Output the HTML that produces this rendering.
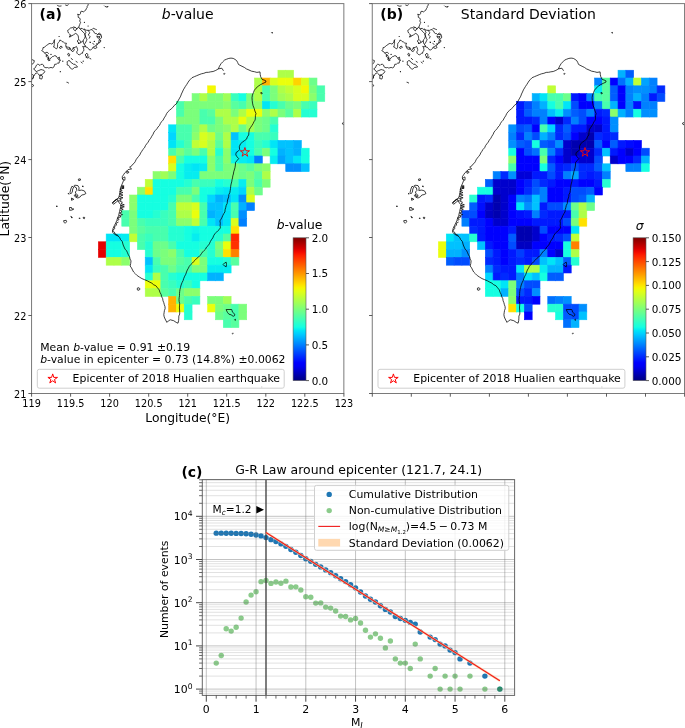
<!DOCTYPE html>
<html><head><meta charset="utf-8"><title>b-value map</title>
<style>html,body{margin:0;padding:0;background:#fff}svg{display:block}text{font-family:"DejaVu Sans","Liberation Sans",sans-serif}</style>
</head><body>
<svg width="685" height="728" viewBox="0 0 685 728" font-family="DejaVu Sans, Liberation Sans, sans-serif" fill="#000">
<rect width="685" height="728" fill="#fff"/>
<g transform="translate(0,0)">
<clipPath id="clipa"><rect x="31.56" y="3.6" width="312.29" height="389.9"/></clipPath>
<g clip-path="url(#clipa)">
<rect x="277.94" y="70.23" width="7.81" height="7.80" fill="#aeff48" stroke="#aeff48" stroke-width="0.6"/>
<rect x="285.75" y="70.23" width="7.81" height="7.80" fill="#aeff48" stroke="#aeff48" stroke-width="0.6"/>
<rect x="254.52" y="78.03" width="7.81" height="7.80" fill="#aeff48" stroke="#aeff48" stroke-width="0.6"/>
<rect x="262.32" y="78.03" width="7.81" height="7.80" fill="#ffb300" stroke="#ffb300" stroke-width="0.6"/>
<rect x="270.13" y="78.03" width="7.81" height="7.80" fill="#d8ff1e" stroke="#d8ff1e" stroke-width="0.6"/>
<rect x="277.94" y="78.03" width="7.81" height="7.80" fill="#eaff0c" stroke="#eaff0c" stroke-width="0.6"/>
<rect x="285.75" y="78.03" width="7.81" height="7.80" fill="#eaff0c" stroke="#eaff0c" stroke-width="0.6"/>
<rect x="293.55" y="78.03" width="7.81" height="7.80" fill="#ffd300" stroke="#ffd300" stroke-width="0.6"/>
<rect x="301.36" y="78.03" width="7.81" height="7.80" fill="#d8ff1e" stroke="#d8ff1e" stroke-width="0.6"/>
<rect x="309.17" y="78.03" width="7.81" height="7.80" fill="#6cff8b" stroke="#6cff8b" stroke-width="0.6"/>
<rect x="207.67" y="85.83" width="7.81" height="7.80" fill="#f4f903" stroke="#f4f903" stroke-width="0.6"/>
<rect x="254.52" y="85.83" width="7.81" height="7.80" fill="#aeff48" stroke="#aeff48" stroke-width="0.6"/>
<rect x="262.32" y="85.83" width="7.81" height="7.80" fill="#48ffae" stroke="#48ffae" stroke-width="0.6"/>
<rect x="270.13" y="85.83" width="7.81" height="7.80" fill="#7bff7b" stroke="#7bff7b" stroke-width="0.6"/>
<rect x="277.94" y="85.83" width="7.81" height="7.80" fill="#aeff48" stroke="#aeff48" stroke-width="0.6"/>
<rect x="285.75" y="85.83" width="7.81" height="7.80" fill="#c0ff36" stroke="#c0ff36" stroke-width="0.6"/>
<rect x="293.55" y="85.83" width="7.81" height="7.80" fill="#d8ff1e" stroke="#d8ff1e" stroke-width="0.6"/>
<rect x="301.36" y="85.83" width="7.81" height="7.80" fill="#f4f903" stroke="#f4f903" stroke-width="0.6"/>
<rect x="309.17" y="85.83" width="7.81" height="7.80" fill="#7bff7b" stroke="#7bff7b" stroke-width="0.6"/>
<rect x="316.97" y="85.83" width="7.81" height="7.80" fill="#48ffae" stroke="#48ffae" stroke-width="0.6"/>
<rect x="192.06" y="93.63" width="7.81" height="7.80" fill="#7bff7b" stroke="#7bff7b" stroke-width="0.6"/>
<rect x="199.87" y="93.63" width="7.81" height="7.80" fill="#aeff48" stroke="#aeff48" stroke-width="0.6"/>
<rect x="207.67" y="93.63" width="7.81" height="7.80" fill="#7bff7b" stroke="#7bff7b" stroke-width="0.6"/>
<rect x="215.48" y="93.63" width="7.81" height="7.80" fill="#7bff7b" stroke="#7bff7b" stroke-width="0.6"/>
<rect x="223.29" y="93.63" width="7.81" height="7.80" fill="#9fff58" stroke="#9fff58" stroke-width="0.6"/>
<rect x="231.09" y="93.63" width="7.81" height="7.80" fill="#39ffbe" stroke="#39ffbe" stroke-width="0.6"/>
<rect x="238.90" y="93.63" width="7.81" height="7.80" fill="#15ffe1" stroke="#15ffe1" stroke-width="0.6"/>
<rect x="246.71" y="93.63" width="7.81" height="7.80" fill="#7bff7b" stroke="#7bff7b" stroke-width="0.6"/>
<rect x="254.52" y="93.63" width="7.81" height="7.80" fill="#aeff48" stroke="#aeff48" stroke-width="0.6"/>
<rect x="262.32" y="93.63" width="7.81" height="7.80" fill="#48ffae" stroke="#48ffae" stroke-width="0.6"/>
<rect x="270.13" y="93.63" width="7.81" height="7.80" fill="#7bff7b" stroke="#7bff7b" stroke-width="0.6"/>
<rect x="277.94" y="93.63" width="7.81" height="7.80" fill="#9fff58" stroke="#9fff58" stroke-width="0.6"/>
<rect x="285.75" y="93.63" width="7.81" height="7.80" fill="#aeff48" stroke="#aeff48" stroke-width="0.6"/>
<rect x="293.55" y="93.63" width="7.81" height="7.80" fill="#d8ff1e" stroke="#d8ff1e" stroke-width="0.6"/>
<rect x="301.36" y="93.63" width="7.81" height="7.80" fill="#d8ff1e" stroke="#d8ff1e" stroke-width="0.6"/>
<rect x="309.17" y="93.63" width="7.81" height="7.80" fill="#8bff6c" stroke="#8bff6c" stroke-width="0.6"/>
<rect x="316.97" y="93.63" width="7.81" height="7.80" fill="#48ffae" stroke="#48ffae" stroke-width="0.6"/>
<rect x="176.44" y="101.42" width="7.81" height="7.80" fill="#48ffae" stroke="#48ffae" stroke-width="0.6"/>
<rect x="184.25" y="101.42" width="7.81" height="7.80" fill="#7bff7b" stroke="#7bff7b" stroke-width="0.6"/>
<rect x="192.06" y="101.42" width="7.81" height="7.80" fill="#7bff7b" stroke="#7bff7b" stroke-width="0.6"/>
<rect x="199.87" y="101.42" width="7.81" height="7.80" fill="#7bff7b" stroke="#7bff7b" stroke-width="0.6"/>
<rect x="207.67" y="101.42" width="7.81" height="7.80" fill="#7bff7b" stroke="#7bff7b" stroke-width="0.6"/>
<rect x="215.48" y="101.42" width="7.81" height="7.80" fill="#7bff7b" stroke="#7bff7b" stroke-width="0.6"/>
<rect x="223.29" y="101.42" width="7.81" height="7.80" fill="#8bff6c" stroke="#8bff6c" stroke-width="0.6"/>
<rect x="231.09" y="101.42" width="7.81" height="7.80" fill="#58ff9f" stroke="#58ff9f" stroke-width="0.6"/>
<rect x="238.90" y="101.42" width="7.81" height="7.80" fill="#48ffae" stroke="#48ffae" stroke-width="0.6"/>
<rect x="246.71" y="101.42" width="7.81" height="7.80" fill="#7bff7b" stroke="#7bff7b" stroke-width="0.6"/>
<rect x="254.52" y="101.42" width="7.81" height="7.80" fill="#8bff6c" stroke="#8bff6c" stroke-width="0.6"/>
<rect x="262.32" y="101.42" width="7.81" height="7.80" fill="#00e5f7" stroke="#00e5f7" stroke-width="0.6"/>
<rect x="270.13" y="101.42" width="7.81" height="7.80" fill="#25ffd2" stroke="#25ffd2" stroke-width="0.6"/>
<rect x="277.94" y="101.42" width="7.81" height="7.80" fill="#48ffae" stroke="#48ffae" stroke-width="0.6"/>
<rect x="285.75" y="101.42" width="7.81" height="7.80" fill="#6cff8b" stroke="#6cff8b" stroke-width="0.6"/>
<rect x="293.55" y="101.42" width="7.81" height="7.80" fill="#7bff7b" stroke="#7bff7b" stroke-width="0.6"/>
<rect x="301.36" y="101.42" width="7.81" height="7.80" fill="#48ffae" stroke="#48ffae" stroke-width="0.6"/>
<rect x="309.17" y="101.42" width="7.81" height="7.80" fill="#39ffbe" stroke="#39ffbe" stroke-width="0.6"/>
<rect x="176.44" y="109.22" width="7.81" height="7.80" fill="#48ffae" stroke="#48ffae" stroke-width="0.6"/>
<rect x="184.25" y="109.22" width="7.81" height="7.80" fill="#7bff7b" stroke="#7bff7b" stroke-width="0.6"/>
<rect x="192.06" y="109.22" width="7.81" height="7.80" fill="#7bff7b" stroke="#7bff7b" stroke-width="0.6"/>
<rect x="199.87" y="109.22" width="7.81" height="7.80" fill="#48ffae" stroke="#48ffae" stroke-width="0.6"/>
<rect x="207.67" y="109.22" width="7.81" height="7.80" fill="#58ff9f" stroke="#58ff9f" stroke-width="0.6"/>
<rect x="215.48" y="109.22" width="7.81" height="7.80" fill="#aeff48" stroke="#aeff48" stroke-width="0.6"/>
<rect x="223.29" y="109.22" width="7.81" height="7.80" fill="#aeff48" stroke="#aeff48" stroke-width="0.6"/>
<rect x="231.09" y="109.22" width="7.81" height="7.80" fill="#7bff7b" stroke="#7bff7b" stroke-width="0.6"/>
<rect x="238.90" y="109.22" width="7.81" height="7.80" fill="#aeff48" stroke="#aeff48" stroke-width="0.6"/>
<rect x="246.71" y="109.22" width="7.81" height="7.80" fill="#eaff0c" stroke="#eaff0c" stroke-width="0.6"/>
<rect x="254.52" y="109.22" width="7.81" height="7.80" fill="#eaff0c" stroke="#eaff0c" stroke-width="0.6"/>
<rect x="262.32" y="109.22" width="7.81" height="7.80" fill="#8bff6c" stroke="#8bff6c" stroke-width="0.6"/>
<rect x="270.13" y="109.22" width="7.81" height="7.80" fill="#aeff48" stroke="#aeff48" stroke-width="0.6"/>
<rect x="277.94" y="109.22" width="7.81" height="7.80" fill="#7bff7b" stroke="#7bff7b" stroke-width="0.6"/>
<rect x="285.75" y="109.22" width="7.81" height="7.80" fill="#58ff9f" stroke="#58ff9f" stroke-width="0.6"/>
<rect x="293.55" y="109.22" width="7.81" height="7.80" fill="#aeff48" stroke="#aeff48" stroke-width="0.6"/>
<rect x="301.36" y="109.22" width="7.81" height="7.80" fill="#25ffd2" stroke="#25ffd2" stroke-width="0.6"/>
<rect x="309.17" y="109.22" width="7.81" height="7.80" fill="#25ffd2" stroke="#25ffd2" stroke-width="0.6"/>
<rect x="176.44" y="117.02" width="7.81" height="7.80" fill="#7bff7b" stroke="#7bff7b" stroke-width="0.6"/>
<rect x="184.25" y="117.02" width="7.81" height="7.80" fill="#7bff7b" stroke="#7bff7b" stroke-width="0.6"/>
<rect x="192.06" y="117.02" width="7.81" height="7.80" fill="#7bff7b" stroke="#7bff7b" stroke-width="0.6"/>
<rect x="199.87" y="117.02" width="7.81" height="7.80" fill="#48ffae" stroke="#48ffae" stroke-width="0.6"/>
<rect x="207.67" y="117.02" width="7.81" height="7.80" fill="#48ffae" stroke="#48ffae" stroke-width="0.6"/>
<rect x="215.48" y="117.02" width="7.81" height="7.80" fill="#7bff7b" stroke="#7bff7b" stroke-width="0.6"/>
<rect x="223.29" y="117.02" width="7.81" height="7.80" fill="#aeff48" stroke="#aeff48" stroke-width="0.6"/>
<rect x="231.09" y="117.02" width="7.81" height="7.80" fill="#aeff48" stroke="#aeff48" stroke-width="0.6"/>
<rect x="238.90" y="117.02" width="7.81" height="7.80" fill="#eaff0c" stroke="#eaff0c" stroke-width="0.6"/>
<rect x="246.71" y="117.02" width="7.81" height="7.80" fill="#aeff48" stroke="#aeff48" stroke-width="0.6"/>
<rect x="254.52" y="117.02" width="7.81" height="7.80" fill="#7bff7b" stroke="#7bff7b" stroke-width="0.6"/>
<rect x="262.32" y="117.02" width="7.81" height="7.80" fill="#6cff8b" stroke="#6cff8b" stroke-width="0.6"/>
<rect x="270.13" y="117.02" width="7.81" height="7.80" fill="#48ffae" stroke="#48ffae" stroke-width="0.6"/>
<rect x="168.64" y="124.82" width="7.81" height="7.80" fill="#00e5f7" stroke="#00e5f7" stroke-width="0.6"/>
<rect x="176.44" y="124.82" width="7.81" height="7.80" fill="#48ffae" stroke="#48ffae" stroke-width="0.6"/>
<rect x="184.25" y="124.82" width="7.81" height="7.80" fill="#48ffae" stroke="#48ffae" stroke-width="0.6"/>
<rect x="192.06" y="124.82" width="7.81" height="7.80" fill="#7bff7b" stroke="#7bff7b" stroke-width="0.6"/>
<rect x="199.87" y="124.82" width="7.81" height="7.80" fill="#aeff48" stroke="#aeff48" stroke-width="0.6"/>
<rect x="207.67" y="124.82" width="7.81" height="7.80" fill="#6cff8b" stroke="#6cff8b" stroke-width="0.6"/>
<rect x="215.48" y="124.82" width="7.81" height="7.80" fill="#7bff7b" stroke="#7bff7b" stroke-width="0.6"/>
<rect x="223.29" y="124.82" width="7.81" height="7.80" fill="#8bff6c" stroke="#8bff6c" stroke-width="0.6"/>
<rect x="231.09" y="124.82" width="7.81" height="7.80" fill="#aeff48" stroke="#aeff48" stroke-width="0.6"/>
<rect x="238.90" y="124.82" width="7.81" height="7.80" fill="#6cff8b" stroke="#6cff8b" stroke-width="0.6"/>
<rect x="246.71" y="124.82" width="7.81" height="7.80" fill="#9fff58" stroke="#9fff58" stroke-width="0.6"/>
<rect x="254.52" y="124.82" width="7.81" height="7.80" fill="#7bff7b" stroke="#7bff7b" stroke-width="0.6"/>
<rect x="262.32" y="124.82" width="7.81" height="7.80" fill="#6cff8b" stroke="#6cff8b" stroke-width="0.6"/>
<rect x="270.13" y="124.82" width="7.81" height="7.80" fill="#25ffd2" stroke="#25ffd2" stroke-width="0.6"/>
<rect x="168.64" y="132.62" width="7.81" height="7.80" fill="#00d6ff" stroke="#00d6ff" stroke-width="0.6"/>
<rect x="176.44" y="132.62" width="7.81" height="7.80" fill="#48ffae" stroke="#48ffae" stroke-width="0.6"/>
<rect x="184.25" y="132.62" width="7.81" height="7.80" fill="#48ffae" stroke="#48ffae" stroke-width="0.6"/>
<rect x="192.06" y="132.62" width="7.81" height="7.80" fill="#8bff6c" stroke="#8bff6c" stroke-width="0.6"/>
<rect x="199.87" y="132.62" width="7.81" height="7.80" fill="#d8ff1e" stroke="#d8ff1e" stroke-width="0.6"/>
<rect x="207.67" y="132.62" width="7.81" height="7.80" fill="#c0ff36" stroke="#c0ff36" stroke-width="0.6"/>
<rect x="215.48" y="132.62" width="7.81" height="7.80" fill="#6cff8b" stroke="#6cff8b" stroke-width="0.6"/>
<rect x="223.29" y="132.62" width="7.81" height="7.80" fill="#aeff48" stroke="#aeff48" stroke-width="0.6"/>
<rect x="231.09" y="132.62" width="7.81" height="7.80" fill="#00c2ff" stroke="#00c2ff" stroke-width="0.6"/>
<rect x="238.90" y="132.62" width="7.81" height="7.80" fill="#15ffe1" stroke="#15ffe1" stroke-width="0.6"/>
<rect x="246.71" y="132.62" width="7.81" height="7.80" fill="#15ffe1" stroke="#15ffe1" stroke-width="0.6"/>
<rect x="254.52" y="132.62" width="7.81" height="7.80" fill="#48ffae" stroke="#48ffae" stroke-width="0.6"/>
<rect x="262.32" y="132.62" width="7.81" height="7.80" fill="#48ffae" stroke="#48ffae" stroke-width="0.6"/>
<rect x="270.13" y="132.62" width="7.81" height="7.80" fill="#39ffbe" stroke="#39ffbe" stroke-width="0.6"/>
<rect x="168.64" y="140.41" width="7.81" height="7.80" fill="#00e5f7" stroke="#00e5f7" stroke-width="0.6"/>
<rect x="176.44" y="140.41" width="7.81" height="7.80" fill="#25ffd2" stroke="#25ffd2" stroke-width="0.6"/>
<rect x="184.25" y="140.41" width="7.81" height="7.80" fill="#48ffae" stroke="#48ffae" stroke-width="0.6"/>
<rect x="192.06" y="140.41" width="7.81" height="7.80" fill="#c0ff36" stroke="#c0ff36" stroke-width="0.6"/>
<rect x="199.87" y="140.41" width="7.81" height="7.80" fill="#d8ff1e" stroke="#d8ff1e" stroke-width="0.6"/>
<rect x="207.67" y="140.41" width="7.81" height="7.80" fill="#aeff48" stroke="#aeff48" stroke-width="0.6"/>
<rect x="215.48" y="140.41" width="7.81" height="7.80" fill="#58ff9f" stroke="#58ff9f" stroke-width="0.6"/>
<rect x="223.29" y="140.41" width="7.81" height="7.80" fill="#aeff48" stroke="#aeff48" stroke-width="0.6"/>
<rect x="231.09" y="140.41" width="7.81" height="7.80" fill="#00e5f7" stroke="#00e5f7" stroke-width="0.6"/>
<rect x="238.90" y="140.41" width="7.81" height="7.80" fill="#06edf0" stroke="#06edf0" stroke-width="0.6"/>
<rect x="246.71" y="140.41" width="7.81" height="7.80" fill="#15ffe1" stroke="#15ffe1" stroke-width="0.6"/>
<rect x="254.52" y="140.41" width="7.81" height="7.80" fill="#39ffbe" stroke="#39ffbe" stroke-width="0.6"/>
<rect x="262.32" y="140.41" width="7.81" height="7.80" fill="#25ffd2" stroke="#25ffd2" stroke-width="0.6"/>
<rect x="270.13" y="140.41" width="7.81" height="7.80" fill="#00e5f7" stroke="#00e5f7" stroke-width="0.6"/>
<rect x="277.94" y="140.41" width="7.81" height="7.80" fill="#00c2ff" stroke="#00c2ff" stroke-width="0.6"/>
<rect x="285.75" y="140.41" width="7.81" height="7.80" fill="#00c2ff" stroke="#00c2ff" stroke-width="0.6"/>
<rect x="293.55" y="140.41" width="7.81" height="7.80" fill="#00b2ff" stroke="#00b2ff" stroke-width="0.6"/>
<rect x="168.64" y="148.21" width="7.81" height="7.80" fill="#48ffae" stroke="#48ffae" stroke-width="0.6"/>
<rect x="176.44" y="148.21" width="7.81" height="7.80" fill="#7bff7b" stroke="#7bff7b" stroke-width="0.6"/>
<rect x="184.25" y="148.21" width="7.81" height="7.80" fill="#58ff9f" stroke="#58ff9f" stroke-width="0.6"/>
<rect x="192.06" y="148.21" width="7.81" height="7.80" fill="#7bff7b" stroke="#7bff7b" stroke-width="0.6"/>
<rect x="199.87" y="148.21" width="7.81" height="7.80" fill="#48ffae" stroke="#48ffae" stroke-width="0.6"/>
<rect x="207.67" y="148.21" width="7.81" height="7.80" fill="#aeff48" stroke="#aeff48" stroke-width="0.6"/>
<rect x="215.48" y="148.21" width="7.81" height="7.80" fill="#25ffd2" stroke="#25ffd2" stroke-width="0.6"/>
<rect x="223.29" y="148.21" width="7.81" height="7.80" fill="#8bff6c" stroke="#8bff6c" stroke-width="0.6"/>
<rect x="231.09" y="148.21" width="7.81" height="7.80" fill="#00e5f7" stroke="#00e5f7" stroke-width="0.6"/>
<rect x="238.90" y="148.21" width="7.81" height="7.80" fill="#06edf0" stroke="#06edf0" stroke-width="0.6"/>
<rect x="246.71" y="148.21" width="7.81" height="7.80" fill="#15ffe1" stroke="#15ffe1" stroke-width="0.6"/>
<rect x="254.52" y="148.21" width="7.81" height="7.80" fill="#48ffae" stroke="#48ffae" stroke-width="0.6"/>
<rect x="262.32" y="148.21" width="7.81" height="7.80" fill="#7bff7b" stroke="#7bff7b" stroke-width="0.6"/>
<rect x="270.13" y="148.21" width="7.81" height="7.80" fill="#15ffe1" stroke="#15ffe1" stroke-width="0.6"/>
<rect x="277.94" y="148.21" width="7.81" height="7.80" fill="#00b2ff" stroke="#00b2ff" stroke-width="0.6"/>
<rect x="285.75" y="148.21" width="7.81" height="7.80" fill="#00c2ff" stroke="#00c2ff" stroke-width="0.6"/>
<rect x="293.55" y="148.21" width="7.81" height="7.80" fill="#00b2ff" stroke="#00b2ff" stroke-width="0.6"/>
<rect x="301.36" y="148.21" width="7.81" height="7.80" fill="#15ffe1" stroke="#15ffe1" stroke-width="0.6"/>
<rect x="168.64" y="156.01" width="7.81" height="7.80" fill="#ffe100" stroke="#ffe100" stroke-width="0.6"/>
<rect x="176.44" y="156.01" width="7.81" height="7.80" fill="#48ffae" stroke="#48ffae" stroke-width="0.6"/>
<rect x="184.25" y="156.01" width="7.81" height="7.80" fill="#15ffe1" stroke="#15ffe1" stroke-width="0.6"/>
<rect x="192.06" y="156.01" width="7.81" height="7.80" fill="#15ffe1" stroke="#15ffe1" stroke-width="0.6"/>
<rect x="199.87" y="156.01" width="7.81" height="7.80" fill="#15ffe1" stroke="#15ffe1" stroke-width="0.6"/>
<rect x="207.67" y="156.01" width="7.81" height="7.80" fill="#8bff6c" stroke="#8bff6c" stroke-width="0.6"/>
<rect x="215.48" y="156.01" width="7.81" height="7.80" fill="#48ffae" stroke="#48ffae" stroke-width="0.6"/>
<rect x="223.29" y="156.01" width="7.81" height="7.80" fill="#8bff6c" stroke="#8bff6c" stroke-width="0.6"/>
<rect x="231.09" y="156.01" width="7.81" height="7.80" fill="#0ff8e8" stroke="#0ff8e8" stroke-width="0.6"/>
<rect x="238.90" y="156.01" width="7.81" height="7.80" fill="#06edf0" stroke="#06edf0" stroke-width="0.6"/>
<rect x="246.71" y="156.01" width="7.81" height="7.80" fill="#00e5f7" stroke="#00e5f7" stroke-width="0.6"/>
<rect x="254.52" y="156.01" width="7.81" height="7.80" fill="#0080ff" stroke="#0080ff" stroke-width="0.6"/>
<rect x="270.13" y="156.01" width="7.81" height="7.80" fill="#06edf0" stroke="#06edf0" stroke-width="0.6"/>
<rect x="277.94" y="156.01" width="7.81" height="7.80" fill="#00a3ff" stroke="#00a3ff" stroke-width="0.6"/>
<rect x="285.75" y="156.01" width="7.81" height="7.80" fill="#00c2ff" stroke="#00c2ff" stroke-width="0.6"/>
<rect x="293.55" y="156.01" width="7.81" height="7.80" fill="#00e5f7" stroke="#00e5f7" stroke-width="0.6"/>
<rect x="301.36" y="156.01" width="7.81" height="7.80" fill="#15ffe1" stroke="#15ffe1" stroke-width="0.6"/>
<rect x="168.64" y="163.81" width="7.81" height="7.80" fill="#d8ff1e" stroke="#d8ff1e" stroke-width="0.6"/>
<rect x="176.44" y="163.81" width="7.81" height="7.80" fill="#15ffe1" stroke="#15ffe1" stroke-width="0.6"/>
<rect x="184.25" y="163.81" width="7.81" height="7.80" fill="#06edf0" stroke="#06edf0" stroke-width="0.6"/>
<rect x="192.06" y="163.81" width="7.81" height="7.80" fill="#00e5f7" stroke="#00e5f7" stroke-width="0.6"/>
<rect x="199.87" y="163.81" width="7.81" height="7.80" fill="#06edf0" stroke="#06edf0" stroke-width="0.6"/>
<rect x="207.67" y="163.81" width="7.81" height="7.80" fill="#8bff6c" stroke="#8bff6c" stroke-width="0.6"/>
<rect x="215.48" y="163.81" width="7.81" height="7.80" fill="#48ffae" stroke="#48ffae" stroke-width="0.6"/>
<rect x="223.29" y="163.81" width="7.81" height="7.80" fill="#7bff7b" stroke="#7bff7b" stroke-width="0.6"/>
<rect x="231.09" y="163.81" width="7.81" height="7.80" fill="#7bff7b" stroke="#7bff7b" stroke-width="0.6"/>
<rect x="238.90" y="163.81" width="7.81" height="7.80" fill="#6cff8b" stroke="#6cff8b" stroke-width="0.6"/>
<rect x="246.71" y="163.81" width="7.81" height="7.80" fill="#58ff9f" stroke="#58ff9f" stroke-width="0.6"/>
<rect x="254.52" y="163.81" width="7.81" height="7.80" fill="#7bff7b" stroke="#7bff7b" stroke-width="0.6"/>
<rect x="262.32" y="163.81" width="7.81" height="7.80" fill="#8bff6c" stroke="#8bff6c" stroke-width="0.6"/>
<rect x="285.75" y="163.81" width="7.81" height="7.80" fill="#008fff" stroke="#008fff" stroke-width="0.6"/>
<rect x="293.55" y="163.81" width="7.81" height="7.80" fill="#008fff" stroke="#008fff" stroke-width="0.6"/>
<rect x="301.36" y="163.81" width="7.81" height="7.80" fill="#00c2ff" stroke="#00c2ff" stroke-width="0.6"/>
<rect x="153.02" y="171.61" width="7.81" height="7.80" fill="#8bff6c" stroke="#8bff6c" stroke-width="0.6"/>
<rect x="160.83" y="171.61" width="7.81" height="7.80" fill="#9fff58" stroke="#9fff58" stroke-width="0.6"/>
<rect x="168.64" y="171.61" width="7.81" height="7.80" fill="#7bff7b" stroke="#7bff7b" stroke-width="0.6"/>
<rect x="176.44" y="171.61" width="7.81" height="7.80" fill="#15ffe1" stroke="#15ffe1" stroke-width="0.6"/>
<rect x="184.25" y="171.61" width="7.81" height="7.80" fill="#06edf0" stroke="#06edf0" stroke-width="0.6"/>
<rect x="192.06" y="171.61" width="7.81" height="7.80" fill="#06edf0" stroke="#06edf0" stroke-width="0.6"/>
<rect x="199.87" y="171.61" width="7.81" height="7.80" fill="#7bff7b" stroke="#7bff7b" stroke-width="0.6"/>
<rect x="207.67" y="171.61" width="7.81" height="7.80" fill="#7bff7b" stroke="#7bff7b" stroke-width="0.6"/>
<rect x="215.48" y="171.61" width="7.81" height="7.80" fill="#7bff7b" stroke="#7bff7b" stroke-width="0.6"/>
<rect x="223.29" y="171.61" width="7.81" height="7.80" fill="#7bff7b" stroke="#7bff7b" stroke-width="0.6"/>
<rect x="231.09" y="171.61" width="7.81" height="7.80" fill="#7bff7b" stroke="#7bff7b" stroke-width="0.6"/>
<rect x="238.90" y="171.61" width="7.81" height="7.80" fill="#6cff8b" stroke="#6cff8b" stroke-width="0.6"/>
<rect x="246.71" y="171.61" width="7.81" height="7.80" fill="#7bff7b" stroke="#7bff7b" stroke-width="0.6"/>
<rect x="254.52" y="171.61" width="7.81" height="7.80" fill="#58ff9f" stroke="#58ff9f" stroke-width="0.6"/>
<rect x="262.32" y="171.61" width="7.81" height="7.80" fill="#aeff48" stroke="#aeff48" stroke-width="0.6"/>
<rect x="145.22" y="179.40" width="7.81" height="7.80" fill="#c0ff36" stroke="#c0ff36" stroke-width="0.6"/>
<rect x="153.02" y="179.40" width="7.81" height="7.80" fill="#15ffe1" stroke="#15ffe1" stroke-width="0.6"/>
<rect x="160.83" y="179.40" width="7.81" height="7.80" fill="#15ffe1" stroke="#15ffe1" stroke-width="0.6"/>
<rect x="168.64" y="179.40" width="7.81" height="7.80" fill="#15ffe1" stroke="#15ffe1" stroke-width="0.6"/>
<rect x="176.44" y="179.40" width="7.81" height="7.80" fill="#15ffe1" stroke="#15ffe1" stroke-width="0.6"/>
<rect x="184.25" y="179.40" width="7.81" height="7.80" fill="#25ffd2" stroke="#25ffd2" stroke-width="0.6"/>
<rect x="192.06" y="179.40" width="7.81" height="7.80" fill="#48ffae" stroke="#48ffae" stroke-width="0.6"/>
<rect x="199.87" y="179.40" width="7.81" height="7.80" fill="#39ffbe" stroke="#39ffbe" stroke-width="0.6"/>
<rect x="207.67" y="179.40" width="7.81" height="7.80" fill="#39ffbe" stroke="#39ffbe" stroke-width="0.6"/>
<rect x="215.48" y="179.40" width="7.81" height="7.80" fill="#15ffe1" stroke="#15ffe1" stroke-width="0.6"/>
<rect x="223.29" y="179.40" width="7.81" height="7.80" fill="#25ffd2" stroke="#25ffd2" stroke-width="0.6"/>
<rect x="231.09" y="179.40" width="7.81" height="7.80" fill="#48ffae" stroke="#48ffae" stroke-width="0.6"/>
<rect x="238.90" y="179.40" width="7.81" height="7.80" fill="#06edf0" stroke="#06edf0" stroke-width="0.6"/>
<rect x="246.71" y="179.40" width="7.81" height="7.80" fill="#7bff7b" stroke="#7bff7b" stroke-width="0.6"/>
<rect x="254.52" y="179.40" width="7.81" height="7.80" fill="#48ffae" stroke="#48ffae" stroke-width="0.6"/>
<rect x="262.32" y="179.40" width="7.81" height="7.80" fill="#7bff7b" stroke="#7bff7b" stroke-width="0.6"/>
<rect x="137.41" y="187.20" width="7.81" height="7.80" fill="#8bff6c" stroke="#8bff6c" stroke-width="0.6"/>
<rect x="145.22" y="187.20" width="7.81" height="7.80" fill="#ffe100" stroke="#ffe100" stroke-width="0.6"/>
<rect x="153.02" y="187.20" width="7.81" height="7.80" fill="#15ffe1" stroke="#15ffe1" stroke-width="0.6"/>
<rect x="160.83" y="187.20" width="7.81" height="7.80" fill="#15ffe1" stroke="#15ffe1" stroke-width="0.6"/>
<rect x="168.64" y="187.20" width="7.81" height="7.80" fill="#15ffe1" stroke="#15ffe1" stroke-width="0.6"/>
<rect x="176.44" y="187.20" width="7.81" height="7.80" fill="#48ffae" stroke="#48ffae" stroke-width="0.6"/>
<rect x="184.25" y="187.20" width="7.81" height="7.80" fill="#48ffae" stroke="#48ffae" stroke-width="0.6"/>
<rect x="192.06" y="187.20" width="7.81" height="7.80" fill="#7bff7b" stroke="#7bff7b" stroke-width="0.6"/>
<rect x="199.87" y="187.20" width="7.81" height="7.80" fill="#15ffe1" stroke="#15ffe1" stroke-width="0.6"/>
<rect x="207.67" y="187.20" width="7.81" height="7.80" fill="#15ffe1" stroke="#15ffe1" stroke-width="0.6"/>
<rect x="215.48" y="187.20" width="7.81" height="7.80" fill="#06edf0" stroke="#06edf0" stroke-width="0.6"/>
<rect x="223.29" y="187.20" width="7.81" height="7.80" fill="#00e5f7" stroke="#00e5f7" stroke-width="0.6"/>
<rect x="231.09" y="187.20" width="7.81" height="7.80" fill="#06edf0" stroke="#06edf0" stroke-width="0.6"/>
<rect x="238.90" y="187.20" width="7.81" height="7.80" fill="#00d6ff" stroke="#00d6ff" stroke-width="0.6"/>
<rect x="246.71" y="187.20" width="7.81" height="7.80" fill="#aeff48" stroke="#aeff48" stroke-width="0.6"/>
<rect x="254.52" y="187.20" width="7.81" height="7.80" fill="#6cff8b" stroke="#6cff8b" stroke-width="0.6"/>
<rect x="129.60" y="195.00" width="7.81" height="7.80" fill="#8bff6c" stroke="#8bff6c" stroke-width="0.6"/>
<rect x="137.41" y="195.00" width="7.81" height="7.80" fill="#15ffe1" stroke="#15ffe1" stroke-width="0.6"/>
<rect x="145.22" y="195.00" width="7.81" height="7.80" fill="#15ffe1" stroke="#15ffe1" stroke-width="0.6"/>
<rect x="153.02" y="195.00" width="7.81" height="7.80" fill="#15ffe1" stroke="#15ffe1" stroke-width="0.6"/>
<rect x="160.83" y="195.00" width="7.81" height="7.80" fill="#15ffe1" stroke="#15ffe1" stroke-width="0.6"/>
<rect x="168.64" y="195.00" width="7.81" height="7.80" fill="#25ffd2" stroke="#25ffd2" stroke-width="0.6"/>
<rect x="176.44" y="195.00" width="7.81" height="7.80" fill="#7bff7b" stroke="#7bff7b" stroke-width="0.6"/>
<rect x="184.25" y="195.00" width="7.81" height="7.80" fill="#7bff7b" stroke="#7bff7b" stroke-width="0.6"/>
<rect x="192.06" y="195.00" width="7.81" height="7.80" fill="#48ffae" stroke="#48ffae" stroke-width="0.6"/>
<rect x="199.87" y="195.00" width="7.81" height="7.80" fill="#15ffe1" stroke="#15ffe1" stroke-width="0.6"/>
<rect x="207.67" y="195.00" width="7.81" height="7.80" fill="#00d6ff" stroke="#00d6ff" stroke-width="0.6"/>
<rect x="215.48" y="195.00" width="7.81" height="7.80" fill="#00b2ff" stroke="#00b2ff" stroke-width="0.6"/>
<rect x="223.29" y="195.00" width="7.81" height="7.80" fill="#00c2ff" stroke="#00c2ff" stroke-width="0.6"/>
<rect x="231.09" y="195.00" width="7.81" height="7.80" fill="#00e5f7" stroke="#00e5f7" stroke-width="0.6"/>
<rect x="238.90" y="195.00" width="7.81" height="7.80" fill="#008fff" stroke="#008fff" stroke-width="0.6"/>
<rect x="246.71" y="195.00" width="7.81" height="7.80" fill="#d8ff1e" stroke="#d8ff1e" stroke-width="0.6"/>
<rect x="129.60" y="202.80" width="7.81" height="7.80" fill="#8bff6c" stroke="#8bff6c" stroke-width="0.6"/>
<rect x="137.41" y="202.80" width="7.81" height="7.80" fill="#15ffe1" stroke="#15ffe1" stroke-width="0.6"/>
<rect x="145.22" y="202.80" width="7.81" height="7.80" fill="#15ffe1" stroke="#15ffe1" stroke-width="0.6"/>
<rect x="153.02" y="202.80" width="7.81" height="7.80" fill="#15ffe1" stroke="#15ffe1" stroke-width="0.6"/>
<rect x="160.83" y="202.80" width="7.81" height="7.80" fill="#15ffe1" stroke="#15ffe1" stroke-width="0.6"/>
<rect x="168.64" y="202.80" width="7.81" height="7.80" fill="#48ffae" stroke="#48ffae" stroke-width="0.6"/>
<rect x="176.44" y="202.80" width="7.81" height="7.80" fill="#c0ff36" stroke="#c0ff36" stroke-width="0.6"/>
<rect x="184.25" y="202.80" width="7.81" height="7.80" fill="#c0ff36" stroke="#c0ff36" stroke-width="0.6"/>
<rect x="192.06" y="202.80" width="7.81" height="7.80" fill="#d8ff1e" stroke="#d8ff1e" stroke-width="0.6"/>
<rect x="199.87" y="202.80" width="7.81" height="7.80" fill="#48ffae" stroke="#48ffae" stroke-width="0.6"/>
<rect x="207.67" y="202.80" width="7.81" height="7.80" fill="#00c2ff" stroke="#00c2ff" stroke-width="0.6"/>
<rect x="215.48" y="202.80" width="7.81" height="7.80" fill="#00c2ff" stroke="#00c2ff" stroke-width="0.6"/>
<rect x="223.29" y="202.80" width="7.81" height="7.80" fill="#00e5f7" stroke="#00e5f7" stroke-width="0.6"/>
<rect x="231.09" y="202.80" width="7.81" height="7.80" fill="#48ffae" stroke="#48ffae" stroke-width="0.6"/>
<rect x="238.90" y="202.80" width="7.81" height="7.80" fill="#00b2ff" stroke="#00b2ff" stroke-width="0.6"/>
<rect x="246.71" y="202.80" width="7.81" height="7.80" fill="#0080ff" stroke="#0080ff" stroke-width="0.6"/>
<rect x="121.79" y="210.60" width="7.81" height="7.80" fill="#48ffae" stroke="#48ffae" stroke-width="0.6"/>
<rect x="129.60" y="210.60" width="7.81" height="7.80" fill="#7bff7b" stroke="#7bff7b" stroke-width="0.6"/>
<rect x="137.41" y="210.60" width="7.81" height="7.80" fill="#15ffe1" stroke="#15ffe1" stroke-width="0.6"/>
<rect x="145.22" y="210.60" width="7.81" height="7.80" fill="#15ffe1" stroke="#15ffe1" stroke-width="0.6"/>
<rect x="153.02" y="210.60" width="7.81" height="7.80" fill="#25ffd2" stroke="#25ffd2" stroke-width="0.6"/>
<rect x="160.83" y="210.60" width="7.81" height="7.80" fill="#39ffbe" stroke="#39ffbe" stroke-width="0.6"/>
<rect x="168.64" y="210.60" width="7.81" height="7.80" fill="#48ffae" stroke="#48ffae" stroke-width="0.6"/>
<rect x="176.44" y="210.60" width="7.81" height="7.80" fill="#aeff48" stroke="#aeff48" stroke-width="0.6"/>
<rect x="184.25" y="210.60" width="7.81" height="7.80" fill="#aeff48" stroke="#aeff48" stroke-width="0.6"/>
<rect x="192.06" y="210.60" width="7.81" height="7.80" fill="#eaff0c" stroke="#eaff0c" stroke-width="0.6"/>
<rect x="199.87" y="210.60" width="7.81" height="7.80" fill="#48ffae" stroke="#48ffae" stroke-width="0.6"/>
<rect x="207.67" y="210.60" width="7.81" height="7.80" fill="#00b2ff" stroke="#00b2ff" stroke-width="0.6"/>
<rect x="215.48" y="210.60" width="7.81" height="7.80" fill="#00c2ff" stroke="#00c2ff" stroke-width="0.6"/>
<rect x="223.29" y="210.60" width="7.81" height="7.80" fill="#00e5f7" stroke="#00e5f7" stroke-width="0.6"/>
<rect x="231.09" y="210.60" width="7.81" height="7.80" fill="#48ffae" stroke="#48ffae" stroke-width="0.6"/>
<rect x="238.90" y="210.60" width="7.81" height="7.80" fill="#008fff" stroke="#008fff" stroke-width="0.6"/>
<rect x="121.79" y="218.39" width="7.81" height="7.80" fill="#48ffae" stroke="#48ffae" stroke-width="0.6"/>
<rect x="129.60" y="218.39" width="7.81" height="7.80" fill="#7bff7b" stroke="#7bff7b" stroke-width="0.6"/>
<rect x="137.41" y="218.39" width="7.81" height="7.80" fill="#48ffae" stroke="#48ffae" stroke-width="0.6"/>
<rect x="145.22" y="218.39" width="7.81" height="7.80" fill="#39ffbe" stroke="#39ffbe" stroke-width="0.6"/>
<rect x="153.02" y="218.39" width="7.81" height="7.80" fill="#39ffbe" stroke="#39ffbe" stroke-width="0.6"/>
<rect x="160.83" y="218.39" width="7.81" height="7.80" fill="#39ffbe" stroke="#39ffbe" stroke-width="0.6"/>
<rect x="168.64" y="218.39" width="7.81" height="7.80" fill="#48ffae" stroke="#48ffae" stroke-width="0.6"/>
<rect x="176.44" y="218.39" width="7.81" height="7.80" fill="#8bff6c" stroke="#8bff6c" stroke-width="0.6"/>
<rect x="184.25" y="218.39" width="7.81" height="7.80" fill="#8bff6c" stroke="#8bff6c" stroke-width="0.6"/>
<rect x="192.06" y="218.39" width="7.81" height="7.80" fill="#c0ff36" stroke="#c0ff36" stroke-width="0.6"/>
<rect x="199.87" y="218.39" width="7.81" height="7.80" fill="#48ffae" stroke="#48ffae" stroke-width="0.6"/>
<rect x="207.67" y="218.39" width="7.81" height="7.80" fill="#00e5f7" stroke="#00e5f7" stroke-width="0.6"/>
<rect x="215.48" y="218.39" width="7.81" height="7.80" fill="#00c2ff" stroke="#00c2ff" stroke-width="0.6"/>
<rect x="223.29" y="218.39" width="7.81" height="7.80" fill="#00e5f7" stroke="#00e5f7" stroke-width="0.6"/>
<rect x="231.09" y="218.39" width="7.81" height="7.80" fill="#d8ff1e" stroke="#d8ff1e" stroke-width="0.6"/>
<rect x="238.90" y="218.39" width="7.81" height="7.80" fill="#0080ff" stroke="#0080ff" stroke-width="0.6"/>
<rect x="129.60" y="226.19" width="7.81" height="7.80" fill="#7bff7b" stroke="#7bff7b" stroke-width="0.6"/>
<rect x="137.41" y="226.19" width="7.81" height="7.80" fill="#58ff9f" stroke="#58ff9f" stroke-width="0.6"/>
<rect x="145.22" y="226.19" width="7.81" height="7.80" fill="#48ffae" stroke="#48ffae" stroke-width="0.6"/>
<rect x="153.02" y="226.19" width="7.81" height="7.80" fill="#48ffae" stroke="#48ffae" stroke-width="0.6"/>
<rect x="160.83" y="226.19" width="7.81" height="7.80" fill="#48ffae" stroke="#48ffae" stroke-width="0.6"/>
<rect x="168.64" y="226.19" width="7.81" height="7.80" fill="#25ffd2" stroke="#25ffd2" stroke-width="0.6"/>
<rect x="176.44" y="226.19" width="7.81" height="7.80" fill="#25ffd2" stroke="#25ffd2" stroke-width="0.6"/>
<rect x="184.25" y="226.19" width="7.81" height="7.80" fill="#15ffe1" stroke="#15ffe1" stroke-width="0.6"/>
<rect x="192.06" y="226.19" width="7.81" height="7.80" fill="#0ff8e8" stroke="#0ff8e8" stroke-width="0.6"/>
<rect x="199.87" y="226.19" width="7.81" height="7.80" fill="#15ffe1" stroke="#15ffe1" stroke-width="0.6"/>
<rect x="207.67" y="226.19" width="7.81" height="7.80" fill="#15ffe1" stroke="#15ffe1" stroke-width="0.6"/>
<rect x="215.48" y="226.19" width="7.81" height="7.80" fill="#15ffe1" stroke="#15ffe1" stroke-width="0.6"/>
<rect x="223.29" y="226.19" width="7.81" height="7.80" fill="#15ffe1" stroke="#15ffe1" stroke-width="0.6"/>
<rect x="231.09" y="226.19" width="7.81" height="7.80" fill="#ffe100" stroke="#ffe100" stroke-width="0.6"/>
<rect x="106.18" y="233.99" width="7.81" height="7.80" fill="#00e5f7" stroke="#00e5f7" stroke-width="0.6"/>
<rect x="113.99" y="233.99" width="7.81" height="7.80" fill="#00e5f7" stroke="#00e5f7" stroke-width="0.6"/>
<rect x="121.79" y="233.99" width="7.81" height="7.80" fill="#06edf0" stroke="#06edf0" stroke-width="0.6"/>
<rect x="129.60" y="233.99" width="7.81" height="7.80" fill="#c0ff36" stroke="#c0ff36" stroke-width="0.6"/>
<rect x="137.41" y="233.99" width="7.81" height="7.80" fill="#48ffae" stroke="#48ffae" stroke-width="0.6"/>
<rect x="145.22" y="233.99" width="7.81" height="7.80" fill="#39ffbe" stroke="#39ffbe" stroke-width="0.6"/>
<rect x="153.02" y="233.99" width="7.81" height="7.80" fill="#48ffae" stroke="#48ffae" stroke-width="0.6"/>
<rect x="160.83" y="233.99" width="7.81" height="7.80" fill="#48ffae" stroke="#48ffae" stroke-width="0.6"/>
<rect x="168.64" y="233.99" width="7.81" height="7.80" fill="#25ffd2" stroke="#25ffd2" stroke-width="0.6"/>
<rect x="176.44" y="233.99" width="7.81" height="7.80" fill="#25ffd2" stroke="#25ffd2" stroke-width="0.6"/>
<rect x="184.25" y="233.99" width="7.81" height="7.80" fill="#15ffe1" stroke="#15ffe1" stroke-width="0.6"/>
<rect x="192.06" y="233.99" width="7.81" height="7.80" fill="#06edf0" stroke="#06edf0" stroke-width="0.6"/>
<rect x="199.87" y="233.99" width="7.81" height="7.80" fill="#15ffe1" stroke="#15ffe1" stroke-width="0.6"/>
<rect x="207.67" y="233.99" width="7.81" height="7.80" fill="#15ffe1" stroke="#15ffe1" stroke-width="0.6"/>
<rect x="215.48" y="233.99" width="7.81" height="7.80" fill="#25ffd2" stroke="#25ffd2" stroke-width="0.6"/>
<rect x="223.29" y="233.99" width="7.81" height="7.80" fill="#58ff9f" stroke="#58ff9f" stroke-width="0.6"/>
<rect x="231.09" y="233.99" width="7.81" height="7.80" fill="#ff2600" stroke="#ff2600" stroke-width="0.6"/>
<rect x="98.37" y="241.79" width="7.81" height="7.80" fill="#e50000" stroke="#e50000" stroke-width="0.6"/>
<rect x="106.18" y="241.79" width="7.81" height="7.80" fill="#15ffe1" stroke="#15ffe1" stroke-width="0.6"/>
<rect x="113.99" y="241.79" width="7.81" height="7.80" fill="#15ffe1" stroke="#15ffe1" stroke-width="0.6"/>
<rect x="121.79" y="241.79" width="7.81" height="7.80" fill="#25ffd2" stroke="#25ffd2" stroke-width="0.6"/>
<rect x="137.41" y="241.79" width="7.81" height="7.80" fill="#48ffae" stroke="#48ffae" stroke-width="0.6"/>
<rect x="145.22" y="241.79" width="7.81" height="7.80" fill="#25ffd2" stroke="#25ffd2" stroke-width="0.6"/>
<rect x="153.02" y="241.79" width="7.81" height="7.80" fill="#6cff8b" stroke="#6cff8b" stroke-width="0.6"/>
<rect x="160.83" y="241.79" width="7.81" height="7.80" fill="#6cff8b" stroke="#6cff8b" stroke-width="0.6"/>
<rect x="168.64" y="241.79" width="7.81" height="7.80" fill="#48ffae" stroke="#48ffae" stroke-width="0.6"/>
<rect x="176.44" y="241.79" width="7.81" height="7.80" fill="#15ffe1" stroke="#15ffe1" stroke-width="0.6"/>
<rect x="184.25" y="241.79" width="7.81" height="7.80" fill="#15ffe1" stroke="#15ffe1" stroke-width="0.6"/>
<rect x="192.06" y="241.79" width="7.81" height="7.80" fill="#15ffe1" stroke="#15ffe1" stroke-width="0.6"/>
<rect x="199.87" y="241.79" width="7.81" height="7.80" fill="#25ffd2" stroke="#25ffd2" stroke-width="0.6"/>
<rect x="207.67" y="241.79" width="7.81" height="7.80" fill="#25ffd2" stroke="#25ffd2" stroke-width="0.6"/>
<rect x="215.48" y="241.79" width="7.81" height="7.80" fill="#7bff7b" stroke="#7bff7b" stroke-width="0.6"/>
<rect x="223.29" y="241.79" width="7.81" height="7.80" fill="#eaff0c" stroke="#eaff0c" stroke-width="0.6"/>
<rect x="231.09" y="241.79" width="7.81" height="7.80" fill="#ff3100" stroke="#ff3100" stroke-width="0.6"/>
<rect x="98.37" y="249.59" width="7.81" height="7.80" fill="#e50000" stroke="#e50000" stroke-width="0.6"/>
<rect x="106.18" y="249.59" width="7.81" height="7.80" fill="#15ffe1" stroke="#15ffe1" stroke-width="0.6"/>
<rect x="113.99" y="249.59" width="7.81" height="7.80" fill="#15ffe1" stroke="#15ffe1" stroke-width="0.6"/>
<rect x="121.79" y="249.59" width="7.81" height="7.80" fill="#25ffd2" stroke="#25ffd2" stroke-width="0.6"/>
<rect x="145.22" y="249.59" width="7.81" height="7.80" fill="#25ffd2" stroke="#25ffd2" stroke-width="0.6"/>
<rect x="153.02" y="249.59" width="7.81" height="7.80" fill="#6cff8b" stroke="#6cff8b" stroke-width="0.6"/>
<rect x="160.83" y="249.59" width="7.81" height="7.80" fill="#7bff7b" stroke="#7bff7b" stroke-width="0.6"/>
<rect x="168.64" y="249.59" width="7.81" height="7.80" fill="#8bff6c" stroke="#8bff6c" stroke-width="0.6"/>
<rect x="176.44" y="249.59" width="7.81" height="7.80" fill="#48ffae" stroke="#48ffae" stroke-width="0.6"/>
<rect x="184.25" y="249.59" width="7.81" height="7.80" fill="#15ffe1" stroke="#15ffe1" stroke-width="0.6"/>
<rect x="192.06" y="249.59" width="7.81" height="7.80" fill="#15ffe1" stroke="#15ffe1" stroke-width="0.6"/>
<rect x="199.87" y="249.59" width="7.81" height="7.80" fill="#48ffae" stroke="#48ffae" stroke-width="0.6"/>
<rect x="207.67" y="249.59" width="7.81" height="7.80" fill="#25ffd2" stroke="#25ffd2" stroke-width="0.6"/>
<rect x="215.48" y="249.59" width="7.81" height="7.80" fill="#6cff8b" stroke="#6cff8b" stroke-width="0.6"/>
<rect x="223.29" y="249.59" width="7.81" height="7.80" fill="#ffe100" stroke="#ffe100" stroke-width="0.6"/>
<rect x="231.09" y="249.59" width="7.81" height="7.80" fill="#ff8000" stroke="#ff8000" stroke-width="0.6"/>
<rect x="106.18" y="257.38" width="7.81" height="7.80" fill="#aeff48" stroke="#aeff48" stroke-width="0.6"/>
<rect x="113.99" y="257.38" width="7.81" height="7.80" fill="#aeff48" stroke="#aeff48" stroke-width="0.6"/>
<rect x="121.79" y="257.38" width="7.81" height="7.80" fill="#8bff6c" stroke="#8bff6c" stroke-width="0.6"/>
<rect x="145.22" y="257.38" width="7.81" height="7.80" fill="#00c2ff" stroke="#00c2ff" stroke-width="0.6"/>
<rect x="153.02" y="257.38" width="7.81" height="7.80" fill="#48ffae" stroke="#48ffae" stroke-width="0.6"/>
<rect x="160.83" y="257.38" width="7.81" height="7.80" fill="#7bff7b" stroke="#7bff7b" stroke-width="0.6"/>
<rect x="168.64" y="257.38" width="7.81" height="7.80" fill="#7bff7b" stroke="#7bff7b" stroke-width="0.6"/>
<rect x="176.44" y="257.38" width="7.81" height="7.80" fill="#58ff9f" stroke="#58ff9f" stroke-width="0.6"/>
<rect x="184.25" y="257.38" width="7.81" height="7.80" fill="#48ffae" stroke="#48ffae" stroke-width="0.6"/>
<rect x="192.06" y="257.38" width="7.81" height="7.80" fill="#d8ff1e" stroke="#d8ff1e" stroke-width="0.6"/>
<rect x="199.87" y="257.38" width="7.81" height="7.80" fill="#7bff7b" stroke="#7bff7b" stroke-width="0.6"/>
<rect x="207.67" y="257.38" width="7.81" height="7.80" fill="#15ffe1" stroke="#15ffe1" stroke-width="0.6"/>
<rect x="215.48" y="257.38" width="7.81" height="7.80" fill="#15ffe1" stroke="#15ffe1" stroke-width="0.6"/>
<rect x="223.29" y="257.38" width="7.81" height="7.80" fill="#25ffd2" stroke="#25ffd2" stroke-width="0.6"/>
<rect x="231.09" y="257.38" width="7.81" height="7.80" fill="#58ff9f" stroke="#58ff9f" stroke-width="0.6"/>
<rect x="145.22" y="265.18" width="7.81" height="7.80" fill="#00e5f7" stroke="#00e5f7" stroke-width="0.6"/>
<rect x="153.02" y="265.18" width="7.81" height="7.80" fill="#39ffbe" stroke="#39ffbe" stroke-width="0.6"/>
<rect x="160.83" y="265.18" width="7.81" height="7.80" fill="#48ffae" stroke="#48ffae" stroke-width="0.6"/>
<rect x="168.64" y="265.18" width="7.81" height="7.80" fill="#6cff8b" stroke="#6cff8b" stroke-width="0.6"/>
<rect x="176.44" y="265.18" width="7.81" height="7.80" fill="#48ffae" stroke="#48ffae" stroke-width="0.6"/>
<rect x="184.25" y="265.18" width="7.81" height="7.80" fill="#48ffae" stroke="#48ffae" stroke-width="0.6"/>
<rect x="192.06" y="265.18" width="7.81" height="7.80" fill="#7bff7b" stroke="#7bff7b" stroke-width="0.6"/>
<rect x="199.87" y="265.18" width="7.81" height="7.80" fill="#7bff7b" stroke="#7bff7b" stroke-width="0.6"/>
<rect x="207.67" y="265.18" width="7.81" height="7.80" fill="#06edf0" stroke="#06edf0" stroke-width="0.6"/>
<rect x="215.48" y="265.18" width="7.81" height="7.80" fill="#06edf0" stroke="#06edf0" stroke-width="0.6"/>
<rect x="223.29" y="265.18" width="7.81" height="7.80" fill="#06edf0" stroke="#06edf0" stroke-width="0.6"/>
<rect x="145.22" y="272.98" width="7.81" height="7.80" fill="#25ffd2" stroke="#25ffd2" stroke-width="0.6"/>
<rect x="153.02" y="272.98" width="7.81" height="7.80" fill="#aeff48" stroke="#aeff48" stroke-width="0.6"/>
<rect x="160.83" y="272.98" width="7.81" height="7.80" fill="#48ffae" stroke="#48ffae" stroke-width="0.6"/>
<rect x="168.64" y="272.98" width="7.81" height="7.80" fill="#25ffd2" stroke="#25ffd2" stroke-width="0.6"/>
<rect x="176.44" y="272.98" width="7.81" height="7.80" fill="#15ffe1" stroke="#15ffe1" stroke-width="0.6"/>
<rect x="184.25" y="272.98" width="7.81" height="7.80" fill="#15ffe1" stroke="#15ffe1" stroke-width="0.6"/>
<rect x="192.06" y="272.98" width="7.81" height="7.80" fill="#15ffe1" stroke="#15ffe1" stroke-width="0.6"/>
<rect x="199.87" y="272.98" width="7.81" height="7.80" fill="#15ffe1" stroke="#15ffe1" stroke-width="0.6"/>
<rect x="207.67" y="272.98" width="7.81" height="7.80" fill="#00b2ff" stroke="#00b2ff" stroke-width="0.6"/>
<rect x="215.48" y="272.98" width="7.81" height="7.80" fill="#00b2ff" stroke="#00b2ff" stroke-width="0.6"/>
<rect x="145.22" y="280.78" width="7.81" height="7.80" fill="#eaff0c" stroke="#eaff0c" stroke-width="0.6"/>
<rect x="153.02" y="280.78" width="7.81" height="7.80" fill="#eaff0c" stroke="#eaff0c" stroke-width="0.6"/>
<rect x="160.83" y="280.78" width="7.81" height="7.80" fill="#48ffae" stroke="#48ffae" stroke-width="0.6"/>
<rect x="168.64" y="280.78" width="7.81" height="7.80" fill="#39ffbe" stroke="#39ffbe" stroke-width="0.6"/>
<rect x="176.44" y="280.78" width="7.81" height="7.80" fill="#25ffd2" stroke="#25ffd2" stroke-width="0.6"/>
<rect x="184.25" y="280.78" width="7.81" height="7.80" fill="#39ffbe" stroke="#39ffbe" stroke-width="0.6"/>
<rect x="192.06" y="280.78" width="7.81" height="7.80" fill="#15ffe1" stroke="#15ffe1" stroke-width="0.6"/>
<rect x="145.22" y="288.58" width="7.81" height="7.80" fill="#aeff48" stroke="#aeff48" stroke-width="0.6"/>
<rect x="153.02" y="288.58" width="7.81" height="7.80" fill="#aeff48" stroke="#aeff48" stroke-width="0.6"/>
<rect x="160.83" y="288.58" width="7.81" height="7.80" fill="#58ff9f" stroke="#58ff9f" stroke-width="0.6"/>
<rect x="168.64" y="288.58" width="7.81" height="7.80" fill="#48ffae" stroke="#48ffae" stroke-width="0.6"/>
<rect x="176.44" y="288.58" width="7.81" height="7.80" fill="#6cff8b" stroke="#6cff8b" stroke-width="0.6"/>
<rect x="184.25" y="288.58" width="7.81" height="7.80" fill="#8bff6c" stroke="#8bff6c" stroke-width="0.6"/>
<rect x="192.06" y="288.58" width="7.81" height="7.80" fill="#8bff6c" stroke="#8bff6c" stroke-width="0.6"/>
<rect x="168.64" y="296.38" width="7.81" height="7.80" fill="#ffb300" stroke="#ffb300" stroke-width="0.6"/>
<rect x="176.44" y="296.38" width="7.81" height="7.80" fill="#6cff8b" stroke="#6cff8b" stroke-width="0.6"/>
<rect x="184.25" y="296.38" width="7.81" height="7.80" fill="#48ffae" stroke="#48ffae" stroke-width="0.6"/>
<rect x="192.06" y="296.38" width="7.81" height="7.80" fill="#39ffbe" stroke="#39ffbe" stroke-width="0.6"/>
<rect x="207.67" y="296.38" width="7.81" height="7.80" fill="#7bff7b" stroke="#7bff7b" stroke-width="0.6"/>
<rect x="215.48" y="296.38" width="7.81" height="7.80" fill="#7bff7b" stroke="#7bff7b" stroke-width="0.6"/>
<rect x="223.29" y="296.38" width="7.81" height="7.80" fill="#9fff58" stroke="#9fff58" stroke-width="0.6"/>
<rect x="168.64" y="304.17" width="7.81" height="7.80" fill="#ffb300" stroke="#ffb300" stroke-width="0.6"/>
<rect x="176.44" y="304.17" width="7.81" height="7.80" fill="#eaff0c" stroke="#eaff0c" stroke-width="0.6"/>
<rect x="184.25" y="304.17" width="7.81" height="7.80" fill="#25ffd2" stroke="#25ffd2" stroke-width="0.6"/>
<rect x="207.67" y="304.17" width="7.81" height="7.80" fill="#eaff0c" stroke="#eaff0c" stroke-width="0.6"/>
<rect x="215.48" y="304.17" width="7.81" height="7.80" fill="#7bff7b" stroke="#7bff7b" stroke-width="0.6"/>
<rect x="223.29" y="304.17" width="7.81" height="7.80" fill="#6cff8b" stroke="#6cff8b" stroke-width="0.6"/>
<rect x="231.09" y="304.17" width="7.81" height="7.80" fill="#48ffae" stroke="#48ffae" stroke-width="0.6"/>
<rect x="238.90" y="304.17" width="7.81" height="7.80" fill="#7bff7b" stroke="#7bff7b" stroke-width="0.6"/>
<rect x="184.25" y="311.97" width="7.81" height="7.80" fill="#25ffd2" stroke="#25ffd2" stroke-width="0.6"/>
<rect x="215.48" y="311.97" width="7.81" height="7.80" fill="#6cff8b" stroke="#6cff8b" stroke-width="0.6"/>
<rect x="223.29" y="311.97" width="7.81" height="7.80" fill="#58ff9f" stroke="#58ff9f" stroke-width="0.6"/>
<rect x="231.09" y="311.97" width="7.81" height="7.80" fill="#48ffae" stroke="#48ffae" stroke-width="0.6"/>
<rect x="238.90" y="311.97" width="7.81" height="7.80" fill="#7bff7b" stroke="#7bff7b" stroke-width="0.6"/>
<rect x="223.29" y="319.77" width="7.81" height="7.80" fill="#48ffae" stroke="#48ffae" stroke-width="0.6"/>
<rect x="231.09" y="319.77" width="7.81" height="7.80" fill="#58ff9f" stroke="#58ff9f" stroke-width="0.6"/>
<g transform="translate(0.0,0)">
<path d="M228.8 58.4 L226.6 59.2 L224.5 60.1 L222.7 61.9 L221.0 63.7 L219.5 66.2 L218.3 68.9 L215.8 70.4 L213.1 71.5 L210.8 71.8 L208.5 72.3 L206.1 72.4 L203.8 73.3 L201.4 73.8 L199.1 74.7 L196.7 75.7 L194.3 76.7 L192.0 77.7 L190.4 79.3 L188.9 81.0 L187.7 82.9 L186.6 84.7 L185.4 86.4 L184.4 88.1 L183.3 89.9 L182.4 92.0 L181.4 94.0 L180.7 96.1 L179.6 98.1 L178.5 100.0 L177.4 102.0 L176.3 103.9 L174.3 105.4 L172.8 107.4 L171.2 108.9 L169.5 110.3 L167.9 111.8 L166.6 113.6 L165.6 115.8 L164.2 117.9 L163.1 120.1 L161.6 121.6 L160.4 123.4 L159.5 125.4 L158.0 127.0 L156.9 128.8 L155.4 130.4 L154.0 132.0 L153.1 134.2 L151.8 136.2 L150.7 138.3 L149.2 140.1 L148.1 142.2 L146.7 143.9 L145.4 145.7 L144.5 147.8 L142.9 149.4 L141.8 151.3 L140.6 153.0 L139.8 154.9 L138.5 156.5 L137.2 158.1 L136.0 159.8 L135.2 161.7 L134.0 163.4 L132.4 164.6 L131.3 166.3 L129.6 167.2 L131.6 168.9 L128.1 169.6 L126.5 171.3 L124.8 172.8 L123.5 174.8 L122.2 176.8 L122.5 178.9 L123.5 180.7 L122.2 183.9 L121.0 186.5 L120.2 189.2 L120.1 191.8 L119.6 194.4 L119.0 196.4 L118.3 198.3 L116.3 199.8 L114.4 201.5 L112.4 202.9 L114.3 200.8 L116.5 199.0 L118.1 200.9 L119.3 203.0 L120.9 204.8 L120.8 207.1 L120.0 209.2 L119.6 211.4 L119.0 213.6 L118.6 215.8 L117.6 217.9 L116.8 220.5 L115.7 223.1 L114.3 225.7 L113.1 228.3 L112.4 232.2 L114.0 233.6 L115.7 234.9 L117.8 235.9 L119.6 237.5 L120.6 239.6 L122.2 241.4 L123.2 245.0 L124.1 247.1 L125.0 249.1 L126.6 250.8 L127.5 252.8 L128.4 254.9 L129.6 256.8 L130.0 259.0 L131.0 260.9 L130.7 263.5 L130.1 266.0 L131.5 267.9 L132.5 270.0 L133.6 272.0 L135.3 273.7 L137.2 275.6 L139.5 277.1 L141.9 278.6 L144.6 279.7 L147.3 280.8 L149.8 282.2 L151.9 283.2 L153.7 284.8 L155.8 285.7 L157.5 287.8 L159.2 289.9 L159.9 292.2 L161.1 294.4 L161.7 296.8 L162.7 298.7 L163.0 300.8 L163.8 302.7 L164.3 304.7 L165.0 306.6 L165.1 308.7 L164.4 310.6 L164.1 312.7 L163.8 314.7 L164.2 316.9 L165.1 319.0 L166.9 322.4 L168.4 320.9 L170.3 319.8 L173.7 320.7 L176.2 322.4 L178.0 323.2 L178.6 320.7 L178.8 318.1 L178.8 316.1 L179.7 314.1 L179.7 312.1 L179.6 310.0 L179.4 308.0 L179.5 305.9 L179.7 303.8 L179.2 301.7 L179.0 299.7 L179.2 297.6 L179.5 295.6 L179.5 293.5 L179.7 291.4 L180.0 289.4 L180.5 287.4 L181.1 285.0 L182.0 282.7 L183.1 280.5 L183.8 278.3 L184.7 276.2 L185.8 274.2 L186.5 272.0 L187.3 270.0 L188.4 268.2 L189.3 266.3 L190.7 264.6 L192.4 263.1 L193.8 261.4 L195.4 259.9 L196.9 258.2 L198.7 256.9 L200.2 255.4 L201.4 253.7 L202.6 252.0 L204.1 250.5 L205.6 249.1 L206.5 247.1 L208.1 245.7 L209.4 243.8 L210.3 241.7 L211.4 239.8 L212.8 237.9 L213.6 235.8 L214.8 233.9 L216.2 232.4 L217.7 230.9 L219.2 229.6 L220.4 227.8 L220.1 225.5 L220.3 223.2 L219.9 220.9 L221.0 219.2 L222.0 217.3 L222.8 215.5 L223.8 213.6 L224.9 211.9 L225.1 209.7 L225.7 207.6 L226.2 205.4 L227.2 203.4 L227.4 201.1 L227.9 199.0 L228.7 196.9 L228.8 194.7 L229.8 192.7 L230.2 190.5 L230.5 188.4 L230.7 186.2 L231.1 184.0 L231.7 181.9 L232.0 179.9 L232.5 177.9 L232.8 175.9 L233.4 174.0 L233.7 171.9 L234.3 170.0 L235.0 167.5 L235.4 165.0 L235.5 162.4 L237.1 160.5 L238.7 158.6 L237.1 156.9 L235.8 154.9 L236.1 152.5 L238.1 151.3 L239.6 149.6 L239.3 146.7 L240.5 143.8 L242.5 142.1 L244.5 140.6 L246.6 139.1 L247.3 136.9 L248.7 135.0 L248.9 132.2 L249.3 129.5 L250.5 127.6 L251.8 125.7 L253.0 123.8 L253.9 121.8 L255.1 120.1 L255.4 117.9 L255.4 115.7 L256.0 113.6 L254.9 111.0 L254.2 108.3 L253.1 105.8 L252.5 103.1 L252.2 100.5 L252.0 97.8 L252.4 95.1 L253.4 92.6 L254.4 90.2 L256.0 88.2 L258.1 86.3 L260.4 84.7 L263.0 83.4 L266.0 82.0 L265.6 80.6 L262.1 79.4 L260.7 76.8 L260.2 74.4 L260.0 71.9 L256.9 72.4 L254.3 71.7 L251.6 71.2 L249.0 70.0 L246.4 68.9 L244.3 67.4 L242.0 66.3 L238.5 64.5 L237.7 62.6 L236.7 60.7 L235.0 59.4 L233.2 58.4 L231.0 58.1Z M88.1 3.7 L88.2 5.1 L87.2 6.2 L87.1 7.6 L86.3 8.7 L85.7 10.2 L84.4 11.1 L83.3 11.9 L81.9 11.2 L80.7 11.7 L80.5 13.5 L79.5 14.8 L77.6 14.2 L78.2 15.7 L78.2 17.3 L80.1 18.5 L80.2 19.8 L79.6 21.0 L80.6 22.3 L80.1 23.5 L79.7 24.7 L79.2 25.9 L78.8 27.2 L77.6 27.8 L77.0 29.1 L76.0 27.8 L74.5 27.2 L73.2 27.0 L72.1 27.9 L70.8 27.8 L69.8 28.7 L68.8 29.6 L67.7 30.3 L67.9 31.7 L68.5 33.0 L69.6 34.0 L70.6 35.1 L70.8 36.5 L71.9 35.5 L73.3 35.2 L74.3 34.1 L75.7 33.4 L77.2 34.4 L78.2 35.9 L78.4 37.1 L78.5 38.3 L78.8 39.6 L79.7 40.5 L80.6 41.3 L80.7 42.7 L81.9 41.7 L83.2 40.8 L83.6 39.5 L84.5 38.4 L85.0 37.1 L85.4 35.8 L84.8 34.6 L84.4 33.4 L83.2 32.1 L81.9 30.9 L80.8 29.6 L79.5 28.4 L78.8 27.2 M79.5 28.4 L80.7 28.8 L82.0 28.2 L83.1 29.4 L84.4 29.1 L85.5 29.8 L86.7 30.3 L88.1 30.3 L89.4 30.4 L90.6 29.8 L91.8 29.7 L92.7 30.6 L93.8 31.4 L94.3 32.8 L95.2 33.5 L96.6 33.6 L97.4 34.6 L98.7 34.3 L99.9 34.7 L101.1 35.2 L101.7 37.1 L100.8 38.6 L99.2 39.6 L99.0 40.9 L98.9 42.2 L98.0 43.3 L97.2 44.9 L95.5 45.7 L94.5 46.7 L93.1 47.0 L92.6 48.3 L91.5 49.1 L90.6 50.1 L89.0 49.6 L88.1 48.2 L87.1 47.2 L85.6 47.0 L85.1 45.7 L84.4 44.5 L83.6 43.4 L83.3 42.1 L83.2 40.8 M54.7 39.6 L54.3 40.9 L53.6 42.1 L52.9 43.3 L51.7 44.0 L50.3 43.5 L49.0 43.6 L47.9 44.5 L46.7 45.3 L45.5 46.1 L44.5 47.3 L43.0 47.6 L42.8 49.3 L41.7 50.7 L42.9 51.4 L44.0 52.1 L44.8 53.2 L45.8 54.4 L47.3 55.0 L48.1 56.4 L48.7 57.8 L48.5 59.4 L49.9 59.2 L50.6 58.1 L51.6 57.5 L52.5 56.5 L53.7 56.3 L54.7 55.6 L56.1 56.0 L56.8 57.3 L57.8 58.1 L58.7 59.8 L60.3 60.6 L59.3 61.6 L59.1 63.1 L57.5 63.2 L56.3 64.2 L54.7 64.3 L54.3 65.9 L53.5 67.4 L52.3 67.9 L51.0 67.4 L49.8 67.8 L48.5 68.0 L47.4 67.5 L46.0 67.8 L44.8 67.4 L43.8 66.6 L43.5 65.1 L42.4 64.3 L40.9 64.4 L39.9 65.5 L38.8 64.5 L37.4 64.3 L36.5 65.1 L35.9 66.2 L35.6 67.4 L34.4 68.1 L33.7 69.2 L35.2 70.2 L36.2 71.7 L37.4 71.1 L38.7 70.5 L39.9 70.1 L41.0 69.5 L42.4 69.9 L43.9 70.3 L44.8 71.7 L43.8 73.1 L42.4 74.2 L40.9 75.1 L39.3 75.4 L38.5 74.0 L37.4 73.0 L35.9 73.1 L34.9 74.2 L34.4 75.5 L33.2 76.4 L33.1 77.9 L31.9 78.9 L31.7 80.4 M54.7 39.6 L54.0 40.7 L54.5 42.1 L54.4 43.3 L54.2 44.6 L54.1 45.8 L53.5 47.0 L54.7 47.3 L55.5 48.4 L56.6 48.8 L57.4 47.6 L57.6 46.1 L57.5 44.7 L57.8 43.3 L58.6 42.3 L59.4 41.4 L59.7 40.2 L61.1 40.4 L62.1 41.6 L63.4 42.0 L64.7 43.1 L66.5 43.3 L65.8 44.8 L65.9 46.4 L67.0 47.1 L68.3 47.2 L69.6 47.6 L70.5 48.4 L70.5 49.8 L71.4 50.7 L71.9 49.6 L73.0 48.8 L73.3 47.6 L75.0 47.5 L76.4 46.4 L77.1 47.9 L77.6 49.5 L77.5 50.7 L76.7 51.8 L77.0 53.2 L78.1 54.3 L79.5 55.0 L80.3 54.1 L81.3 53.4 L82.6 53.2 L82.6 51.8 L83.8 50.8 L83.8 49.5 L83.5 47.8 L82.6 46.4 M67.1 61.8 L68.1 60.8 L69.6 60.6 L70.5 62.1 L72.0 63.1 L73.4 64.2 L75.1 64.3 L76.2 65.7 L77.6 66.8 L76.1 67.3 L74.5 67.4 L73.5 68.3 L72.7 69.2 L71.4 68.8 L70.2 68.0 L69.6 66.8 L68.7 65.4 L67.1 64.9 L67.3 63.4 L67.1 61.8 M86.9 53.2 L88.1 55.0 L87.2 56.2 L86.3 57.5 L86.1 56.0 L85.0 55.0 L85.9 54.0 L86.9 53.2 M57.2 4.9 L58.2 6.0 L59.7 6.2 L61.5 5.9 M65.2 4.9 L67.1 5.6 L68.6 4.5 M104.2 5.6 L105.1 6.5 L106.4 6.8 L108.1 6.4 L106.9 7.7 M66.5 82.2 L67.9 82.5 L68.9 83.3 M40.5 74.8 L42.4 76.0 L42.3 77.6 L41.7 79.1 L39.6 78.5 L39.7 77.2 L39.9 76.0 L40.5 74.8 M31.7 59.4 L33.0 60.1 L34.3 60.6 L34.0 62.2 L33.1 63.7 L31.7 64.3 M31.7 74.2 L33.7 75.4 L33.4 76.7 L33.3 78.0 L32.5 79.1 M31.7 84.1 L33.7 85.3 L32.2 87.2 M96.8 35.9 L98.2 36.6 L99.9 36.5 L99.2 38.3 L97.4 37.7 L96.8 35.9 M92.4 43.3 L94.3 44.5 M89.4 58.1 L91.2 59.1 M70.8 58.1 L71.9 58.9 L72.7 60.0 M75.7 61.2 L77.6 62.4 M80.7 61.8 L82.6 63.3 M84.4 29.1 L84.9 30.1 L85.3 31.3 L85.9 32.4 L85.0 34.0 L85.1 35.9 L85.9 37.0 L86.0 38.4 L87.1 39.3 L86.5 40.7 L85.9 42.0 L85.1 43.3 L84.4 44.5 M88.1 30.3 L88.8 31.4 L89.6 32.4 L89.3 33.8 L88.1 34.6 L89.2 35.6 L90.1 36.6 L89.1 38.6 M91.8 29.7 L93.3 28.2 L95.3 29.2 L96.8 29.7 M97.4 34.6 L99.2 33.1 L100.5 33.9 L101.1 35.2 M99.2 39.6 L101.0 40.8 L100.0 42.5 L98.0 43.3 M95.5 45.7 L97.0 47.5 L95.3 48.5 L93.3 47.7 M78.8 39.6 L77.0 41.1 L78.2 42.0 L78.5 43.5 L80.7 42.7 M70.8 36.5 L69.3 37.1 L70.2 35.2 M74.5 27.2 L73.7 28.2 L73.5 29.4 L75.3 30.9 L75.8 29.7 L77.0 29.1 M47.3 55.0 L45.8 55.9 L47.3 57.5 L48.5 59.4 M44.8 53.2 L45.9 52.6 L47.1 52.2 L48.8 53.7 M57.8 58.1 L59.4 57.1 L59.6 58.9 L60.3 60.6 M65.9 46.4 L66.4 47.6 L67.1 48.8 L69.3 49.5 L69.6 47.6 M73.3 47.6 L74.3 49.7 L73.0 51.7 L71.4 50.7 M82.6 46.4 L84.4 47.0 L85.4 45.5 M86.3 57.5 L88.1 58.1 L88.9 56.3 M59.2 47.7 L60.9 48.5 L62.4 47.0 L60.9 46.0 L60.2 47.0 L59.2 47.7 M68.3 53.2 L69.8 54.4 L69.1 56.3 L67.7 55.0 L68.3 53.2 M47.3 59.4 L48.8 60.8 L50.4 60.1 M74.9 185.2 L77.9 185.6 L79.1 187.8 L78.7 190.5 L81.7 190.1 L84.4 190.9 L85.9 193.5 L84.0 194.6 L81.7 195.0 L80.2 196.9 L77.9 198.0 L75.7 197.3 L74.2 195.4 L76.1 193.9 L75.3 192.0 L76.8 190.5 L76.4 187.8 L74.9 187.1 L74.2 185.6Z M73.8 187.1 L71.9 186.3 L70.8 189.0 L70.0 192.4 L70.8 193.9 L72.3 192.0 L72.7 189.0 L73.8 187.1 M78.3 179.2 L80.2 178.8 L80.6 180.1 L78.7 180.7Z M82.1 186.2 L83.2 186.0 L83.1 186.9Z M68.1 193.5 L69.0 193.4 L68.9 194.3Z M71.5 198.0 L73.8 199.3 L71.5 200.3Z M75.3 195.2 L77.6 194.8 L77.9 196.3 L76.1 196.5Z M69.5 207.5 L71.5 207.5 L71.9 209.0 L73.8 209.0 L71.9 210.1 L69.6 210.3Z M56.2 206.0 L57.4 206.1 L56.8 206.9Z M70.8 216.4 L72.3 217.3 L71.9 218.1Z M78.9 218.1 L80.2 218.2 L79.6 218.8Z M83.2 217.3 L84.7 217.4 L84.4 218.7 L83.4 218.4Z M63.6 220.7 L66.2 220.3 L66.6 221.8 L65.1 223.3 L64.0 222.2Z M140.1 289.0 L139.2 290.1 L137.7 290.2 L137.1 289.0 L137.7 287.8 L139.2 287.9Z M226.5 264.5 L226.2 266.8 L224.5 266.0 L223.1 264.5 L224.5 263.0 L226.2 262.2Z M226.1 309.5 L231.7 309.5 L232.6 312.3 L234.8 314.2 L234.5 315.7 L233.2 316.3 L231.1 314.8 L228.9 314.2 L227.4 312.3Z M233.2 333.5 L232.7 333.9 L232.2 333.5 L232.7 332.9Z M262.4 387.0 L262.0 387.5 L261.4 387.0 L262.0 386.5Z M262.2 93.2 L261.8 94.0 L260.9 93.5 L260.7 92.7 L261.8 92.5Z M272.7 32.7 L272.0 33.3 L271.5 32.7 L272.0 32.1Z M235.9 319.7 L235.1 320.4 L234.5 319.7 L235.1 319.2Z M344.4 122.3 L342.3 123.2 L343.0 124.6 L344.4 124.6 M218.3 68.9 L221.8 68.2 L223.5 70.8 M225.0 73.8 L224.5 74.3 L223.6 73.8 L224.5 73.3Z M124.2 186.0 L121.6 187.0 L124.1 188.0 L120.0 189.1 L122.2 190.4 L119.7 191.6 L122.9 192.5 L119.5 194.0 L123.0 195.1 L119.3 196.6 L123.0 197.8 L119.3 198.7 L121.3 199.8 L119.4 200.8 L122.4 202.3 L121.0 203.6 L124.3 204.8 L120.5 205.7 L124.3 206.8 L120.4 208.0 L123.2 209.3 L120.5 210.4 L122.1 211.8 L119.5 213.1 L122.5 214.6 L119.3 215.7 L121.1 216.7 L117.4 218.1 L119.2 219.3 L117.3 220.7 M118.5 222.0 L115.9 223.5 L116.6 225.1 L114.4 226.7 L114.8 228.6 L112.6 230.4 L114.4 232.1 L115.2 234.1 L118.3 235.6 M129.1 172.2 L128.1 172.9 L126.9 173.3 L126.7 172.2 L126.9 171.1 L128.1 171.5Z M125.0 178.6 L124.8 180.3 L123.5 179.6 L122.4 178.6 L123.5 177.6 L124.8 176.9Z M123.7 187.0 L123.3 188.5 L122.3 188.3 L121.7 187.0 L122.3 185.7 L123.3 185.5Z M118.3 198.3 L115.0 200.5 L112.4 202.9 L113.5 204.3 L116.3 202.0 L118.7 200.2" fill="none" stroke="#000" stroke-width="0.75" stroke-linejoin="round"/>
<circle cx="60.3" cy="71.7" r="0.6" fill="#000"/><circle cx="104.2" cy="47.6" r="0.6" fill="#000"/><circle cx="90.0" cy="42.0" r="0.6" fill="#000"/><circle cx="90.3" cy="42.5" r="0.6" fill="#000"/><circle cx="84.4" cy="22.3" r="0.6" fill="#000"/><circle cx="78.8" cy="43.3" r="0.6" fill="#000"/><circle cx="48.5" cy="58.1" r="0.6" fill="#000"/><circle cx="51.0" cy="54.4" r="0.6" fill="#000"/><circle cx="94.3" cy="41.4" r="0.6" fill="#000"/><circle cx="88.1" cy="26.0" r="0.6" fill="#000"/><circle cx="59.1" cy="36.5" r="0.6" fill="#000"/><circle cx="62.8" cy="61.2" r="0.6" fill="#000"/><circle cx="83.2" cy="61.2" r="0.6" fill="#000"/><circle cx="96.8" cy="43.9" r="0.6" fill="#000"/>
</g></g>
<path d="M244.9 147.5 L246.0 150.8 L249.5 150.8 L246.6 152.9 L247.7 156.2 L244.9 154.1 L242.1 156.2 L243.2 152.9 L240.3 150.8 L243.8 150.8Z" fill="none" stroke="#f00808" stroke-width="0.95"/>
<rect x="31.56" y="3.6" width="312.29" height="389.9" fill="none" stroke="#7a7a7a" stroke-width="1"/>
<line x1="31.6" y1="393.5" x2="31.6" y2="396.7" stroke="#333" stroke-width="0.8"/>
<text x="31.6" y="407.4" font-size="9.7" text-anchor="middle" font-weight="normal" >119</text>
<line x1="70.6" y1="393.5" x2="70.6" y2="396.7" stroke="#333" stroke-width="0.8"/>
<text x="70.6" y="407.4" font-size="9.7" text-anchor="middle" font-weight="normal" >119.5</text>
<line x1="109.6" y1="393.5" x2="109.6" y2="396.7" stroke="#333" stroke-width="0.8"/>
<text x="109.6" y="407.4" font-size="9.7" text-anchor="middle" font-weight="normal" >120</text>
<line x1="148.7" y1="393.5" x2="148.7" y2="396.7" stroke="#333" stroke-width="0.8"/>
<text x="148.7" y="407.4" font-size="9.7" text-anchor="middle" font-weight="normal" >120.5</text>
<line x1="187.7" y1="393.5" x2="187.7" y2="396.7" stroke="#333" stroke-width="0.8"/>
<text x="187.7" y="407.4" font-size="9.7" text-anchor="middle" font-weight="normal" >121</text>
<line x1="226.7" y1="393.5" x2="226.7" y2="396.7" stroke="#333" stroke-width="0.8"/>
<text x="226.7" y="407.4" font-size="9.7" text-anchor="middle" font-weight="normal" >121.5</text>
<line x1="265.8" y1="393.5" x2="265.8" y2="396.7" stroke="#333" stroke-width="0.8"/>
<text x="265.8" y="407.4" font-size="9.7" text-anchor="middle" font-weight="normal" >122</text>
<line x1="304.8" y1="393.5" x2="304.8" y2="396.7" stroke="#333" stroke-width="0.8"/>
<text x="304.8" y="407.4" font-size="9.7" text-anchor="middle" font-weight="normal" >122.5</text>
<line x1="343.9" y1="393.5" x2="343.9" y2="396.7" stroke="#333" stroke-width="0.8"/>
<text x="343.9" y="407.4" font-size="9.7" text-anchor="middle" font-weight="normal" >123</text>
<line x1="28.36" y1="3.6" x2="31.56" y2="3.6" stroke="#333" stroke-width="0.8"/>
<text x="26.4" y="7.8" font-size="9.7" text-anchor="end" font-weight="normal" >26</text>
<line x1="28.36" y1="81.6" x2="31.56" y2="81.6" stroke="#333" stroke-width="0.8"/>
<text x="26.4" y="85.8" font-size="9.7" text-anchor="end" font-weight="normal" >25</text>
<line x1="28.36" y1="159.6" x2="31.56" y2="159.6" stroke="#333" stroke-width="0.8"/>
<text x="26.4" y="163.8" font-size="9.7" text-anchor="end" font-weight="normal" >24</text>
<line x1="28.36" y1="237.5" x2="31.56" y2="237.5" stroke="#333" stroke-width="0.8"/>
<text x="26.4" y="241.7" font-size="9.7" text-anchor="end" font-weight="normal" >23</text>
<line x1="28.36" y1="315.5" x2="31.56" y2="315.5" stroke="#333" stroke-width="0.8"/>
<text x="26.4" y="319.7" font-size="9.7" text-anchor="end" font-weight="normal" >22</text>
<line x1="28.36" y1="393.5" x2="31.56" y2="393.5" stroke="#333" stroke-width="0.8"/>
<text x="26.4" y="397.7" font-size="9.7" text-anchor="end" font-weight="normal" >21</text>
<text x="187.7" y="421.6" font-size="12.3" text-anchor="middle" font-weight="normal" >Longitude(°E)</text>
<text transform="translate(8.7,198.6) rotate(-90)" font-size="12.3" text-anchor="middle">Latitude(°N)</text>
<text x="39.6" y="18.7" font-size="14" text-anchor="start" font-weight="bold" >(a)</text>
<text x="187.7" y="18.5" font-size="14" text-anchor="middle" font-weight="normal" ><tspan font-style="italic">b</tspan>-value</text>
<linearGradient id="jeta" x1="0" y1="0" x2="0" y2="1"><stop offset="0.000" stop-color="#800000"/><stop offset="0.025" stop-color="#9c0000"/><stop offset="0.050" stop-color="#b90000"/><stop offset="0.075" stop-color="#d60000"/><stop offset="0.100" stop-color="#f30900"/><stop offset="0.125" stop-color="#ff2100"/><stop offset="0.150" stop-color="#ff3900"/><stop offset="0.175" stop-color="#ff5000"/><stop offset="0.200" stop-color="#ff6800"/><stop offset="0.225" stop-color="#ff8000"/><stop offset="0.250" stop-color="#ff9700"/><stop offset="0.275" stop-color="#ffaf00"/><stop offset="0.300" stop-color="#ffc600"/><stop offset="0.325" stop-color="#ffde00"/><stop offset="0.350" stop-color="#f7f600"/><stop offset="0.375" stop-color="#e2ff15"/><stop offset="0.400" stop-color="#ceff29"/><stop offset="0.425" stop-color="#b9ff3e"/><stop offset="0.450" stop-color="#a5ff52"/><stop offset="0.475" stop-color="#90ff67"/><stop offset="0.500" stop-color="#7bff7b"/><stop offset="0.525" stop-color="#67ff90"/><stop offset="0.550" stop-color="#52ffa5"/><stop offset="0.575" stop-color="#3effb9"/><stop offset="0.600" stop-color="#29ffce"/><stop offset="0.625" stop-color="#15ffe2"/><stop offset="0.650" stop-color="#00e5f7"/><stop offset="0.675" stop-color="#00ccff"/><stop offset="0.700" stop-color="#00b3ff"/><stop offset="0.725" stop-color="#0099ff"/><stop offset="0.750" stop-color="#0080ff"/><stop offset="0.775" stop-color="#0066ff"/><stop offset="0.800" stop-color="#004cff"/><stop offset="0.825" stop-color="#0033ff"/><stop offset="0.850" stop-color="#001aff"/><stop offset="0.875" stop-color="#0000ff"/><stop offset="0.900" stop-color="#0000f3"/><stop offset="0.925" stop-color="#0000d6"/><stop offset="0.950" stop-color="#0000b9"/><stop offset="0.975" stop-color="#00009c"/><stop offset="1.000" stop-color="#000080"/></linearGradient>
<rect x="293.1" y="237.8" width="12.899999999999977" height="142.8" fill="url(#jeta)" stroke="#555" stroke-width="0.6"/>
<line x1="306.0" y1="380.6" x2="309.0" y2="380.6" stroke="#333" stroke-width="0.8"/>
<text x="311.7" y="384.5" font-size="10.4" text-anchor="start" font-weight="normal" >0.0</text>
<line x1="306.0" y1="344.9" x2="309.0" y2="344.9" stroke="#333" stroke-width="0.8"/>
<text x="311.7" y="348.8" font-size="10.4" text-anchor="start" font-weight="normal" >0.5</text>
<line x1="306.0" y1="309.2" x2="309.0" y2="309.2" stroke="#333" stroke-width="0.8"/>
<text x="311.7" y="313.1" font-size="10.4" text-anchor="start" font-weight="normal" >1.0</text>
<line x1="306.0" y1="273.5" x2="309.0" y2="273.5" stroke="#333" stroke-width="0.8"/>
<text x="311.7" y="277.4" font-size="10.4" text-anchor="start" font-weight="normal" >1.5</text>
<line x1="306.0" y1="237.8" x2="309.0" y2="237.8" stroke="#333" stroke-width="0.8"/>
<text x="311.7" y="241.7" font-size="10.4" text-anchor="start" font-weight="normal" >2.0</text>
<text x="299.6" y="228.9" font-size="12.35" text-anchor="middle" font-weight="normal" ><tspan font-style="italic">b</tspan>-value</text>
<rect x="37.3" y="369.3" width="246.9" height="18.9" rx="2" ry="2" fill="#fff" fill-opacity="0.8" stroke="#cfcfcf" stroke-width="1"/>
<path d="M52.7 373.9 L53.8 377.4 L57.5 377.4 L54.5 379.5 L55.6 382.9 L52.7 380.8 L49.8 382.9 L50.9 379.5 L47.9 377.4 L51.6 377.4Z" fill="none" stroke="#ff0000" stroke-width="1.0"/>
<text x="72.6" y="382.3" font-size="10.9" text-anchor="start" font-weight="normal" >Epicenter of 2018 Hualien earthquake</text>
<text x="40.2" y="350.8" font-size="10.85" text-anchor="start" font-weight="normal" >Mean <tspan font-style="italic">b</tspan>-value = 0.91 ±0.19</text><text x="40.2" y="362.8" font-size="10.85" text-anchor="start" font-weight="normal" ><tspan font-style="italic">b</tspan>-value in epicenter = 0.73 (14.8%) ±0.0062</text>
</g>
<g transform="translate(340.7,0)">
<clipPath id="clipb"><rect x="31.56" y="3.6" width="312.29" height="389.9"/></clipPath>
<g clip-path="url(#clipb)">
<rect x="277.34" y="70.23" width="7.81" height="7.80" fill="#00b2ff" stroke="#00b2ff" stroke-width="0.6"/>
<rect x="285.15" y="70.23" width="7.81" height="7.80" fill="#005cff" stroke="#005cff" stroke-width="0.6"/>
<rect x="253.92" y="78.03" width="7.81" height="7.80" fill="#0080ff" stroke="#0080ff" stroke-width="0.6"/>
<rect x="261.72" y="78.03" width="7.81" height="7.80" fill="#58ff9f" stroke="#58ff9f" stroke-width="0.6"/>
<rect x="269.53" y="78.03" width="7.81" height="7.80" fill="#0000ff" stroke="#0000ff" stroke-width="0.6"/>
<rect x="277.34" y="78.03" width="7.81" height="7.80" fill="#0070ff" stroke="#0070ff" stroke-width="0.6"/>
<rect x="285.15" y="78.03" width="7.81" height="7.80" fill="#00b2ff" stroke="#00b2ff" stroke-width="0.6"/>
<rect x="292.95" y="78.03" width="7.81" height="7.80" fill="#c0ff36" stroke="#c0ff36" stroke-width="0.6"/>
<rect x="300.76" y="78.03" width="7.81" height="7.80" fill="#00a3ff" stroke="#00a3ff" stroke-width="0.6"/>
<rect x="308.57" y="78.03" width="7.81" height="7.80" fill="#0080ff" stroke="#0080ff" stroke-width="0.6"/>
<rect x="207.07" y="85.83" width="7.81" height="7.80" fill="#c0ff36" stroke="#c0ff36" stroke-width="0.6"/>
<rect x="253.92" y="85.83" width="7.81" height="7.80" fill="#06edf0" stroke="#06edf0" stroke-width="0.6"/>
<rect x="261.72" y="85.83" width="7.81" height="7.80" fill="#58ff9f" stroke="#58ff9f" stroke-width="0.6"/>
<rect x="269.53" y="85.83" width="7.81" height="7.80" fill="#005cff" stroke="#005cff" stroke-width="0.6"/>
<rect x="277.34" y="85.83" width="7.81" height="7.80" fill="#0000ff" stroke="#0000ff" stroke-width="0.6"/>
<rect x="285.15" y="85.83" width="7.81" height="7.80" fill="#0080ff" stroke="#0080ff" stroke-width="0.6"/>
<rect x="292.95" y="85.83" width="7.81" height="7.80" fill="#008fff" stroke="#008fff" stroke-width="0.6"/>
<rect x="300.76" y="85.83" width="7.81" height="7.80" fill="#008fff" stroke="#008fff" stroke-width="0.6"/>
<rect x="308.57" y="85.83" width="7.81" height="7.80" fill="#0080ff" stroke="#0080ff" stroke-width="0.6"/>
<rect x="316.37" y="85.83" width="7.81" height="7.80" fill="#0029ff" stroke="#0029ff" stroke-width="0.6"/>
<rect x="191.46" y="93.63" width="7.81" height="7.80" fill="#00b2ff" stroke="#00b2ff" stroke-width="0.6"/>
<rect x="199.27" y="93.63" width="7.81" height="7.80" fill="#00e5f7" stroke="#00e5f7" stroke-width="0.6"/>
<rect x="207.07" y="93.63" width="7.81" height="7.80" fill="#48ffae" stroke="#48ffae" stroke-width="0.6"/>
<rect x="214.88" y="93.63" width="7.81" height="7.80" fill="#48ffae" stroke="#48ffae" stroke-width="0.6"/>
<rect x="222.69" y="93.63" width="7.81" height="7.80" fill="#6cff8b" stroke="#6cff8b" stroke-width="0.6"/>
<rect x="230.49" y="93.63" width="7.81" height="7.80" fill="#0019ff" stroke="#0019ff" stroke-width="0.6"/>
<rect x="238.30" y="93.63" width="7.81" height="7.80" fill="#0000ff" stroke="#0000ff" stroke-width="0.6"/>
<rect x="246.11" y="93.63" width="7.81" height="7.80" fill="#0080ff" stroke="#0080ff" stroke-width="0.6"/>
<rect x="253.92" y="93.63" width="7.81" height="7.80" fill="#48ffae" stroke="#48ffae" stroke-width="0.6"/>
<rect x="261.72" y="93.63" width="7.81" height="7.80" fill="#58ff9f" stroke="#58ff9f" stroke-width="0.6"/>
<rect x="269.53" y="93.63" width="7.81" height="7.80" fill="#005cff" stroke="#005cff" stroke-width="0.6"/>
<rect x="277.34" y="93.63" width="7.81" height="7.80" fill="#0000ff" stroke="#0000ff" stroke-width="0.6"/>
<rect x="285.15" y="93.63" width="7.81" height="7.80" fill="#0080ff" stroke="#0080ff" stroke-width="0.6"/>
<rect x="292.95" y="93.63" width="7.81" height="7.80" fill="#00b2ff" stroke="#00b2ff" stroke-width="0.6"/>
<rect x="300.76" y="93.63" width="7.81" height="7.80" fill="#0080ff" stroke="#0080ff" stroke-width="0.6"/>
<rect x="308.57" y="93.63" width="7.81" height="7.80" fill="#0019ff" stroke="#0019ff" stroke-width="0.6"/>
<rect x="316.37" y="93.63" width="7.81" height="7.80" fill="#004cff" stroke="#004cff" stroke-width="0.6"/>
<rect x="175.84" y="101.42" width="7.81" height="7.80" fill="#0019ff" stroke="#0019ff" stroke-width="0.6"/>
<rect x="183.65" y="101.42" width="7.81" height="7.80" fill="#004cff" stroke="#004cff" stroke-width="0.6"/>
<rect x="191.46" y="101.42" width="7.81" height="7.80" fill="#0080ff" stroke="#0080ff" stroke-width="0.6"/>
<rect x="199.27" y="101.42" width="7.81" height="7.80" fill="#00b2ff" stroke="#00b2ff" stroke-width="0.6"/>
<rect x="207.07" y="101.42" width="7.81" height="7.80" fill="#15ffe1" stroke="#15ffe1" stroke-width="0.6"/>
<rect x="214.88" y="101.42" width="7.81" height="7.80" fill="#48ffae" stroke="#48ffae" stroke-width="0.6"/>
<rect x="222.69" y="101.42" width="7.81" height="7.80" fill="#00e5f7" stroke="#00e5f7" stroke-width="0.6"/>
<rect x="230.49" y="101.42" width="7.81" height="7.80" fill="#004cff" stroke="#004cff" stroke-width="0.6"/>
<rect x="238.30" y="101.42" width="7.81" height="7.80" fill="#0000ff" stroke="#0000ff" stroke-width="0.6"/>
<rect x="246.11" y="101.42" width="7.81" height="7.80" fill="#0000ff" stroke="#0000ff" stroke-width="0.6"/>
<rect x="253.92" y="101.42" width="7.81" height="7.80" fill="#0080ff" stroke="#0080ff" stroke-width="0.6"/>
<rect x="261.72" y="101.42" width="7.81" height="7.80" fill="#48ffae" stroke="#48ffae" stroke-width="0.6"/>
<rect x="269.53" y="101.42" width="7.81" height="7.80" fill="#00b2ff" stroke="#00b2ff" stroke-width="0.6"/>
<rect x="277.34" y="101.42" width="7.81" height="7.80" fill="#0000ff" stroke="#0000ff" stroke-width="0.6"/>
<rect x="285.15" y="101.42" width="7.81" height="7.80" fill="#0080ff" stroke="#0080ff" stroke-width="0.6"/>
<rect x="292.95" y="101.42" width="7.81" height="7.80" fill="#000fff" stroke="#000fff" stroke-width="0.6"/>
<rect x="300.76" y="101.42" width="7.81" height="7.80" fill="#0080ff" stroke="#0080ff" stroke-width="0.6"/>
<rect x="308.57" y="101.42" width="7.81" height="7.80" fill="#0080ff" stroke="#0080ff" stroke-width="0.6"/>
<rect x="175.84" y="109.22" width="7.81" height="7.80" fill="#0019ff" stroke="#0019ff" stroke-width="0.6"/>
<rect x="183.65" y="109.22" width="7.81" height="7.80" fill="#005cff" stroke="#005cff" stroke-width="0.6"/>
<rect x="191.46" y="109.22" width="7.81" height="7.80" fill="#0080ff" stroke="#0080ff" stroke-width="0.6"/>
<rect x="199.27" y="109.22" width="7.81" height="7.80" fill="#0080ff" stroke="#0080ff" stroke-width="0.6"/>
<rect x="207.07" y="109.22" width="7.81" height="7.80" fill="#00c2ff" stroke="#00c2ff" stroke-width="0.6"/>
<rect x="214.88" y="109.22" width="7.81" height="7.80" fill="#06edf0" stroke="#06edf0" stroke-width="0.6"/>
<rect x="222.69" y="109.22" width="7.81" height="7.80" fill="#008fff" stroke="#008fff" stroke-width="0.6"/>
<rect x="230.49" y="109.22" width="7.81" height="7.80" fill="#005cff" stroke="#005cff" stroke-width="0.6"/>
<rect x="238.30" y="109.22" width="7.81" height="7.80" fill="#004cff" stroke="#004cff" stroke-width="0.6"/>
<rect x="246.11" y="109.22" width="7.81" height="7.80" fill="#0080ff" stroke="#0080ff" stroke-width="0.6"/>
<rect x="253.92" y="109.22" width="7.81" height="7.80" fill="#0019ff" stroke="#0019ff" stroke-width="0.6"/>
<rect x="261.72" y="109.22" width="7.81" height="7.80" fill="#0029ff" stroke="#0029ff" stroke-width="0.6"/>
<rect x="269.53" y="109.22" width="7.81" height="7.80" fill="#8bff6c" stroke="#8bff6c" stroke-width="0.6"/>
<rect x="277.34" y="109.22" width="7.81" height="7.80" fill="#00b2ff" stroke="#00b2ff" stroke-width="0.6"/>
<rect x="285.15" y="109.22" width="7.81" height="7.80" fill="#0080ff" stroke="#0080ff" stroke-width="0.6"/>
<rect x="292.95" y="109.22" width="7.81" height="7.80" fill="#15ffe1" stroke="#15ffe1" stroke-width="0.6"/>
<rect x="300.76" y="109.22" width="7.81" height="7.80" fill="#008fff" stroke="#008fff" stroke-width="0.6"/>
<rect x="308.57" y="109.22" width="7.81" height="7.80" fill="#008fff" stroke="#008fff" stroke-width="0.6"/>
<rect x="175.84" y="117.02" width="7.81" height="7.80" fill="#0019ff" stroke="#0019ff" stroke-width="0.6"/>
<rect x="183.65" y="117.02" width="7.81" height="7.80" fill="#0019ff" stroke="#0019ff" stroke-width="0.6"/>
<rect x="191.46" y="117.02" width="7.81" height="7.80" fill="#0029ff" stroke="#0029ff" stroke-width="0.6"/>
<rect x="199.27" y="117.02" width="7.81" height="7.80" fill="#0080ff" stroke="#0080ff" stroke-width="0.6"/>
<rect x="207.07" y="117.02" width="7.81" height="7.80" fill="#0000ff" stroke="#0000ff" stroke-width="0.6"/>
<rect x="214.88" y="117.02" width="7.81" height="7.80" fill="#0000cd" stroke="#0000cd" stroke-width="0.6"/>
<rect x="222.69" y="117.02" width="7.81" height="7.80" fill="#0029ff" stroke="#0029ff" stroke-width="0.6"/>
<rect x="230.49" y="117.02" width="7.81" height="7.80" fill="#0080ff" stroke="#0080ff" stroke-width="0.6"/>
<rect x="238.30" y="117.02" width="7.81" height="7.80" fill="#004cff" stroke="#004cff" stroke-width="0.6"/>
<rect x="246.11" y="117.02" width="7.81" height="7.80" fill="#0000ff" stroke="#0000ff" stroke-width="0.6"/>
<rect x="253.92" y="117.02" width="7.81" height="7.80" fill="#0000ff" stroke="#0000ff" stroke-width="0.6"/>
<rect x="261.72" y="117.02" width="7.81" height="7.80" fill="#0019ff" stroke="#0019ff" stroke-width="0.6"/>
<rect x="269.53" y="117.02" width="7.81" height="7.80" fill="#008fff" stroke="#008fff" stroke-width="0.6"/>
<rect x="168.04" y="124.82" width="7.81" height="7.80" fill="#008fff" stroke="#008fff" stroke-width="0.6"/>
<rect x="175.84" y="124.82" width="7.81" height="7.80" fill="#004cff" stroke="#004cff" stroke-width="0.6"/>
<rect x="183.65" y="124.82" width="7.81" height="7.80" fill="#005cff" stroke="#005cff" stroke-width="0.6"/>
<rect x="191.46" y="124.82" width="7.81" height="7.80" fill="#0000ff" stroke="#0000ff" stroke-width="0.6"/>
<rect x="199.27" y="124.82" width="7.81" height="7.80" fill="#48ffae" stroke="#48ffae" stroke-width="0.6"/>
<rect x="207.07" y="124.82" width="7.81" height="7.80" fill="#00d6ff" stroke="#00d6ff" stroke-width="0.6"/>
<rect x="214.88" y="124.82" width="7.81" height="7.80" fill="#0029ff" stroke="#0029ff" stroke-width="0.6"/>
<rect x="222.69" y="124.82" width="7.81" height="7.80" fill="#005cff" stroke="#005cff" stroke-width="0.6"/>
<rect x="230.49" y="124.82" width="7.81" height="7.80" fill="#0019ff" stroke="#0019ff" stroke-width="0.6"/>
<rect x="238.30" y="124.82" width="7.81" height="7.80" fill="#0019ff" stroke="#0019ff" stroke-width="0.6"/>
<rect x="246.11" y="124.82" width="7.81" height="7.80" fill="#0000cd" stroke="#0000cd" stroke-width="0.6"/>
<rect x="253.92" y="124.82" width="7.81" height="7.80" fill="#0000cd" stroke="#0000cd" stroke-width="0.6"/>
<rect x="261.72" y="124.82" width="7.81" height="7.80" fill="#0019ff" stroke="#0019ff" stroke-width="0.6"/>
<rect x="269.53" y="124.82" width="7.81" height="7.80" fill="#008fff" stroke="#008fff" stroke-width="0.6"/>
<rect x="168.04" y="132.62" width="7.81" height="7.80" fill="#0080ff" stroke="#0080ff" stroke-width="0.6"/>
<rect x="175.84" y="132.62" width="7.81" height="7.80" fill="#0029ff" stroke="#0029ff" stroke-width="0.6"/>
<rect x="183.65" y="132.62" width="7.81" height="7.80" fill="#0080ff" stroke="#0080ff" stroke-width="0.6"/>
<rect x="191.46" y="132.62" width="7.81" height="7.80" fill="#004cff" stroke="#004cff" stroke-width="0.6"/>
<rect x="199.27" y="132.62" width="7.81" height="7.80" fill="#00b2ff" stroke="#00b2ff" stroke-width="0.6"/>
<rect x="207.07" y="132.62" width="7.81" height="7.80" fill="#0080ff" stroke="#0080ff" stroke-width="0.6"/>
<rect x="214.88" y="132.62" width="7.81" height="7.80" fill="#0029ff" stroke="#0029ff" stroke-width="0.6"/>
<rect x="222.69" y="132.62" width="7.81" height="7.80" fill="#004cff" stroke="#004cff" stroke-width="0.6"/>
<rect x="230.49" y="132.62" width="7.81" height="7.80" fill="#0000ff" stroke="#0000ff" stroke-width="0.6"/>
<rect x="238.30" y="132.62" width="7.81" height="7.80" fill="#0000cd" stroke="#0000cd" stroke-width="0.6"/>
<rect x="246.11" y="132.62" width="7.81" height="7.80" fill="#0000b0" stroke="#0000b0" stroke-width="0.6"/>
<rect x="253.92" y="132.62" width="7.81" height="7.80" fill="#0029ff" stroke="#0029ff" stroke-width="0.6"/>
<rect x="261.72" y="132.62" width="7.81" height="7.80" fill="#0019ff" stroke="#0019ff" stroke-width="0.6"/>
<rect x="269.53" y="132.62" width="7.81" height="7.80" fill="#0029ff" stroke="#0029ff" stroke-width="0.6"/>
<rect x="168.04" y="140.41" width="7.81" height="7.80" fill="#008fff" stroke="#008fff" stroke-width="0.6"/>
<rect x="175.84" y="140.41" width="7.81" height="7.80" fill="#005cff" stroke="#005cff" stroke-width="0.6"/>
<rect x="183.65" y="140.41" width="7.81" height="7.80" fill="#004cff" stroke="#004cff" stroke-width="0.6"/>
<rect x="191.46" y="140.41" width="7.81" height="7.80" fill="#15ffe1" stroke="#15ffe1" stroke-width="0.6"/>
<rect x="199.27" y="140.41" width="7.81" height="7.80" fill="#005cff" stroke="#005cff" stroke-width="0.6"/>
<rect x="207.07" y="140.41" width="7.81" height="7.80" fill="#004cff" stroke="#004cff" stroke-width="0.6"/>
<rect x="214.88" y="140.41" width="7.81" height="7.80" fill="#008fff" stroke="#008fff" stroke-width="0.6"/>
<rect x="222.69" y="140.41" width="7.81" height="7.80" fill="#0000cd" stroke="#0000cd" stroke-width="0.6"/>
<rect x="230.49" y="140.41" width="7.81" height="7.80" fill="#0000b0" stroke="#0000b0" stroke-width="0.6"/>
<rect x="238.30" y="140.41" width="7.81" height="7.80" fill="#0000b0" stroke="#0000b0" stroke-width="0.6"/>
<rect x="246.11" y="140.41" width="7.81" height="7.80" fill="#0000b0" stroke="#0000b0" stroke-width="0.6"/>
<rect x="253.92" y="140.41" width="7.81" height="7.80" fill="#005cff" stroke="#005cff" stroke-width="0.6"/>
<rect x="261.72" y="140.41" width="7.81" height="7.80" fill="#0000ff" stroke="#0000ff" stroke-width="0.6"/>
<rect x="269.53" y="140.41" width="7.81" height="7.80" fill="#005cff" stroke="#005cff" stroke-width="0.6"/>
<rect x="277.34" y="140.41" width="7.81" height="7.80" fill="#0019ff" stroke="#0019ff" stroke-width="0.6"/>
<rect x="285.15" y="140.41" width="7.81" height="7.80" fill="#000aff" stroke="#000aff" stroke-width="0.6"/>
<rect x="292.95" y="140.41" width="7.81" height="7.80" fill="#0000ff" stroke="#0000ff" stroke-width="0.6"/>
<rect x="168.04" y="148.21" width="7.81" height="7.80" fill="#15ffe1" stroke="#15ffe1" stroke-width="0.6"/>
<rect x="175.84" y="148.21" width="7.81" height="7.80" fill="#0000ff" stroke="#0000ff" stroke-width="0.6"/>
<rect x="183.65" y="148.21" width="7.81" height="7.80" fill="#004cff" stroke="#004cff" stroke-width="0.6"/>
<rect x="191.46" y="148.21" width="7.81" height="7.80" fill="#0070ff" stroke="#0070ff" stroke-width="0.6"/>
<rect x="199.27" y="148.21" width="7.81" height="7.80" fill="#48ffae" stroke="#48ffae" stroke-width="0.6"/>
<rect x="207.07" y="148.21" width="7.81" height="7.80" fill="#0080ff" stroke="#0080ff" stroke-width="0.6"/>
<rect x="214.88" y="148.21" width="7.81" height="7.80" fill="#0029ff" stroke="#0029ff" stroke-width="0.6"/>
<rect x="222.69" y="148.21" width="7.81" height="7.80" fill="#0000cd" stroke="#0000cd" stroke-width="0.6"/>
<rect x="230.49" y="148.21" width="7.81" height="7.80" fill="#0000b0" stroke="#0000b0" stroke-width="0.6"/>
<rect x="238.30" y="148.21" width="7.81" height="7.80" fill="#0000cd" stroke="#0000cd" stroke-width="0.6"/>
<rect x="246.11" y="148.21" width="7.81" height="7.80" fill="#0000cd" stroke="#0000cd" stroke-width="0.6"/>
<rect x="253.92" y="148.21" width="7.81" height="7.80" fill="#0029ff" stroke="#0029ff" stroke-width="0.6"/>
<rect x="261.72" y="148.21" width="7.81" height="7.80" fill="#00c2ff" stroke="#00c2ff" stroke-width="0.6"/>
<rect x="269.53" y="148.21" width="7.81" height="7.80" fill="#0019ff" stroke="#0019ff" stroke-width="0.6"/>
<rect x="277.34" y="148.21" width="7.81" height="7.80" fill="#0000ff" stroke="#0000ff" stroke-width="0.6"/>
<rect x="285.15" y="148.21" width="7.81" height="7.80" fill="#0000cd" stroke="#0000cd" stroke-width="0.6"/>
<rect x="292.95" y="148.21" width="7.81" height="7.80" fill="#0000ff" stroke="#0000ff" stroke-width="0.6"/>
<rect x="300.76" y="148.21" width="7.81" height="7.80" fill="#004cff" stroke="#004cff" stroke-width="0.6"/>
<rect x="168.04" y="156.01" width="7.81" height="7.80" fill="#8bff6c" stroke="#8bff6c" stroke-width="0.6"/>
<rect x="175.84" y="156.01" width="7.81" height="7.80" fill="#0000ff" stroke="#0000ff" stroke-width="0.6"/>
<rect x="183.65" y="156.01" width="7.81" height="7.80" fill="#0000ff" stroke="#0000ff" stroke-width="0.6"/>
<rect x="191.46" y="156.01" width="7.81" height="7.80" fill="#0000ff" stroke="#0000ff" stroke-width="0.6"/>
<rect x="199.27" y="156.01" width="7.81" height="7.80" fill="#7bff7b" stroke="#7bff7b" stroke-width="0.6"/>
<rect x="207.07" y="156.01" width="7.81" height="7.80" fill="#0029ff" stroke="#0029ff" stroke-width="0.6"/>
<rect x="214.88" y="156.01" width="7.81" height="7.80" fill="#0000ff" stroke="#0000ff" stroke-width="0.6"/>
<rect x="222.69" y="156.01" width="7.81" height="7.80" fill="#0000cd" stroke="#0000cd" stroke-width="0.6"/>
<rect x="230.49" y="156.01" width="7.81" height="7.80" fill="#0000ff" stroke="#0000ff" stroke-width="0.6"/>
<rect x="238.30" y="156.01" width="7.81" height="7.80" fill="#0000cd" stroke="#0000cd" stroke-width="0.6"/>
<rect x="246.11" y="156.01" width="7.81" height="7.80" fill="#0000cd" stroke="#0000cd" stroke-width="0.6"/>
<rect x="253.92" y="156.01" width="7.81" height="7.80" fill="#004cff" stroke="#004cff" stroke-width="0.6"/>
<rect x="269.53" y="156.01" width="7.81" height="7.80" fill="#0000cd" stroke="#0000cd" stroke-width="0.6"/>
<rect x="277.34" y="156.01" width="7.81" height="7.80" fill="#0000ff" stroke="#0000ff" stroke-width="0.6"/>
<rect x="285.15" y="156.01" width="7.81" height="7.80" fill="#0000ff" stroke="#0000ff" stroke-width="0.6"/>
<rect x="292.95" y="156.01" width="7.81" height="7.80" fill="#0029ff" stroke="#0029ff" stroke-width="0.6"/>
<rect x="300.76" y="156.01" width="7.81" height="7.80" fill="#00b2ff" stroke="#00b2ff" stroke-width="0.6"/>
<rect x="168.04" y="163.81" width="7.81" height="7.80" fill="#48ffae" stroke="#48ffae" stroke-width="0.6"/>
<rect x="175.84" y="163.81" width="7.81" height="7.80" fill="#0000ff" stroke="#0000ff" stroke-width="0.6"/>
<rect x="183.65" y="163.81" width="7.81" height="7.80" fill="#0000ff" stroke="#0000ff" stroke-width="0.6"/>
<rect x="191.46" y="163.81" width="7.81" height="7.80" fill="#0000ff" stroke="#0000ff" stroke-width="0.6"/>
<rect x="199.27" y="163.81" width="7.81" height="7.80" fill="#15ffe1" stroke="#15ffe1" stroke-width="0.6"/>
<rect x="207.07" y="163.81" width="7.81" height="7.80" fill="#005cff" stroke="#005cff" stroke-width="0.6"/>
<rect x="214.88" y="163.81" width="7.81" height="7.80" fill="#0019ff" stroke="#0019ff" stroke-width="0.6"/>
<rect x="222.69" y="163.81" width="7.81" height="7.80" fill="#0029ff" stroke="#0029ff" stroke-width="0.6"/>
<rect x="230.49" y="163.81" width="7.81" height="7.80" fill="#004cff" stroke="#004cff" stroke-width="0.6"/>
<rect x="238.30" y="163.81" width="7.81" height="7.80" fill="#0029ff" stroke="#0029ff" stroke-width="0.6"/>
<rect x="246.11" y="163.81" width="7.81" height="7.80" fill="#0029ff" stroke="#0029ff" stroke-width="0.6"/>
<rect x="253.92" y="163.81" width="7.81" height="7.80" fill="#005cff" stroke="#005cff" stroke-width="0.6"/>
<rect x="261.72" y="163.81" width="7.81" height="7.80" fill="#00c2ff" stroke="#00c2ff" stroke-width="0.6"/>
<rect x="285.15" y="163.81" width="7.81" height="7.80" fill="#0080ff" stroke="#0080ff" stroke-width="0.6"/>
<rect x="292.95" y="163.81" width="7.81" height="7.80" fill="#0080ff" stroke="#0080ff" stroke-width="0.6"/>
<rect x="300.76" y="163.81" width="7.81" height="7.80" fill="#15ffe1" stroke="#15ffe1" stroke-width="0.6"/>
<rect x="152.42" y="171.61" width="7.81" height="7.80" fill="#0080ff" stroke="#0080ff" stroke-width="0.6"/>
<rect x="160.23" y="171.61" width="7.81" height="7.80" fill="#0029ff" stroke="#0029ff" stroke-width="0.6"/>
<rect x="168.04" y="171.61" width="7.81" height="7.80" fill="#008fff" stroke="#008fff" stroke-width="0.6"/>
<rect x="175.84" y="171.61" width="7.81" height="7.80" fill="#0000d9" stroke="#0000d9" stroke-width="0.6"/>
<rect x="183.65" y="171.61" width="7.81" height="7.80" fill="#0000d9" stroke="#0000d9" stroke-width="0.6"/>
<rect x="191.46" y="171.61" width="7.81" height="7.80" fill="#0019ff" stroke="#0019ff" stroke-width="0.6"/>
<rect x="199.27" y="171.61" width="7.81" height="7.80" fill="#0019ff" stroke="#0019ff" stroke-width="0.6"/>
<rect x="207.07" y="171.61" width="7.81" height="7.80" fill="#004cff" stroke="#004cff" stroke-width="0.6"/>
<rect x="214.88" y="171.61" width="7.81" height="7.80" fill="#0019ff" stroke="#0019ff" stroke-width="0.6"/>
<rect x="222.69" y="171.61" width="7.81" height="7.80" fill="#0080ff" stroke="#0080ff" stroke-width="0.6"/>
<rect x="230.49" y="171.61" width="7.81" height="7.80" fill="#00a3ff" stroke="#00a3ff" stroke-width="0.6"/>
<rect x="238.30" y="171.61" width="7.81" height="7.80" fill="#0029ff" stroke="#0029ff" stroke-width="0.6"/>
<rect x="246.11" y="171.61" width="7.81" height="7.80" fill="#0019ff" stroke="#0019ff" stroke-width="0.6"/>
<rect x="253.92" y="171.61" width="7.81" height="7.80" fill="#0029ff" stroke="#0029ff" stroke-width="0.6"/>
<rect x="261.72" y="171.61" width="7.81" height="7.80" fill="#0080ff" stroke="#0080ff" stroke-width="0.6"/>
<rect x="144.62" y="179.40" width="7.81" height="7.80" fill="#005cff" stroke="#005cff" stroke-width="0.6"/>
<rect x="152.42" y="179.40" width="7.81" height="7.80" fill="#0000cd" stroke="#0000cd" stroke-width="0.6"/>
<rect x="160.23" y="179.40" width="7.81" height="7.80" fill="#0000cd" stroke="#0000cd" stroke-width="0.6"/>
<rect x="168.04" y="179.40" width="7.81" height="7.80" fill="#0000cd" stroke="#0000cd" stroke-width="0.6"/>
<rect x="175.84" y="179.40" width="7.81" height="7.80" fill="#0000ff" stroke="#0000ff" stroke-width="0.6"/>
<rect x="183.65" y="179.40" width="7.81" height="7.80" fill="#0019ff" stroke="#0019ff" stroke-width="0.6"/>
<rect x="191.46" y="179.40" width="7.81" height="7.80" fill="#004cff" stroke="#004cff" stroke-width="0.6"/>
<rect x="199.27" y="179.40" width="7.81" height="7.80" fill="#0029ff" stroke="#0029ff" stroke-width="0.6"/>
<rect x="207.07" y="179.40" width="7.81" height="7.80" fill="#0019ff" stroke="#0019ff" stroke-width="0.6"/>
<rect x="214.88" y="179.40" width="7.81" height="7.80" fill="#0000ff" stroke="#0000ff" stroke-width="0.6"/>
<rect x="222.69" y="179.40" width="7.81" height="7.80" fill="#0000ff" stroke="#0000ff" stroke-width="0.6"/>
<rect x="230.49" y="179.40" width="7.81" height="7.80" fill="#0019ff" stroke="#0019ff" stroke-width="0.6"/>
<rect x="238.30" y="179.40" width="7.81" height="7.80" fill="#0000ff" stroke="#0000ff" stroke-width="0.6"/>
<rect x="246.11" y="179.40" width="7.81" height="7.80" fill="#0000ff" stroke="#0000ff" stroke-width="0.6"/>
<rect x="253.92" y="179.40" width="7.81" height="7.80" fill="#0019ff" stroke="#0019ff" stroke-width="0.6"/>
<rect x="261.72" y="179.40" width="7.81" height="7.80" fill="#25ffd2" stroke="#25ffd2" stroke-width="0.6"/>
<rect x="136.81" y="187.20" width="7.81" height="7.80" fill="#15ffe1" stroke="#15ffe1" stroke-width="0.6"/>
<rect x="144.62" y="187.20" width="7.81" height="7.80" fill="#15ffe1" stroke="#15ffe1" stroke-width="0.6"/>
<rect x="152.42" y="187.20" width="7.81" height="7.80" fill="#0000cd" stroke="#0000cd" stroke-width="0.6"/>
<rect x="160.23" y="187.20" width="7.81" height="7.80" fill="#0000cd" stroke="#0000cd" stroke-width="0.6"/>
<rect x="168.04" y="187.20" width="7.81" height="7.80" fill="#0000cd" stroke="#0000cd" stroke-width="0.6"/>
<rect x="175.84" y="187.20" width="7.81" height="7.80" fill="#0000ff" stroke="#0000ff" stroke-width="0.6"/>
<rect x="183.65" y="187.20" width="7.81" height="7.80" fill="#0029ff" stroke="#0029ff" stroke-width="0.6"/>
<rect x="191.46" y="187.20" width="7.81" height="7.80" fill="#005cff" stroke="#005cff" stroke-width="0.6"/>
<rect x="199.27" y="187.20" width="7.81" height="7.80" fill="#0080ff" stroke="#0080ff" stroke-width="0.6"/>
<rect x="207.07" y="187.20" width="7.81" height="7.80" fill="#0000ff" stroke="#0000ff" stroke-width="0.6"/>
<rect x="214.88" y="187.20" width="7.81" height="7.80" fill="#0000ff" stroke="#0000ff" stroke-width="0.6"/>
<rect x="222.69" y="187.20" width="7.81" height="7.80" fill="#0019ff" stroke="#0019ff" stroke-width="0.6"/>
<rect x="230.49" y="187.20" width="7.81" height="7.80" fill="#004cff" stroke="#004cff" stroke-width="0.6"/>
<rect x="238.30" y="187.20" width="7.81" height="7.80" fill="#004cff" stroke="#004cff" stroke-width="0.6"/>
<rect x="246.11" y="187.20" width="7.81" height="7.80" fill="#005cff" stroke="#005cff" stroke-width="0.6"/>
<rect x="253.92" y="187.20" width="7.81" height="7.80" fill="#0000ff" stroke="#0000ff" stroke-width="0.6"/>
<rect x="129.00" y="195.00" width="7.81" height="7.80" fill="#25ffd2" stroke="#25ffd2" stroke-width="0.6"/>
<rect x="136.81" y="195.00" width="7.81" height="7.80" fill="#0019ff" stroke="#0019ff" stroke-width="0.6"/>
<rect x="144.62" y="195.00" width="7.81" height="7.80" fill="#0029ff" stroke="#0029ff" stroke-width="0.6"/>
<rect x="152.42" y="195.00" width="7.81" height="7.80" fill="#0000b0" stroke="#0000b0" stroke-width="0.6"/>
<rect x="160.23" y="195.00" width="7.81" height="7.80" fill="#0000cd" stroke="#0000cd" stroke-width="0.6"/>
<rect x="168.04" y="195.00" width="7.81" height="7.80" fill="#0000ff" stroke="#0000ff" stroke-width="0.6"/>
<rect x="175.84" y="195.00" width="7.81" height="7.80" fill="#0080ff" stroke="#0080ff" stroke-width="0.6"/>
<rect x="183.65" y="195.00" width="7.81" height="7.80" fill="#0070ff" stroke="#0070ff" stroke-width="0.6"/>
<rect x="191.46" y="195.00" width="7.81" height="7.80" fill="#00c2ff" stroke="#00c2ff" stroke-width="0.6"/>
<rect x="199.27" y="195.00" width="7.81" height="7.80" fill="#0080ff" stroke="#0080ff" stroke-width="0.6"/>
<rect x="207.07" y="195.00" width="7.81" height="7.80" fill="#0000ff" stroke="#0000ff" stroke-width="0.6"/>
<rect x="214.88" y="195.00" width="7.81" height="7.80" fill="#0000ff" stroke="#0000ff" stroke-width="0.6"/>
<rect x="222.69" y="195.00" width="7.81" height="7.80" fill="#0019ff" stroke="#0019ff" stroke-width="0.6"/>
<rect x="230.49" y="195.00" width="7.81" height="7.80" fill="#004cff" stroke="#004cff" stroke-width="0.6"/>
<rect x="238.30" y="195.00" width="7.81" height="7.80" fill="#005cff" stroke="#005cff" stroke-width="0.6"/>
<rect x="246.11" y="195.00" width="7.81" height="7.80" fill="#00b2ff" stroke="#00b2ff" stroke-width="0.6"/>
<rect x="129.00" y="202.80" width="7.81" height="7.80" fill="#005cff" stroke="#005cff" stroke-width="0.6"/>
<rect x="136.81" y="202.80" width="7.81" height="7.80" fill="#000fff" stroke="#000fff" stroke-width="0.6"/>
<rect x="144.62" y="202.80" width="7.81" height="7.80" fill="#0000cd" stroke="#0000cd" stroke-width="0.6"/>
<rect x="152.42" y="202.80" width="7.81" height="7.80" fill="#0000b0" stroke="#0000b0" stroke-width="0.6"/>
<rect x="160.23" y="202.80" width="7.81" height="7.80" fill="#0000cd" stroke="#0000cd" stroke-width="0.6"/>
<rect x="168.04" y="202.80" width="7.81" height="7.80" fill="#0000ff" stroke="#0000ff" stroke-width="0.6"/>
<rect x="175.84" y="202.80" width="7.81" height="7.80" fill="#00e5f7" stroke="#00e5f7" stroke-width="0.6"/>
<rect x="183.65" y="202.80" width="7.81" height="7.80" fill="#008fff" stroke="#008fff" stroke-width="0.6"/>
<rect x="191.46" y="202.80" width="7.81" height="7.80" fill="#00c2ff" stroke="#00c2ff" stroke-width="0.6"/>
<rect x="199.27" y="202.80" width="7.81" height="7.80" fill="#0019ff" stroke="#0019ff" stroke-width="0.6"/>
<rect x="207.07" y="202.80" width="7.81" height="7.80" fill="#004cff" stroke="#004cff" stroke-width="0.6"/>
<rect x="214.88" y="202.80" width="7.81" height="7.80" fill="#004cff" stroke="#004cff" stroke-width="0.6"/>
<rect x="222.69" y="202.80" width="7.81" height="7.80" fill="#008fff" stroke="#008fff" stroke-width="0.6"/>
<rect x="230.49" y="202.80" width="7.81" height="7.80" fill="#6cff8b" stroke="#6cff8b" stroke-width="0.6"/>
<rect x="238.30" y="202.80" width="7.81" height="7.80" fill="#aeff48" stroke="#aeff48" stroke-width="0.6"/>
<rect x="246.11" y="202.80" width="7.81" height="7.80" fill="#6cff8b" stroke="#6cff8b" stroke-width="0.6"/>
<rect x="121.19" y="210.60" width="7.81" height="7.80" fill="#004cff" stroke="#004cff" stroke-width="0.6"/>
<rect x="129.00" y="210.60" width="7.81" height="7.80" fill="#004cff" stroke="#004cff" stroke-width="0.6"/>
<rect x="136.81" y="210.60" width="7.81" height="7.80" fill="#0000ff" stroke="#0000ff" stroke-width="0.6"/>
<rect x="144.62" y="210.60" width="7.81" height="7.80" fill="#0000c2" stroke="#0000c2" stroke-width="0.6"/>
<rect x="152.42" y="210.60" width="7.81" height="7.80" fill="#0000b0" stroke="#0000b0" stroke-width="0.6"/>
<rect x="160.23" y="210.60" width="7.81" height="7.80" fill="#0000cd" stroke="#0000cd" stroke-width="0.6"/>
<rect x="168.04" y="210.60" width="7.81" height="7.80" fill="#0000ff" stroke="#0000ff" stroke-width="0.6"/>
<rect x="175.84" y="210.60" width="7.81" height="7.80" fill="#000fff" stroke="#000fff" stroke-width="0.6"/>
<rect x="183.65" y="210.60" width="7.81" height="7.80" fill="#0019ff" stroke="#0019ff" stroke-width="0.6"/>
<rect x="191.46" y="210.60" width="7.81" height="7.80" fill="#0080ff" stroke="#0080ff" stroke-width="0.6"/>
<rect x="199.27" y="210.60" width="7.81" height="7.80" fill="#0029ff" stroke="#0029ff" stroke-width="0.6"/>
<rect x="207.07" y="210.60" width="7.81" height="7.80" fill="#0019ff" stroke="#0019ff" stroke-width="0.6"/>
<rect x="214.88" y="210.60" width="7.81" height="7.80" fill="#0019ff" stroke="#0019ff" stroke-width="0.6"/>
<rect x="222.69" y="210.60" width="7.81" height="7.80" fill="#0019ff" stroke="#0019ff" stroke-width="0.6"/>
<rect x="230.49" y="210.60" width="7.81" height="7.80" fill="#48ffae" stroke="#48ffae" stroke-width="0.6"/>
<rect x="238.30" y="210.60" width="7.81" height="7.80" fill="#aeff48" stroke="#aeff48" stroke-width="0.6"/>
<rect x="121.19" y="218.39" width="7.81" height="7.80" fill="#0080ff" stroke="#0080ff" stroke-width="0.6"/>
<rect x="129.00" y="218.39" width="7.81" height="7.80" fill="#0019ff" stroke="#0019ff" stroke-width="0.6"/>
<rect x="136.81" y="218.39" width="7.81" height="7.80" fill="#0019ff" stroke="#0019ff" stroke-width="0.6"/>
<rect x="144.62" y="218.39" width="7.81" height="7.80" fill="#0000ff" stroke="#0000ff" stroke-width="0.6"/>
<rect x="152.42" y="218.39" width="7.81" height="7.80" fill="#0000cd" stroke="#0000cd" stroke-width="0.6"/>
<rect x="160.23" y="218.39" width="7.81" height="7.80" fill="#0000cd" stroke="#0000cd" stroke-width="0.6"/>
<rect x="168.04" y="218.39" width="7.81" height="7.80" fill="#0000ff" stroke="#0000ff" stroke-width="0.6"/>
<rect x="175.84" y="218.39" width="7.81" height="7.80" fill="#0000ff" stroke="#0000ff" stroke-width="0.6"/>
<rect x="183.65" y="218.39" width="7.81" height="7.80" fill="#0000ff" stroke="#0000ff" stroke-width="0.6"/>
<rect x="191.46" y="218.39" width="7.81" height="7.80" fill="#0019ff" stroke="#0019ff" stroke-width="0.6"/>
<rect x="199.27" y="218.39" width="7.81" height="7.80" fill="#0019ff" stroke="#0019ff" stroke-width="0.6"/>
<rect x="207.07" y="218.39" width="7.81" height="7.80" fill="#0019ff" stroke="#0019ff" stroke-width="0.6"/>
<rect x="214.88" y="218.39" width="7.81" height="7.80" fill="#0019ff" stroke="#0019ff" stroke-width="0.6"/>
<rect x="222.69" y="218.39" width="7.81" height="7.80" fill="#004cff" stroke="#004cff" stroke-width="0.6"/>
<rect x="230.49" y="218.39" width="7.81" height="7.80" fill="#7bff7b" stroke="#7bff7b" stroke-width="0.6"/>
<rect x="238.30" y="218.39" width="7.81" height="7.80" fill="#ffe100" stroke="#ffe100" stroke-width="0.6"/>
<rect x="129.00" y="226.19" width="7.81" height="7.80" fill="#0029ff" stroke="#0029ff" stroke-width="0.6"/>
<rect x="136.81" y="226.19" width="7.81" height="7.80" fill="#0019ff" stroke="#0019ff" stroke-width="0.6"/>
<rect x="144.62" y="226.19" width="7.81" height="7.80" fill="#0000ff" stroke="#0000ff" stroke-width="0.6"/>
<rect x="152.42" y="226.19" width="7.81" height="7.80" fill="#0000ff" stroke="#0000ff" stroke-width="0.6"/>
<rect x="160.23" y="226.19" width="7.81" height="7.80" fill="#0000ff" stroke="#0000ff" stroke-width="0.6"/>
<rect x="168.04" y="226.19" width="7.81" height="7.80" fill="#0019ff" stroke="#0019ff" stroke-width="0.6"/>
<rect x="175.84" y="226.19" width="7.81" height="7.80" fill="#0000b0" stroke="#0000b0" stroke-width="0.6"/>
<rect x="183.65" y="226.19" width="7.81" height="7.80" fill="#0000b0" stroke="#0000b0" stroke-width="0.6"/>
<rect x="191.46" y="226.19" width="7.81" height="7.80" fill="#0000cd" stroke="#0000cd" stroke-width="0.6"/>
<rect x="199.27" y="226.19" width="7.81" height="7.80" fill="#004cff" stroke="#004cff" stroke-width="0.6"/>
<rect x="207.07" y="226.19" width="7.81" height="7.80" fill="#0000ff" stroke="#0000ff" stroke-width="0.6"/>
<rect x="214.88" y="226.19" width="7.81" height="7.80" fill="#0000ff" stroke="#0000ff" stroke-width="0.6"/>
<rect x="222.69" y="226.19" width="7.81" height="7.80" fill="#0000ff" stroke="#0000ff" stroke-width="0.6"/>
<rect x="230.49" y="226.19" width="7.81" height="7.80" fill="#00e5f7" stroke="#00e5f7" stroke-width="0.6"/>
<rect x="105.58" y="233.99" width="7.81" height="7.80" fill="#00e5f7" stroke="#00e5f7" stroke-width="0.6"/>
<rect x="113.39" y="233.99" width="7.81" height="7.80" fill="#00c2ff" stroke="#00c2ff" stroke-width="0.6"/>
<rect x="121.19" y="233.99" width="7.81" height="7.80" fill="#00c2ff" stroke="#00c2ff" stroke-width="0.6"/>
<rect x="129.00" y="233.99" width="7.81" height="7.80" fill="#25ffd2" stroke="#25ffd2" stroke-width="0.6"/>
<rect x="136.81" y="233.99" width="7.81" height="7.80" fill="#0019ff" stroke="#0019ff" stroke-width="0.6"/>
<rect x="144.62" y="233.99" width="7.81" height="7.80" fill="#0000ff" stroke="#0000ff" stroke-width="0.6"/>
<rect x="152.42" y="233.99" width="7.81" height="7.80" fill="#0000ff" stroke="#0000ff" stroke-width="0.6"/>
<rect x="160.23" y="233.99" width="7.81" height="7.80" fill="#0000ff" stroke="#0000ff" stroke-width="0.6"/>
<rect x="168.04" y="233.99" width="7.81" height="7.80" fill="#005cff" stroke="#005cff" stroke-width="0.6"/>
<rect x="175.84" y="233.99" width="7.81" height="7.80" fill="#0000b0" stroke="#0000b0" stroke-width="0.6"/>
<rect x="183.65" y="233.99" width="7.81" height="7.80" fill="#0000b0" stroke="#0000b0" stroke-width="0.6"/>
<rect x="191.46" y="233.99" width="7.81" height="7.80" fill="#0000cd" stroke="#0000cd" stroke-width="0.6"/>
<rect x="199.27" y="233.99" width="7.81" height="7.80" fill="#0000ff" stroke="#0000ff" stroke-width="0.6"/>
<rect x="207.07" y="233.99" width="7.81" height="7.80" fill="#0019ff" stroke="#0019ff" stroke-width="0.6"/>
<rect x="214.88" y="233.99" width="7.81" height="7.80" fill="#0029ff" stroke="#0029ff" stroke-width="0.6"/>
<rect x="222.69" y="233.99" width="7.81" height="7.80" fill="#004cff" stroke="#004cff" stroke-width="0.6"/>
<rect x="230.49" y="233.99" width="7.81" height="7.80" fill="#c0ff36" stroke="#c0ff36" stroke-width="0.6"/>
<rect x="97.77" y="241.79" width="7.81" height="7.80" fill="#eaff0c" stroke="#eaff0c" stroke-width="0.6"/>
<rect x="105.58" y="241.79" width="7.81" height="7.80" fill="#00c2ff" stroke="#00c2ff" stroke-width="0.6"/>
<rect x="113.39" y="241.79" width="7.81" height="7.80" fill="#00c2ff" stroke="#00c2ff" stroke-width="0.6"/>
<rect x="121.19" y="241.79" width="7.81" height="7.80" fill="#00b2ff" stroke="#00b2ff" stroke-width="0.6"/>
<rect x="136.81" y="241.79" width="7.81" height="7.80" fill="#00c2ff" stroke="#00c2ff" stroke-width="0.6"/>
<rect x="144.62" y="241.79" width="7.81" height="7.80" fill="#0019ff" stroke="#0019ff" stroke-width="0.6"/>
<rect x="152.42" y="241.79" width="7.81" height="7.80" fill="#0000ff" stroke="#0000ff" stroke-width="0.6"/>
<rect x="160.23" y="241.79" width="7.81" height="7.80" fill="#0000ff" stroke="#0000ff" stroke-width="0.6"/>
<rect x="168.04" y="241.79" width="7.81" height="7.80" fill="#004cff" stroke="#004cff" stroke-width="0.6"/>
<rect x="175.84" y="241.79" width="7.81" height="7.80" fill="#0000c2" stroke="#0000c2" stroke-width="0.6"/>
<rect x="183.65" y="241.79" width="7.81" height="7.80" fill="#0000c2" stroke="#0000c2" stroke-width="0.6"/>
<rect x="191.46" y="241.79" width="7.81" height="7.80" fill="#0000ff" stroke="#0000ff" stroke-width="0.6"/>
<rect x="199.27" y="241.79" width="7.81" height="7.80" fill="#0000ff" stroke="#0000ff" stroke-width="0.6"/>
<rect x="207.07" y="241.79" width="7.81" height="7.80" fill="#0000ff" stroke="#0000ff" stroke-width="0.6"/>
<rect x="214.88" y="241.79" width="7.81" height="7.80" fill="#0000ff" stroke="#0000ff" stroke-width="0.6"/>
<rect x="222.69" y="241.79" width="7.81" height="7.80" fill="#15ffe1" stroke="#15ffe1" stroke-width="0.6"/>
<rect x="230.49" y="241.79" width="7.81" height="7.80" fill="#ff8000" stroke="#ff8000" stroke-width="0.6"/>
<rect x="97.77" y="249.59" width="7.81" height="7.80" fill="#eaff0c" stroke="#eaff0c" stroke-width="0.6"/>
<rect x="105.58" y="249.59" width="7.81" height="7.80" fill="#00b2ff" stroke="#00b2ff" stroke-width="0.6"/>
<rect x="113.39" y="249.59" width="7.81" height="7.80" fill="#00b2ff" stroke="#00b2ff" stroke-width="0.6"/>
<rect x="121.19" y="249.59" width="7.81" height="7.80" fill="#008fff" stroke="#008fff" stroke-width="0.6"/>
<rect x="144.62" y="249.59" width="7.81" height="7.80" fill="#004cff" stroke="#004cff" stroke-width="0.6"/>
<rect x="152.42" y="249.59" width="7.81" height="7.80" fill="#0019ff" stroke="#0019ff" stroke-width="0.6"/>
<rect x="160.23" y="249.59" width="7.81" height="7.80" fill="#0000ff" stroke="#0000ff" stroke-width="0.6"/>
<rect x="168.04" y="249.59" width="7.81" height="7.80" fill="#0019ff" stroke="#0019ff" stroke-width="0.6"/>
<rect x="175.84" y="249.59" width="7.81" height="7.80" fill="#003dff" stroke="#003dff" stroke-width="0.6"/>
<rect x="183.65" y="249.59" width="7.81" height="7.80" fill="#0019ff" stroke="#0019ff" stroke-width="0.6"/>
<rect x="191.46" y="249.59" width="7.81" height="7.80" fill="#0019ff" stroke="#0019ff" stroke-width="0.6"/>
<rect x="199.27" y="249.59" width="7.81" height="7.80" fill="#0080ff" stroke="#0080ff" stroke-width="0.6"/>
<rect x="207.07" y="249.59" width="7.81" height="7.80" fill="#0000ff" stroke="#0000ff" stroke-width="0.6"/>
<rect x="214.88" y="249.59" width="7.81" height="7.80" fill="#0000cd" stroke="#0000cd" stroke-width="0.6"/>
<rect x="222.69" y="249.59" width="7.81" height="7.80" fill="#15ffe1" stroke="#15ffe1" stroke-width="0.6"/>
<rect x="230.49" y="249.59" width="7.81" height="7.80" fill="#aeff48" stroke="#aeff48" stroke-width="0.6"/>
<rect x="105.58" y="257.38" width="7.81" height="7.80" fill="#005cff" stroke="#005cff" stroke-width="0.6"/>
<rect x="113.39" y="257.38" width="7.81" height="7.80" fill="#004cff" stroke="#004cff" stroke-width="0.6"/>
<rect x="121.19" y="257.38" width="7.81" height="7.80" fill="#004cff" stroke="#004cff" stroke-width="0.6"/>
<rect x="144.62" y="257.38" width="7.81" height="7.80" fill="#0029ff" stroke="#0029ff" stroke-width="0.6"/>
<rect x="152.42" y="257.38" width="7.81" height="7.80" fill="#0019ff" stroke="#0019ff" stroke-width="0.6"/>
<rect x="160.23" y="257.38" width="7.81" height="7.80" fill="#0000ff" stroke="#0000ff" stroke-width="0.6"/>
<rect x="168.04" y="257.38" width="7.81" height="7.80" fill="#0019ff" stroke="#0019ff" stroke-width="0.6"/>
<rect x="175.84" y="257.38" width="7.81" height="7.80" fill="#0029ff" stroke="#0029ff" stroke-width="0.6"/>
<rect x="183.65" y="257.38" width="7.81" height="7.80" fill="#0019ff" stroke="#0019ff" stroke-width="0.6"/>
<rect x="191.46" y="257.38" width="7.81" height="7.80" fill="#004cff" stroke="#004cff" stroke-width="0.6"/>
<rect x="199.27" y="257.38" width="7.81" height="7.80" fill="#00c2ff" stroke="#00c2ff" stroke-width="0.6"/>
<rect x="207.07" y="257.38" width="7.81" height="7.80" fill="#00e5f7" stroke="#00e5f7" stroke-width="0.6"/>
<rect x="214.88" y="257.38" width="7.81" height="7.80" fill="#00c2ff" stroke="#00c2ff" stroke-width="0.6"/>
<rect x="222.69" y="257.38" width="7.81" height="7.80" fill="#005cff" stroke="#005cff" stroke-width="0.6"/>
<rect x="230.49" y="257.38" width="7.81" height="7.80" fill="#25ffd2" stroke="#25ffd2" stroke-width="0.6"/>
<rect x="144.62" y="265.18" width="7.81" height="7.80" fill="#0080ff" stroke="#0080ff" stroke-width="0.6"/>
<rect x="152.42" y="265.18" width="7.81" height="7.80" fill="#0029ff" stroke="#0029ff" stroke-width="0.6"/>
<rect x="160.23" y="265.18" width="7.81" height="7.80" fill="#0019ff" stroke="#0019ff" stroke-width="0.6"/>
<rect x="168.04" y="265.18" width="7.81" height="7.80" fill="#0019ff" stroke="#0019ff" stroke-width="0.6"/>
<rect x="175.84" y="265.18" width="7.81" height="7.80" fill="#00e5f7" stroke="#00e5f7" stroke-width="0.6"/>
<rect x="183.65" y="265.18" width="7.81" height="7.80" fill="#aeff48" stroke="#aeff48" stroke-width="0.6"/>
<rect x="191.46" y="265.18" width="7.81" height="7.80" fill="#aeff48" stroke="#aeff48" stroke-width="0.6"/>
<rect x="199.27" y="265.18" width="7.81" height="7.80" fill="#06edf0" stroke="#06edf0" stroke-width="0.6"/>
<rect x="207.07" y="265.18" width="7.81" height="7.80" fill="#00b2ff" stroke="#00b2ff" stroke-width="0.6"/>
<rect x="214.88" y="265.18" width="7.81" height="7.80" fill="#00b2ff" stroke="#00b2ff" stroke-width="0.6"/>
<rect x="222.69" y="265.18" width="7.81" height="7.80" fill="#0019ff" stroke="#0019ff" stroke-width="0.6"/>
<rect x="144.62" y="272.98" width="7.81" height="7.80" fill="#00d6ff" stroke="#00d6ff" stroke-width="0.6"/>
<rect x="152.42" y="272.98" width="7.81" height="7.80" fill="#0019ff" stroke="#0019ff" stroke-width="0.6"/>
<rect x="160.23" y="272.98" width="7.81" height="7.80" fill="#0029ff" stroke="#0029ff" stroke-width="0.6"/>
<rect x="168.04" y="272.98" width="7.81" height="7.80" fill="#0019ff" stroke="#0019ff" stroke-width="0.6"/>
<rect x="175.84" y="272.98" width="7.81" height="7.80" fill="#0080ff" stroke="#0080ff" stroke-width="0.6"/>
<rect x="183.65" y="272.98" width="7.81" height="7.80" fill="#00e5f7" stroke="#00e5f7" stroke-width="0.6"/>
<rect x="191.46" y="272.98" width="7.81" height="7.80" fill="#00c2ff" stroke="#00c2ff" stroke-width="0.6"/>
<rect x="199.27" y="272.98" width="7.81" height="7.80" fill="#15ffe1" stroke="#15ffe1" stroke-width="0.6"/>
<rect x="207.07" y="272.98" width="7.81" height="7.80" fill="#005cff" stroke="#005cff" stroke-width="0.6"/>
<rect x="214.88" y="272.98" width="7.81" height="7.80" fill="#005cff" stroke="#005cff" stroke-width="0.6"/>
<rect x="144.62" y="280.78" width="7.81" height="7.80" fill="#15ffe1" stroke="#15ffe1" stroke-width="0.6"/>
<rect x="152.42" y="280.78" width="7.81" height="7.80" fill="#15ffe1" stroke="#15ffe1" stroke-width="0.6"/>
<rect x="160.23" y="280.78" width="7.81" height="7.80" fill="#00e5f7" stroke="#00e5f7" stroke-width="0.6"/>
<rect x="168.04" y="280.78" width="7.81" height="7.80" fill="#7bff7b" stroke="#7bff7b" stroke-width="0.6"/>
<rect x="175.84" y="280.78" width="7.81" height="7.80" fill="#0080ff" stroke="#0080ff" stroke-width="0.6"/>
<rect x="183.65" y="280.78" width="7.81" height="7.80" fill="#004cff" stroke="#004cff" stroke-width="0.6"/>
<rect x="191.46" y="280.78" width="7.81" height="7.80" fill="#004cff" stroke="#004cff" stroke-width="0.6"/>
<rect x="144.62" y="288.58" width="7.81" height="7.80" fill="#15ffe1" stroke="#15ffe1" stroke-width="0.6"/>
<rect x="152.42" y="288.58" width="7.81" height="7.80" fill="#15ffe1" stroke="#15ffe1" stroke-width="0.6"/>
<rect x="160.23" y="288.58" width="7.81" height="7.80" fill="#00b2ff" stroke="#00b2ff" stroke-width="0.6"/>
<rect x="168.04" y="288.58" width="7.81" height="7.80" fill="#7bff7b" stroke="#7bff7b" stroke-width="0.6"/>
<rect x="175.84" y="288.58" width="7.81" height="7.80" fill="#004cff" stroke="#004cff" stroke-width="0.6"/>
<rect x="183.65" y="288.58" width="7.81" height="7.80" fill="#0029ff" stroke="#0029ff" stroke-width="0.6"/>
<rect x="191.46" y="288.58" width="7.81" height="7.80" fill="#008fff" stroke="#008fff" stroke-width="0.6"/>
<rect x="168.04" y="296.38" width="7.81" height="7.80" fill="#8bff6c" stroke="#8bff6c" stroke-width="0.6"/>
<rect x="175.84" y="296.38" width="7.81" height="7.80" fill="#0019ff" stroke="#0019ff" stroke-width="0.6"/>
<rect x="183.65" y="296.38" width="7.81" height="7.80" fill="#0019ff" stroke="#0019ff" stroke-width="0.6"/>
<rect x="191.46" y="296.38" width="7.81" height="7.80" fill="#0000ff" stroke="#0000ff" stroke-width="0.6"/>
<rect x="207.07" y="296.38" width="7.81" height="7.80" fill="#0070ff" stroke="#0070ff" stroke-width="0.6"/>
<rect x="214.88" y="296.38" width="7.81" height="7.80" fill="#0080ff" stroke="#0080ff" stroke-width="0.6"/>
<rect x="222.69" y="296.38" width="7.81" height="7.80" fill="#008fff" stroke="#008fff" stroke-width="0.6"/>
<rect x="168.04" y="304.17" width="7.81" height="7.80" fill="#ffe100" stroke="#ffe100" stroke-width="0.6"/>
<rect x="175.84" y="304.17" width="7.81" height="7.80" fill="#15ffe1" stroke="#15ffe1" stroke-width="0.6"/>
<rect x="183.65" y="304.17" width="7.81" height="7.80" fill="#004cff" stroke="#004cff" stroke-width="0.6"/>
<rect x="207.07" y="304.17" width="7.81" height="7.80" fill="#25ffd2" stroke="#25ffd2" stroke-width="0.6"/>
<rect x="214.88" y="304.17" width="7.81" height="7.80" fill="#25ffd2" stroke="#25ffd2" stroke-width="0.6"/>
<rect x="222.69" y="304.17" width="7.81" height="7.80" fill="#004cff" stroke="#004cff" stroke-width="0.6"/>
<rect x="230.49" y="304.17" width="7.81" height="7.80" fill="#004cff" stroke="#004cff" stroke-width="0.6"/>
<rect x="238.30" y="304.17" width="7.81" height="7.80" fill="#008fff" stroke="#008fff" stroke-width="0.6"/>
<rect x="183.65" y="311.97" width="7.81" height="7.80" fill="#0000ff" stroke="#0000ff" stroke-width="0.6"/>
<rect x="214.88" y="311.97" width="7.81" height="7.80" fill="#15ffe1" stroke="#15ffe1" stroke-width="0.6"/>
<rect x="222.69" y="311.97" width="7.81" height="7.80" fill="#005cff" stroke="#005cff" stroke-width="0.6"/>
<rect x="230.49" y="311.97" width="7.81" height="7.80" fill="#004cff" stroke="#004cff" stroke-width="0.6"/>
<rect x="238.30" y="311.97" width="7.81" height="7.80" fill="#00c2ff" stroke="#00c2ff" stroke-width="0.6"/>
<rect x="222.69" y="319.77" width="7.81" height="7.80" fill="#0070ff" stroke="#0070ff" stroke-width="0.6"/>
<rect x="230.49" y="319.77" width="7.81" height="7.80" fill="#00b2ff" stroke="#00b2ff" stroke-width="0.6"/>
<g transform="translate(-0.6,0)">
<path d="M228.8 58.4 L226.6 59.2 L224.5 60.1 L222.7 61.9 L221.0 63.7 L219.5 66.2 L218.3 68.9 L215.8 70.4 L213.1 71.5 L210.8 71.8 L208.5 72.3 L206.1 72.4 L203.8 73.3 L201.4 73.8 L199.1 74.7 L196.7 75.7 L194.3 76.7 L192.0 77.7 L190.4 79.3 L188.9 81.0 L187.7 82.9 L186.6 84.7 L185.4 86.4 L184.4 88.1 L183.3 89.9 L182.4 92.0 L181.4 94.0 L180.7 96.1 L179.6 98.1 L178.5 100.0 L177.4 102.0 L176.3 103.9 L174.3 105.4 L172.8 107.4 L171.2 108.9 L169.5 110.3 L167.9 111.8 L166.6 113.6 L165.6 115.8 L164.2 117.9 L163.1 120.1 L161.6 121.6 L160.4 123.4 L159.5 125.4 L158.0 127.0 L156.9 128.8 L155.4 130.4 L154.0 132.0 L153.1 134.2 L151.8 136.2 L150.7 138.3 L149.2 140.1 L148.1 142.2 L146.7 143.9 L145.4 145.7 L144.5 147.8 L142.9 149.4 L141.8 151.3 L140.6 153.0 L139.8 154.9 L138.5 156.5 L137.2 158.1 L136.0 159.8 L135.2 161.7 L134.0 163.4 L132.4 164.6 L131.3 166.3 L129.6 167.2 L131.6 168.9 L128.1 169.6 L126.5 171.3 L124.8 172.8 L123.5 174.8 L122.2 176.8 L122.5 178.9 L123.5 180.7 L122.2 183.9 L121.0 186.5 L120.2 189.2 L120.1 191.8 L119.6 194.4 L119.0 196.4 L118.3 198.3 L116.3 199.8 L114.4 201.5 L112.4 202.9 L114.3 200.8 L116.5 199.0 L118.1 200.9 L119.3 203.0 L120.9 204.8 L120.8 207.1 L120.0 209.2 L119.6 211.4 L119.0 213.6 L118.6 215.8 L117.6 217.9 L116.8 220.5 L115.7 223.1 L114.3 225.7 L113.1 228.3 L112.4 232.2 L114.0 233.6 L115.7 234.9 L117.8 235.9 L119.6 237.5 L120.6 239.6 L122.2 241.4 L123.2 245.0 L124.1 247.1 L125.0 249.1 L126.6 250.8 L127.5 252.8 L128.4 254.9 L129.6 256.8 L130.0 259.0 L131.0 260.9 L130.7 263.5 L130.1 266.0 L131.5 267.9 L132.5 270.0 L133.6 272.0 L135.3 273.7 L137.2 275.6 L139.5 277.1 L141.9 278.6 L144.6 279.7 L147.3 280.8 L149.8 282.2 L151.9 283.2 L153.7 284.8 L155.8 285.7 L157.5 287.8 L159.2 289.9 L159.9 292.2 L161.1 294.4 L161.7 296.8 L162.7 298.7 L163.0 300.8 L163.8 302.7 L164.3 304.7 L165.0 306.6 L165.1 308.7 L164.4 310.6 L164.1 312.7 L163.8 314.7 L164.2 316.9 L165.1 319.0 L166.9 322.4 L168.4 320.9 L170.3 319.8 L173.7 320.7 L176.2 322.4 L178.0 323.2 L178.6 320.7 L178.8 318.1 L178.8 316.1 L179.7 314.1 L179.7 312.1 L179.6 310.0 L179.4 308.0 L179.5 305.9 L179.7 303.8 L179.2 301.7 L179.0 299.7 L179.2 297.6 L179.5 295.6 L179.5 293.5 L179.7 291.4 L180.0 289.4 L180.5 287.4 L181.1 285.0 L182.0 282.7 L183.1 280.5 L183.8 278.3 L184.7 276.2 L185.8 274.2 L186.5 272.0 L187.3 270.0 L188.4 268.2 L189.3 266.3 L190.7 264.6 L192.4 263.1 L193.8 261.4 L195.4 259.9 L196.9 258.2 L198.7 256.9 L200.2 255.4 L201.4 253.7 L202.6 252.0 L204.1 250.5 L205.6 249.1 L206.5 247.1 L208.1 245.7 L209.4 243.8 L210.3 241.7 L211.4 239.8 L212.8 237.9 L213.6 235.8 L214.8 233.9 L216.2 232.4 L217.7 230.9 L219.2 229.6 L220.4 227.8 L220.1 225.5 L220.3 223.2 L219.9 220.9 L221.0 219.2 L222.0 217.3 L222.8 215.5 L223.8 213.6 L224.9 211.9 L225.1 209.7 L225.7 207.6 L226.2 205.4 L227.2 203.4 L227.4 201.1 L227.9 199.0 L228.7 196.9 L228.8 194.7 L229.8 192.7 L230.2 190.5 L230.5 188.4 L230.7 186.2 L231.1 184.0 L231.7 181.9 L232.0 179.9 L232.5 177.9 L232.8 175.9 L233.4 174.0 L233.7 171.9 L234.3 170.0 L235.0 167.5 L235.4 165.0 L235.5 162.4 L237.1 160.5 L238.7 158.6 L237.1 156.9 L235.8 154.9 L236.1 152.5 L238.1 151.3 L239.6 149.6 L239.3 146.7 L240.5 143.8 L242.5 142.1 L244.5 140.6 L246.6 139.1 L247.3 136.9 L248.7 135.0 L248.9 132.2 L249.3 129.5 L250.5 127.6 L251.8 125.7 L253.0 123.8 L253.9 121.8 L255.1 120.1 L255.4 117.9 L255.4 115.7 L256.0 113.6 L254.9 111.0 L254.2 108.3 L253.1 105.8 L252.5 103.1 L252.2 100.5 L252.0 97.8 L252.4 95.1 L253.4 92.6 L254.4 90.2 L256.0 88.2 L258.1 86.3 L260.4 84.7 L263.0 83.4 L266.0 82.0 L265.6 80.6 L262.1 79.4 L260.7 76.8 L260.2 74.4 L260.0 71.9 L256.9 72.4 L254.3 71.7 L251.6 71.2 L249.0 70.0 L246.4 68.9 L244.3 67.4 L242.0 66.3 L238.5 64.5 L237.7 62.6 L236.7 60.7 L235.0 59.4 L233.2 58.4 L231.0 58.1Z M88.1 3.7 L88.2 5.1 L87.2 6.2 L87.1 7.6 L86.3 8.7 L85.7 10.2 L84.4 11.1 L83.3 11.9 L81.9 11.2 L80.7 11.7 L80.5 13.5 L79.5 14.8 L77.6 14.2 L78.2 15.7 L78.2 17.3 L80.1 18.5 L80.2 19.8 L79.6 21.0 L80.6 22.3 L80.1 23.5 L79.7 24.7 L79.2 25.9 L78.8 27.2 L77.6 27.8 L77.0 29.1 L76.0 27.8 L74.5 27.2 L73.2 27.0 L72.1 27.9 L70.8 27.8 L69.8 28.7 L68.8 29.6 L67.7 30.3 L67.9 31.7 L68.5 33.0 L69.6 34.0 L70.6 35.1 L70.8 36.5 L71.9 35.5 L73.3 35.2 L74.3 34.1 L75.7 33.4 L77.2 34.4 L78.2 35.9 L78.4 37.1 L78.5 38.3 L78.8 39.6 L79.7 40.5 L80.6 41.3 L80.7 42.7 L81.9 41.7 L83.2 40.8 L83.6 39.5 L84.5 38.4 L85.0 37.1 L85.4 35.8 L84.8 34.6 L84.4 33.4 L83.2 32.1 L81.9 30.9 L80.8 29.6 L79.5 28.4 L78.8 27.2 M79.5 28.4 L80.7 28.8 L82.0 28.2 L83.1 29.4 L84.4 29.1 L85.5 29.8 L86.7 30.3 L88.1 30.3 L89.4 30.4 L90.6 29.8 L91.8 29.7 L92.7 30.6 L93.8 31.4 L94.3 32.8 L95.2 33.5 L96.6 33.6 L97.4 34.6 L98.7 34.3 L99.9 34.7 L101.1 35.2 L101.7 37.1 L100.8 38.6 L99.2 39.6 L99.0 40.9 L98.9 42.2 L98.0 43.3 L97.2 44.9 L95.5 45.7 L94.5 46.7 L93.1 47.0 L92.6 48.3 L91.5 49.1 L90.6 50.1 L89.0 49.6 L88.1 48.2 L87.1 47.2 L85.6 47.0 L85.1 45.7 L84.4 44.5 L83.6 43.4 L83.3 42.1 L83.2 40.8 M54.7 39.6 L54.3 40.9 L53.6 42.1 L52.9 43.3 L51.7 44.0 L50.3 43.5 L49.0 43.6 L47.9 44.5 L46.7 45.3 L45.5 46.1 L44.5 47.3 L43.0 47.6 L42.8 49.3 L41.7 50.7 L42.9 51.4 L44.0 52.1 L44.8 53.2 L45.8 54.4 L47.3 55.0 L48.1 56.4 L48.7 57.8 L48.5 59.4 L49.9 59.2 L50.6 58.1 L51.6 57.5 L52.5 56.5 L53.7 56.3 L54.7 55.6 L56.1 56.0 L56.8 57.3 L57.8 58.1 L58.7 59.8 L60.3 60.6 L59.3 61.6 L59.1 63.1 L57.5 63.2 L56.3 64.2 L54.7 64.3 L54.3 65.9 L53.5 67.4 L52.3 67.9 L51.0 67.4 L49.8 67.8 L48.5 68.0 L47.4 67.5 L46.0 67.8 L44.8 67.4 L43.8 66.6 L43.5 65.1 L42.4 64.3 L40.9 64.4 L39.9 65.5 L38.8 64.5 L37.4 64.3 L36.5 65.1 L35.9 66.2 L35.6 67.4 L34.4 68.1 L33.7 69.2 L35.2 70.2 L36.2 71.7 L37.4 71.1 L38.7 70.5 L39.9 70.1 L41.0 69.5 L42.4 69.9 L43.9 70.3 L44.8 71.7 L43.8 73.1 L42.4 74.2 L40.9 75.1 L39.3 75.4 L38.5 74.0 L37.4 73.0 L35.9 73.1 L34.9 74.2 L34.4 75.5 L33.2 76.4 L33.1 77.9 L31.9 78.9 L31.7 80.4 M54.7 39.6 L54.0 40.7 L54.5 42.1 L54.4 43.3 L54.2 44.6 L54.1 45.8 L53.5 47.0 L54.7 47.3 L55.5 48.4 L56.6 48.8 L57.4 47.6 L57.6 46.1 L57.5 44.7 L57.8 43.3 L58.6 42.3 L59.4 41.4 L59.7 40.2 L61.1 40.4 L62.1 41.6 L63.4 42.0 L64.7 43.1 L66.5 43.3 L65.8 44.8 L65.9 46.4 L67.0 47.1 L68.3 47.2 L69.6 47.6 L70.5 48.4 L70.5 49.8 L71.4 50.7 L71.9 49.6 L73.0 48.8 L73.3 47.6 L75.0 47.5 L76.4 46.4 L77.1 47.9 L77.6 49.5 L77.5 50.7 L76.7 51.8 L77.0 53.2 L78.1 54.3 L79.5 55.0 L80.3 54.1 L81.3 53.4 L82.6 53.2 L82.6 51.8 L83.8 50.8 L83.8 49.5 L83.5 47.8 L82.6 46.4 M67.1 61.8 L68.1 60.8 L69.6 60.6 L70.5 62.1 L72.0 63.1 L73.4 64.2 L75.1 64.3 L76.2 65.7 L77.6 66.8 L76.1 67.3 L74.5 67.4 L73.5 68.3 L72.7 69.2 L71.4 68.8 L70.2 68.0 L69.6 66.8 L68.7 65.4 L67.1 64.9 L67.3 63.4 L67.1 61.8 M86.9 53.2 L88.1 55.0 L87.2 56.2 L86.3 57.5 L86.1 56.0 L85.0 55.0 L85.9 54.0 L86.9 53.2 M57.2 4.9 L58.2 6.0 L59.7 6.2 L61.5 5.9 M65.2 4.9 L67.1 5.6 L68.6 4.5 M104.2 5.6 L105.1 6.5 L106.4 6.8 L108.1 6.4 L106.9 7.7 M66.5 82.2 L67.9 82.5 L68.9 83.3 M40.5 74.8 L42.4 76.0 L42.3 77.6 L41.7 79.1 L39.6 78.5 L39.7 77.2 L39.9 76.0 L40.5 74.8 M31.7 59.4 L33.0 60.1 L34.3 60.6 L34.0 62.2 L33.1 63.7 L31.7 64.3 M31.7 74.2 L33.7 75.4 L33.4 76.7 L33.3 78.0 L32.5 79.1 M31.7 84.1 L33.7 85.3 L32.2 87.2 M96.8 35.9 L98.2 36.6 L99.9 36.5 L99.2 38.3 L97.4 37.7 L96.8 35.9 M92.4 43.3 L94.3 44.5 M89.4 58.1 L91.2 59.1 M70.8 58.1 L71.9 58.9 L72.7 60.0 M75.7 61.2 L77.6 62.4 M80.7 61.8 L82.6 63.3 M84.4 29.1 L84.9 30.1 L85.3 31.3 L85.9 32.4 L85.0 34.0 L85.1 35.9 L85.9 37.0 L86.0 38.4 L87.1 39.3 L86.5 40.7 L85.9 42.0 L85.1 43.3 L84.4 44.5 M88.1 30.3 L88.8 31.4 L89.6 32.4 L89.3 33.8 L88.1 34.6 L89.2 35.6 L90.1 36.6 L89.1 38.6 M91.8 29.7 L93.3 28.2 L95.3 29.2 L96.8 29.7 M97.4 34.6 L99.2 33.1 L100.5 33.9 L101.1 35.2 M99.2 39.6 L101.0 40.8 L100.0 42.5 L98.0 43.3 M95.5 45.7 L97.0 47.5 L95.3 48.5 L93.3 47.7 M78.8 39.6 L77.0 41.1 L78.2 42.0 L78.5 43.5 L80.7 42.7 M70.8 36.5 L69.3 37.1 L70.2 35.2 M74.5 27.2 L73.7 28.2 L73.5 29.4 L75.3 30.9 L75.8 29.7 L77.0 29.1 M47.3 55.0 L45.8 55.9 L47.3 57.5 L48.5 59.4 M44.8 53.2 L45.9 52.6 L47.1 52.2 L48.8 53.7 M57.8 58.1 L59.4 57.1 L59.6 58.9 L60.3 60.6 M65.9 46.4 L66.4 47.6 L67.1 48.8 L69.3 49.5 L69.6 47.6 M73.3 47.6 L74.3 49.7 L73.0 51.7 L71.4 50.7 M82.6 46.4 L84.4 47.0 L85.4 45.5 M86.3 57.5 L88.1 58.1 L88.9 56.3 M59.2 47.7 L60.9 48.5 L62.4 47.0 L60.9 46.0 L60.2 47.0 L59.2 47.7 M68.3 53.2 L69.8 54.4 L69.1 56.3 L67.7 55.0 L68.3 53.2 M47.3 59.4 L48.8 60.8 L50.4 60.1 M74.9 185.2 L77.9 185.6 L79.1 187.8 L78.7 190.5 L81.7 190.1 L84.4 190.9 L85.9 193.5 L84.0 194.6 L81.7 195.0 L80.2 196.9 L77.9 198.0 L75.7 197.3 L74.2 195.4 L76.1 193.9 L75.3 192.0 L76.8 190.5 L76.4 187.8 L74.9 187.1 L74.2 185.6Z M73.8 187.1 L71.9 186.3 L70.8 189.0 L70.0 192.4 L70.8 193.9 L72.3 192.0 L72.7 189.0 L73.8 187.1 M78.3 179.2 L80.2 178.8 L80.6 180.1 L78.7 180.7Z M82.1 186.2 L83.2 186.0 L83.1 186.9Z M68.1 193.5 L69.0 193.4 L68.9 194.3Z M71.5 198.0 L73.8 199.3 L71.5 200.3Z M75.3 195.2 L77.6 194.8 L77.9 196.3 L76.1 196.5Z M69.5 207.5 L71.5 207.5 L71.9 209.0 L73.8 209.0 L71.9 210.1 L69.6 210.3Z M56.2 206.0 L57.4 206.1 L56.8 206.9Z M70.8 216.4 L72.3 217.3 L71.9 218.1Z M78.9 218.1 L80.2 218.2 L79.6 218.8Z M83.2 217.3 L84.7 217.4 L84.4 218.7 L83.4 218.4Z M63.6 220.7 L66.2 220.3 L66.6 221.8 L65.1 223.3 L64.0 222.2Z M140.1 289.0 L139.2 290.1 L137.7 290.2 L137.1 289.0 L137.7 287.8 L139.2 287.9Z M226.5 264.5 L226.2 266.8 L224.5 266.0 L223.1 264.5 L224.5 263.0 L226.2 262.2Z M226.1 309.5 L231.7 309.5 L232.6 312.3 L234.8 314.2 L234.5 315.7 L233.2 316.3 L231.1 314.8 L228.9 314.2 L227.4 312.3Z M233.2 333.5 L232.7 333.9 L232.2 333.5 L232.7 332.9Z M262.4 387.0 L262.0 387.5 L261.4 387.0 L262.0 386.5Z M262.2 93.2 L261.8 94.0 L260.9 93.5 L260.7 92.7 L261.8 92.5Z M272.7 32.7 L272.0 33.3 L271.5 32.7 L272.0 32.1Z M235.9 319.7 L235.1 320.4 L234.5 319.7 L235.1 319.2Z M344.4 122.3 L342.3 123.2 L343.0 124.6 L344.4 124.6 M218.3 68.9 L221.8 68.2 L223.5 70.8 M225.0 73.8 L224.5 74.3 L223.6 73.8 L224.5 73.3Z M124.2 186.0 L121.6 187.0 L124.1 188.0 L120.0 189.1 L122.2 190.4 L119.7 191.6 L122.9 192.5 L119.5 194.0 L123.0 195.1 L119.3 196.6 L123.0 197.8 L119.3 198.7 L121.3 199.8 L119.4 200.8 L122.4 202.3 L121.0 203.6 L124.3 204.8 L120.5 205.7 L124.3 206.8 L120.4 208.0 L123.2 209.3 L120.5 210.4 L122.1 211.8 L119.5 213.1 L122.5 214.6 L119.3 215.7 L121.1 216.7 L117.4 218.1 L119.2 219.3 L117.3 220.7 M118.5 222.0 L115.9 223.5 L116.6 225.1 L114.4 226.7 L114.8 228.6 L112.6 230.4 L114.4 232.1 L115.2 234.1 L118.3 235.6 M129.1 172.2 L128.1 172.9 L126.9 173.3 L126.7 172.2 L126.9 171.1 L128.1 171.5Z M125.0 178.6 L124.8 180.3 L123.5 179.6 L122.4 178.6 L123.5 177.6 L124.8 176.9Z M123.7 187.0 L123.3 188.5 L122.3 188.3 L121.7 187.0 L122.3 185.7 L123.3 185.5Z M118.3 198.3 L115.0 200.5 L112.4 202.9 L113.5 204.3 L116.3 202.0 L118.7 200.2" fill="none" stroke="#000" stroke-width="0.75" stroke-linejoin="round"/>
<circle cx="60.3" cy="71.7" r="0.6" fill="#000"/><circle cx="104.2" cy="47.6" r="0.6" fill="#000"/><circle cx="90.0" cy="42.0" r="0.6" fill="#000"/><circle cx="90.3" cy="42.5" r="0.6" fill="#000"/><circle cx="84.4" cy="22.3" r="0.6" fill="#000"/><circle cx="78.8" cy="43.3" r="0.6" fill="#000"/><circle cx="48.5" cy="58.1" r="0.6" fill="#000"/><circle cx="51.0" cy="54.4" r="0.6" fill="#000"/><circle cx="94.3" cy="41.4" r="0.6" fill="#000"/><circle cx="88.1" cy="26.0" r="0.6" fill="#000"/><circle cx="59.1" cy="36.5" r="0.6" fill="#000"/><circle cx="62.8" cy="61.2" r="0.6" fill="#000"/><circle cx="83.2" cy="61.2" r="0.6" fill="#000"/><circle cx="96.8" cy="43.9" r="0.6" fill="#000"/>
</g></g>
<path d="M244.3 147.5 L245.4 150.8 L248.9 150.8 L246.0 152.9 L247.1 156.2 L244.3 154.1 L241.5 156.2 L242.6 152.9 L239.7 150.8 L243.2 150.8Z" fill="none" stroke="#f00808" stroke-width="0.95"/>
<rect x="31.56" y="3.6" width="312.29" height="389.9" fill="none" stroke="#7a7a7a" stroke-width="1"/>
<line x1="31.6" y1="393.5" x2="31.6" y2="396.7" stroke="#333" stroke-width="0.8"/>
<line x1="70.6" y1="393.5" x2="70.6" y2="396.7" stroke="#333" stroke-width="0.8"/>
<line x1="109.6" y1="393.5" x2="109.6" y2="396.7" stroke="#333" stroke-width="0.8"/>
<line x1="148.7" y1="393.5" x2="148.7" y2="396.7" stroke="#333" stroke-width="0.8"/>
<line x1="187.7" y1="393.5" x2="187.7" y2="396.7" stroke="#333" stroke-width="0.8"/>
<line x1="226.7" y1="393.5" x2="226.7" y2="396.7" stroke="#333" stroke-width="0.8"/>
<line x1="265.8" y1="393.5" x2="265.8" y2="396.7" stroke="#333" stroke-width="0.8"/>
<line x1="304.8" y1="393.5" x2="304.8" y2="396.7" stroke="#333" stroke-width="0.8"/>
<line x1="343.9" y1="393.5" x2="343.9" y2="396.7" stroke="#333" stroke-width="0.8"/>
<line x1="28.36" y1="3.6" x2="31.56" y2="3.6" stroke="#333" stroke-width="0.8"/>
<line x1="28.36" y1="81.6" x2="31.56" y2="81.6" stroke="#333" stroke-width="0.8"/>
<line x1="28.36" y1="159.6" x2="31.56" y2="159.6" stroke="#333" stroke-width="0.8"/>
<line x1="28.36" y1="237.5" x2="31.56" y2="237.5" stroke="#333" stroke-width="0.8"/>
<line x1="28.36" y1="315.5" x2="31.56" y2="315.5" stroke="#333" stroke-width="0.8"/>
<line x1="28.36" y1="393.5" x2="31.56" y2="393.5" stroke="#333" stroke-width="0.8"/>
<text x="39.6" y="18.7" font-size="14" text-anchor="start" font-weight="bold" >(b)</text>
<text x="187.7" y="18.5" font-size="14" text-anchor="middle" font-weight="normal" >Standard Deviation</text>
<linearGradient id="jetb" x1="0" y1="0" x2="0" y2="1"><stop offset="0.000" stop-color="#800000"/><stop offset="0.025" stop-color="#9c0000"/><stop offset="0.050" stop-color="#b90000"/><stop offset="0.075" stop-color="#d60000"/><stop offset="0.100" stop-color="#f30900"/><stop offset="0.125" stop-color="#ff2100"/><stop offset="0.150" stop-color="#ff3900"/><stop offset="0.175" stop-color="#ff5000"/><stop offset="0.200" stop-color="#ff6800"/><stop offset="0.225" stop-color="#ff8000"/><stop offset="0.250" stop-color="#ff9700"/><stop offset="0.275" stop-color="#ffaf00"/><stop offset="0.300" stop-color="#ffc600"/><stop offset="0.325" stop-color="#ffde00"/><stop offset="0.350" stop-color="#f7f600"/><stop offset="0.375" stop-color="#e2ff15"/><stop offset="0.400" stop-color="#ceff29"/><stop offset="0.425" stop-color="#b9ff3e"/><stop offset="0.450" stop-color="#a5ff52"/><stop offset="0.475" stop-color="#90ff67"/><stop offset="0.500" stop-color="#7bff7b"/><stop offset="0.525" stop-color="#67ff90"/><stop offset="0.550" stop-color="#52ffa5"/><stop offset="0.575" stop-color="#3effb9"/><stop offset="0.600" stop-color="#29ffce"/><stop offset="0.625" stop-color="#15ffe2"/><stop offset="0.650" stop-color="#00e5f7"/><stop offset="0.675" stop-color="#00ccff"/><stop offset="0.700" stop-color="#00b3ff"/><stop offset="0.725" stop-color="#0099ff"/><stop offset="0.750" stop-color="#0080ff"/><stop offset="0.775" stop-color="#0066ff"/><stop offset="0.800" stop-color="#004cff"/><stop offset="0.825" stop-color="#0033ff"/><stop offset="0.850" stop-color="#001aff"/><stop offset="0.875" stop-color="#0000ff"/><stop offset="0.900" stop-color="#0000f3"/><stop offset="0.925" stop-color="#0000d6"/><stop offset="0.950" stop-color="#0000b9"/><stop offset="0.975" stop-color="#00009c"/><stop offset="1.000" stop-color="#000080"/></linearGradient>
<rect x="292.4" y="237.8" width="12.900000000000034" height="142.8" fill="url(#jetb)" stroke="#555" stroke-width="0.6"/>
<line x1="305.3" y1="380.6" x2="308.3" y2="380.6" stroke="#333" stroke-width="0.8"/>
<text x="311.0" y="384.5" font-size="10.4" text-anchor="start" font-weight="normal" >0.000</text>
<line x1="305.3" y1="356.8" x2="308.3" y2="356.8" stroke="#333" stroke-width="0.8"/>
<text x="311.0" y="360.7" font-size="10.4" text-anchor="start" font-weight="normal" >0.025</text>
<line x1="305.3" y1="333.0" x2="308.3" y2="333.0" stroke="#333" stroke-width="0.8"/>
<text x="311.0" y="336.9" font-size="10.4" text-anchor="start" font-weight="normal" >0.050</text>
<line x1="305.3" y1="309.2" x2="308.3" y2="309.2" stroke="#333" stroke-width="0.8"/>
<text x="311.0" y="313.1" font-size="10.4" text-anchor="start" font-weight="normal" >0.075</text>
<line x1="305.3" y1="285.4" x2="308.3" y2="285.4" stroke="#333" stroke-width="0.8"/>
<text x="311.0" y="289.3" font-size="10.4" text-anchor="start" font-weight="normal" >0.100</text>
<line x1="305.3" y1="261.6" x2="308.3" y2="261.6" stroke="#333" stroke-width="0.8"/>
<text x="311.0" y="265.5" font-size="10.4" text-anchor="start" font-weight="normal" >0.125</text>
<line x1="305.3" y1="237.8" x2="308.3" y2="237.8" stroke="#333" stroke-width="0.8"/>
<text x="311.0" y="241.7" font-size="10.4" text-anchor="start" font-weight="normal" >0.150</text>
<text x="298.9" y="230.3" font-size="12.35" text-anchor="middle" font-weight="normal" ><tspan font-style="italic">σ</tspan></text>
<rect x="37.3" y="369.3" width="246.9" height="18.9" rx="2" ry="2" fill="#fff" fill-opacity="0.8" stroke="#cfcfcf" stroke-width="1"/>
<path d="M52.7 373.9 L53.8 377.4 L57.5 377.4 L54.5 379.5 L55.6 382.9 L52.7 380.8 L49.8 382.9 L50.9 379.5 L47.9 377.4 L51.6 377.4Z" fill="none" stroke="#ff0000" stroke-width="1.0"/>
<text x="72.6" y="382.3" font-size="10.9" text-anchor="start" font-weight="normal" >Epicenter of 2018 Hualien earthquake</text>

</g>
<rect x="202.3" y="479.6" width="312.3" height="215.79999999999995" fill="#fff"/>
<clipPath id="clipc"><rect x="202.3" y="479.6" width="312.3" height="215.79999999999995"/></clipPath>
<g clip-path="url(#clipc)">
<circle cx="216.25" cy="533.13" r="2.7" fill="#1f77b4"/>
<circle cx="221.23" cy="533.15" r="2.7" fill="#1f77b4"/>
<circle cx="226.20" cy="533.18" r="2.7" fill="#1f77b4"/>
<circle cx="231.18" cy="533.30" r="2.7" fill="#1f77b4"/>
<circle cx="236.15" cy="533.40" r="2.7" fill="#1f77b4"/>
<circle cx="241.12" cy="533.52" r="2.7" fill="#1f77b4"/>
<circle cx="246.10" cy="533.73" r="2.7" fill="#1f77b4"/>
<circle cx="251.08" cy="534.23" r="2.7" fill="#1f77b4"/>
<circle cx="256.05" cy="534.98" r="2.7" fill="#1f77b4"/>
<circle cx="261.03" cy="535.91" r="2.7" fill="#1f77b4"/>
<circle cx="266.00" cy="537.62" r="2.7" fill="#1f77b4"/>
<circle cx="270.98" cy="539.64" r="2.7" fill="#1f77b4"/>
<circle cx="275.95" cy="541.56" r="2.7" fill="#1f77b4"/>
<circle cx="280.93" cy="543.87" r="2.7" fill="#1f77b4"/>
<circle cx="285.90" cy="546.34" r="2.7" fill="#1f77b4"/>
<circle cx="290.88" cy="549.52" r="2.7" fill="#1f77b4"/>
<circle cx="295.85" cy="552.25" r="2.7" fill="#1f77b4"/>
<circle cx="300.82" cy="555.48" r="2.7" fill="#1f77b4"/>
<circle cx="305.80" cy="558.71" r="2.7" fill="#1f77b4"/>
<circle cx="310.78" cy="561.35" r="2.7" fill="#1f77b4"/>
<circle cx="315.75" cy="564.35" r="2.7" fill="#1f77b4"/>
<circle cx="320.73" cy="566.90" r="2.7" fill="#1f77b4"/>
<circle cx="325.70" cy="569.88" r="2.7" fill="#1f77b4"/>
<circle cx="330.68" cy="572.66" r="2.7" fill="#1f77b4"/>
<circle cx="335.65" cy="575.73" r="2.7" fill="#1f77b4"/>
<circle cx="340.62" cy="578.82" r="2.7" fill="#1f77b4"/>
<circle cx="345.60" cy="581.59" r="2.7" fill="#1f77b4"/>
<circle cx="350.58" cy="584.77" r="2.7" fill="#1f77b4"/>
<circle cx="355.55" cy="587.91" r="2.7" fill="#1f77b4"/>
<circle cx="360.52" cy="591.99" r="2.7" fill="#1f77b4"/>
<circle cx="365.50" cy="595.99" r="2.7" fill="#1f77b4"/>
<circle cx="370.48" cy="599.28" r="2.7" fill="#1f77b4"/>
<circle cx="375.45" cy="601.96" r="2.7" fill="#1f77b4"/>
<circle cx="380.43" cy="605.75" r="2.7" fill="#1f77b4"/>
<circle cx="385.40" cy="609.39" r="2.7" fill="#1f77b4"/>
<circle cx="390.38" cy="611.97" r="2.7" fill="#1f77b4"/>
<circle cx="395.35" cy="616.47" r="2.7" fill="#1f77b4"/>
<circle cx="400.33" cy="618.53" r="2.7" fill="#1f77b4"/>
<circle cx="405.30" cy="620.37" r="2.7" fill="#1f77b4"/>
<circle cx="410.27" cy="622.40" r="2.7" fill="#1f77b4"/>
<circle cx="415.25" cy="624.08" r="2.7" fill="#1f77b4"/>
<circle cx="420.23" cy="631.98" r="2.7" fill="#1f77b4"/>
<circle cx="430.18" cy="637.08" r="2.7" fill="#1f77b4"/>
<circle cx="435.15" cy="639.59" r="2.7" fill="#1f77b4"/>
<circle cx="440.12" cy="644.11" r="2.7" fill="#1f77b4"/>
<circle cx="445.10" cy="645.90" r="2.7" fill="#1f77b4"/>
<circle cx="450.08" cy="650.09" r="2.7" fill="#1f77b4"/>
<circle cx="455.05" cy="652.59" r="2.7" fill="#1f77b4"/>
<circle cx="460.02" cy="658.90" r="2.7" fill="#1f77b4"/>
<circle cx="469.98" cy="663.09" r="2.7" fill="#1f77b4"/>
<circle cx="484.90" cy="676.10" r="2.7" fill="#1f77b4"/>
<circle cx="499.83" cy="689.10" r="2.7" fill="#1f77b4"/>
<circle cx="216.25" cy="663.09" r="2.7" fill="#2ca02c" fill-opacity="0.55"/>
<circle cx="221.23" cy="655.48" r="2.7" fill="#2ca02c" fill-opacity="0.55"/>
<circle cx="226.20" cy="628.71" r="2.7" fill="#2ca02c" fill-opacity="0.55"/>
<circle cx="231.18" cy="631.11" r="2.7" fill="#2ca02c" fill-opacity="0.55"/>
<circle cx="236.15" cy="627.27" r="2.7" fill="#2ca02c" fill-opacity="0.55"/>
<circle cx="241.12" cy="618.10" r="2.7" fill="#2ca02c" fill-opacity="0.55"/>
<circle cx="246.10" cy="601.96" r="2.7" fill="#2ca02c" fill-opacity="0.55"/>
<circle cx="251.08" cy="595.09" r="2.7" fill="#2ca02c" fill-opacity="0.55"/>
<circle cx="256.05" cy="591.78" r="2.7" fill="#2ca02c" fill-opacity="0.55"/>
<circle cx="261.03" cy="581.66" r="2.7" fill="#2ca02c" fill-opacity="0.55"/>
<circle cx="266.00" cy="580.47" r="2.7" fill="#2ca02c" fill-opacity="0.55"/>
<circle cx="270.98" cy="583.38" r="2.7" fill="#2ca02c" fill-opacity="0.55"/>
<circle cx="275.95" cy="581.96" r="2.7" fill="#2ca02c" fill-opacity="0.55"/>
<circle cx="280.93" cy="583.18" r="2.7" fill="#2ca02c" fill-opacity="0.55"/>
<circle cx="285.90" cy="581.17" r="2.7" fill="#2ca02c" fill-opacity="0.55"/>
<circle cx="290.88" cy="587.07" r="2.7" fill="#2ca02c" fill-opacity="0.55"/>
<circle cx="295.85" cy="586.83" r="2.7" fill="#2ca02c" fill-opacity="0.55"/>
<circle cx="300.82" cy="590.07" r="2.7" fill="#2ca02c" fill-opacity="0.55"/>
<circle cx="305.80" cy="596.79" r="2.7" fill="#2ca02c" fill-opacity="0.55"/>
<circle cx="310.78" cy="597.21" r="2.7" fill="#2ca02c" fill-opacity="0.55"/>
<circle cx="315.75" cy="603.08" r="2.7" fill="#2ca02c" fill-opacity="0.55"/>
<circle cx="320.73" cy="602.89" r="2.7" fill="#2ca02c" fill-opacity="0.55"/>
<circle cx="325.70" cy="607.12" r="2.7" fill="#2ca02c" fill-opacity="0.55"/>
<circle cx="330.68" cy="608.10" r="2.7" fill="#2ca02c" fill-opacity="0.55"/>
<circle cx="335.65" cy="611.07" r="2.7" fill="#2ca02c" fill-opacity="0.55"/>
<circle cx="340.62" cy="616.08" r="2.7" fill="#2ca02c" fill-opacity="0.55"/>
<circle cx="345.60" cy="616.47" r="2.7" fill="#2ca02c" fill-opacity="0.55"/>
<circle cx="350.58" cy="619.89" r="2.7" fill="#2ca02c" fill-opacity="0.55"/>
<circle cx="355.55" cy="618.53" r="2.7" fill="#2ca02c" fill-opacity="0.55"/>
<circle cx="360.52" cy="622.94" r="2.7" fill="#2ca02c" fill-opacity="0.55"/>
<circle cx="365.50" cy="630.27" r="2.7" fill="#2ca02c" fill-opacity="0.55"/>
<circle cx="370.48" cy="637.08" r="2.7" fill="#2ca02c" fill-opacity="0.55"/>
<circle cx="375.45" cy="633.86" r="2.7" fill="#2ca02c" fill-opacity="0.55"/>
<circle cx="380.43" cy="638.29" r="2.7" fill="#2ca02c" fill-opacity="0.55"/>
<circle cx="385.40" cy="647.88" r="2.7" fill="#2ca02c" fill-opacity="0.55"/>
<circle cx="390.38" cy="640.98" r="2.7" fill="#2ca02c" fill-opacity="0.55"/>
<circle cx="395.35" cy="658.90" r="2.7" fill="#2ca02c" fill-opacity="0.55"/>
<circle cx="400.33" cy="663.09" r="2.7" fill="#2ca02c" fill-opacity="0.55"/>
<circle cx="405.30" cy="663.09" r="2.7" fill="#2ca02c" fill-opacity="0.55"/>
<circle cx="410.27" cy="668.49" r="2.7" fill="#2ca02c" fill-opacity="0.55"/>
<circle cx="415.25" cy="644.11" r="2.7" fill="#2ca02c" fill-opacity="0.55"/>
<circle cx="420.23" cy="658.90" r="2.7" fill="#2ca02c" fill-opacity="0.55"/>
<circle cx="430.18" cy="676.10" r="2.7" fill="#2ca02c" fill-opacity="0.55"/>
<circle cx="435.15" cy="668.49" r="2.7" fill="#2ca02c" fill-opacity="0.55"/>
<circle cx="440.12" cy="689.10" r="2.7" fill="#2ca02c" fill-opacity="0.55"/>
<circle cx="445.10" cy="676.10" r="2.7" fill="#2ca02c" fill-opacity="0.55"/>
<circle cx="450.08" cy="689.10" r="2.7" fill="#2ca02c" fill-opacity="0.55"/>
<circle cx="455.05" cy="676.10" r="2.7" fill="#2ca02c" fill-opacity="0.55"/>
<circle cx="460.02" cy="689.10" r="2.7" fill="#2ca02c" fill-opacity="0.55"/>
<circle cx="469.98" cy="676.10" r="2.7" fill="#2ca02c" fill-opacity="0.55"/>
<circle cx="484.90" cy="689.10" r="2.7" fill="#2ca02c" fill-opacity="0.55"/>
<circle cx="499.83" cy="689.10" r="2.7" fill="#2ca02c" fill-opacity="0.55"/>
<line x1="202.3" y1="676.10" x2="514.6" y2="676.10" stroke="#707070" stroke-opacity="0.27" stroke-width="0.8"/><line x1="202.3" y1="668.49" x2="514.6" y2="668.49" stroke="#707070" stroke-opacity="0.27" stroke-width="0.8"/><line x1="202.3" y1="663.09" x2="514.6" y2="663.09" stroke="#707070" stroke-opacity="0.27" stroke-width="0.8"/><line x1="202.3" y1="658.90" x2="514.6" y2="658.90" stroke="#707070" stroke-opacity="0.27" stroke-width="0.8"/><line x1="202.3" y1="655.48" x2="514.6" y2="655.48" stroke="#707070" stroke-opacity="0.27" stroke-width="0.8"/><line x1="202.3" y1="652.59" x2="514.6" y2="652.59" stroke="#707070" stroke-opacity="0.27" stroke-width="0.8"/><line x1="202.3" y1="650.09" x2="514.6" y2="650.09" stroke="#707070" stroke-opacity="0.27" stroke-width="0.8"/><line x1="202.3" y1="647.88" x2="514.6" y2="647.88" stroke="#707070" stroke-opacity="0.27" stroke-width="0.8"/><line x1="202.3" y1="632.90" x2="514.6" y2="632.90" stroke="#707070" stroke-opacity="0.27" stroke-width="0.8"/><line x1="202.3" y1="625.29" x2="514.6" y2="625.29" stroke="#707070" stroke-opacity="0.27" stroke-width="0.8"/><line x1="202.3" y1="619.89" x2="514.6" y2="619.89" stroke="#707070" stroke-opacity="0.27" stroke-width="0.8"/><line x1="202.3" y1="615.70" x2="514.6" y2="615.70" stroke="#707070" stroke-opacity="0.27" stroke-width="0.8"/><line x1="202.3" y1="612.28" x2="514.6" y2="612.28" stroke="#707070" stroke-opacity="0.27" stroke-width="0.8"/><line x1="202.3" y1="609.39" x2="514.6" y2="609.39" stroke="#707070" stroke-opacity="0.27" stroke-width="0.8"/><line x1="202.3" y1="606.89" x2="514.6" y2="606.89" stroke="#707070" stroke-opacity="0.27" stroke-width="0.8"/><line x1="202.3" y1="604.68" x2="514.6" y2="604.68" stroke="#707070" stroke-opacity="0.27" stroke-width="0.8"/><line x1="202.3" y1="589.70" x2="514.6" y2="589.70" stroke="#707070" stroke-opacity="0.27" stroke-width="0.8"/><line x1="202.3" y1="582.09" x2="514.6" y2="582.09" stroke="#707070" stroke-opacity="0.27" stroke-width="0.8"/><line x1="202.3" y1="576.69" x2="514.6" y2="576.69" stroke="#707070" stroke-opacity="0.27" stroke-width="0.8"/><line x1="202.3" y1="572.50" x2="514.6" y2="572.50" stroke="#707070" stroke-opacity="0.27" stroke-width="0.8"/><line x1="202.3" y1="569.08" x2="514.6" y2="569.08" stroke="#707070" stroke-opacity="0.27" stroke-width="0.8"/><line x1="202.3" y1="566.19" x2="514.6" y2="566.19" stroke="#707070" stroke-opacity="0.27" stroke-width="0.8"/><line x1="202.3" y1="563.69" x2="514.6" y2="563.69" stroke="#707070" stroke-opacity="0.27" stroke-width="0.8"/><line x1="202.3" y1="561.48" x2="514.6" y2="561.48" stroke="#707070" stroke-opacity="0.27" stroke-width="0.8"/><line x1="202.3" y1="546.50" x2="514.6" y2="546.50" stroke="#707070" stroke-opacity="0.27" stroke-width="0.8"/><line x1="202.3" y1="538.89" x2="514.6" y2="538.89" stroke="#707070" stroke-opacity="0.27" stroke-width="0.8"/><line x1="202.3" y1="533.49" x2="514.6" y2="533.49" stroke="#707070" stroke-opacity="0.27" stroke-width="0.8"/><line x1="202.3" y1="529.30" x2="514.6" y2="529.30" stroke="#707070" stroke-opacity="0.27" stroke-width="0.8"/><line x1="202.3" y1="525.88" x2="514.6" y2="525.88" stroke="#707070" stroke-opacity="0.27" stroke-width="0.8"/><line x1="202.3" y1="522.99" x2="514.6" y2="522.99" stroke="#707070" stroke-opacity="0.27" stroke-width="0.8"/><line x1="202.3" y1="520.49" x2="514.6" y2="520.49" stroke="#707070" stroke-opacity="0.27" stroke-width="0.8"/><line x1="202.3" y1="518.28" x2="514.6" y2="518.28" stroke="#707070" stroke-opacity="0.27" stroke-width="0.8"/><line x1="202.3" y1="503.30" x2="514.6" y2="503.30" stroke="#707070" stroke-opacity="0.27" stroke-width="0.8"/><line x1="202.3" y1="495.69" x2="514.6" y2="495.69" stroke="#707070" stroke-opacity="0.27" stroke-width="0.8"/><line x1="202.3" y1="490.29" x2="514.6" y2="490.29" stroke="#707070" stroke-opacity="0.27" stroke-width="0.8"/><line x1="202.3" y1="486.10" x2="514.6" y2="486.10" stroke="#707070" stroke-opacity="0.27" stroke-width="0.8"/><line x1="202.3" y1="482.68" x2="514.6" y2="482.68" stroke="#707070" stroke-opacity="0.27" stroke-width="0.8"/><line x1="202.3" y1="479.79" x2="514.6" y2="479.79" stroke="#707070" stroke-opacity="0.27" stroke-width="0.8"/><line x1="202.3" y1="693.29" x2="514.6" y2="693.29" stroke="#707070" stroke-opacity="0.27" stroke-width="0.8"/><line x1="202.3" y1="691.08" x2="514.6" y2="691.08" stroke="#707070" stroke-opacity="0.27" stroke-width="0.8"/><line x1="202.3" y1="689.10" x2="514.6" y2="689.10" stroke="#707070" stroke-opacity="0.42" stroke-width="1"/><line x1="202.3" y1="645.90" x2="514.6" y2="645.90" stroke="#707070" stroke-opacity="0.42" stroke-width="1"/><line x1="202.3" y1="602.70" x2="514.6" y2="602.70" stroke="#707070" stroke-opacity="0.42" stroke-width="1"/><line x1="202.3" y1="559.50" x2="514.6" y2="559.50" stroke="#707070" stroke-opacity="0.42" stroke-width="1"/><line x1="202.3" y1="516.30" x2="514.6" y2="516.30" stroke="#707070" stroke-opacity="0.42" stroke-width="1"/><line x1="206.30" y1="479.6" x2="206.30" y2="695.4" stroke="#707070" stroke-opacity="0.42" stroke-width="1"/><line x1="256.05" y1="479.6" x2="256.05" y2="695.4" stroke="#707070" stroke-opacity="0.42" stroke-width="1"/><line x1="305.80" y1="479.6" x2="305.80" y2="695.4" stroke="#707070" stroke-opacity="0.42" stroke-width="1"/><line x1="355.55" y1="479.6" x2="355.55" y2="695.4" stroke="#707070" stroke-opacity="0.42" stroke-width="1"/><line x1="405.30" y1="479.6" x2="405.30" y2="695.4" stroke="#707070" stroke-opacity="0.42" stroke-width="1"/><line x1="455.05" y1="479.6" x2="455.05" y2="695.4" stroke="#707070" stroke-opacity="0.42" stroke-width="1"/><line x1="504.80" y1="479.6" x2="504.80" y2="695.4" stroke="#707070" stroke-opacity="0.42" stroke-width="1"/>
<line x1="266.00" y1="479.6" x2="266.00" y2="695.4" stroke="#3a3a3a" stroke-width="1.3"/>
<line x1="266.00" y1="532.54" x2="499.83" y2="680.76" stroke="#ffd0a0" stroke-width="2.2" stroke-opacity="0.8"/>
<line x1="266.00" y1="532.54" x2="499.83" y2="680.76" stroke="#f01a1a" stroke-width="1.1"/>
</g>
<rect x="202.3" y="479.6" width="312.3" height="215.79999999999995" fill="none" stroke="#666" stroke-width="1"/>
<line x1="206.30" y1="695.4" x2="206.30" y2="701.6999999999999" stroke="#333" stroke-width="0.9"/>
<text x="206.3" y="712.8" font-size="10.9" text-anchor="middle" font-weight="normal" >0</text>
<line x1="256.05" y1="695.4" x2="256.05" y2="701.6999999999999" stroke="#333" stroke-width="0.9"/>
<text x="256.1" y="712.8" font-size="10.9" text-anchor="middle" font-weight="normal" >1</text>
<line x1="305.80" y1="695.4" x2="305.80" y2="701.6999999999999" stroke="#333" stroke-width="0.9"/>
<text x="305.8" y="712.8" font-size="10.9" text-anchor="middle" font-weight="normal" >2</text>
<line x1="355.55" y1="695.4" x2="355.55" y2="701.6999999999999" stroke="#333" stroke-width="0.9"/>
<text x="355.6" y="712.8" font-size="10.9" text-anchor="middle" font-weight="normal" >3</text>
<line x1="405.30" y1="695.4" x2="405.30" y2="701.6999999999999" stroke="#333" stroke-width="0.9"/>
<text x="405.3" y="712.8" font-size="10.9" text-anchor="middle" font-weight="normal" >4</text>
<line x1="455.05" y1="695.4" x2="455.05" y2="701.6999999999999" stroke="#333" stroke-width="0.9"/>
<text x="455.1" y="712.8" font-size="10.9" text-anchor="middle" font-weight="normal" >5</text>
<line x1="504.80" y1="695.4" x2="504.80" y2="701.6999999999999" stroke="#333" stroke-width="0.9"/>
<text x="504.8" y="712.8" font-size="10.9" text-anchor="middle" font-weight="normal" >6</text>
<line x1="216.25" y1="695.4" x2="216.25" y2="698.6" stroke="#444" stroke-width="0.8"/>
<line x1="226.20" y1="695.4" x2="226.20" y2="698.6" stroke="#444" stroke-width="0.8"/>
<line x1="236.15" y1="695.4" x2="236.15" y2="698.6" stroke="#444" stroke-width="0.8"/>
<line x1="246.10" y1="695.4" x2="246.10" y2="698.6" stroke="#444" stroke-width="0.8"/>
<line x1="266.00" y1="695.4" x2="266.00" y2="698.6" stroke="#444" stroke-width="0.8"/>
<line x1="275.95" y1="695.4" x2="275.95" y2="698.6" stroke="#444" stroke-width="0.8"/>
<line x1="285.90" y1="695.4" x2="285.90" y2="698.6" stroke="#444" stroke-width="0.8"/>
<line x1="295.85" y1="695.4" x2="295.85" y2="698.6" stroke="#444" stroke-width="0.8"/>
<line x1="315.75" y1="695.4" x2="315.75" y2="698.6" stroke="#444" stroke-width="0.8"/>
<line x1="325.70" y1="695.4" x2="325.70" y2="698.6" stroke="#444" stroke-width="0.8"/>
<line x1="335.65" y1="695.4" x2="335.65" y2="698.6" stroke="#444" stroke-width="0.8"/>
<line x1="345.60" y1="695.4" x2="345.60" y2="698.6" stroke="#444" stroke-width="0.8"/>
<line x1="365.50" y1="695.4" x2="365.50" y2="698.6" stroke="#444" stroke-width="0.8"/>
<line x1="375.45" y1="695.4" x2="375.45" y2="698.6" stroke="#444" stroke-width="0.8"/>
<line x1="385.40" y1="695.4" x2="385.40" y2="698.6" stroke="#444" stroke-width="0.8"/>
<line x1="395.35" y1="695.4" x2="395.35" y2="698.6" stroke="#444" stroke-width="0.8"/>
<line x1="415.25" y1="695.4" x2="415.25" y2="698.6" stroke="#444" stroke-width="0.8"/>
<line x1="425.20" y1="695.4" x2="425.20" y2="698.6" stroke="#444" stroke-width="0.8"/>
<line x1="435.15" y1="695.4" x2="435.15" y2="698.6" stroke="#444" stroke-width="0.8"/>
<line x1="445.10" y1="695.4" x2="445.10" y2="698.6" stroke="#444" stroke-width="0.8"/>
<line x1="465.00" y1="695.4" x2="465.00" y2="698.6" stroke="#444" stroke-width="0.8"/>
<line x1="474.95" y1="695.4" x2="474.95" y2="698.6" stroke="#444" stroke-width="0.8"/>
<line x1="484.90" y1="695.4" x2="484.90" y2="698.6" stroke="#444" stroke-width="0.8"/>
<line x1="494.85" y1="695.4" x2="494.85" y2="698.6" stroke="#444" stroke-width="0.8"/>
<line x1="196.0" y1="689.10" x2="202.3" y2="689.10" stroke="#333" stroke-width="0.9"/>
<text x="192.5" y="693.1" font-size="10.9" text-anchor="end">10<tspan font-size="7.6" dy="-4.6">0</tspan></text>
<line x1="199.10000000000002" y1="676.10" x2="202.3" y2="676.10" stroke="#444" stroke-width="0.8"/>
<line x1="199.10000000000002" y1="668.49" x2="202.3" y2="668.49" stroke="#444" stroke-width="0.8"/>
<line x1="199.10000000000002" y1="663.09" x2="202.3" y2="663.09" stroke="#444" stroke-width="0.8"/>
<line x1="199.10000000000002" y1="658.90" x2="202.3" y2="658.90" stroke="#444" stroke-width="0.8"/>
<line x1="199.10000000000002" y1="655.48" x2="202.3" y2="655.48" stroke="#444" stroke-width="0.8"/>
<line x1="199.10000000000002" y1="652.59" x2="202.3" y2="652.59" stroke="#444" stroke-width="0.8"/>
<line x1="199.10000000000002" y1="650.09" x2="202.3" y2="650.09" stroke="#444" stroke-width="0.8"/>
<line x1="199.10000000000002" y1="647.88" x2="202.3" y2="647.88" stroke="#444" stroke-width="0.8"/>
<line x1="196.0" y1="645.90" x2="202.3" y2="645.90" stroke="#333" stroke-width="0.9"/>
<text x="192.5" y="649.9" font-size="10.9" text-anchor="end">10<tspan font-size="7.6" dy="-4.6">1</tspan></text>
<line x1="199.10000000000002" y1="632.90" x2="202.3" y2="632.90" stroke="#444" stroke-width="0.8"/>
<line x1="199.10000000000002" y1="625.29" x2="202.3" y2="625.29" stroke="#444" stroke-width="0.8"/>
<line x1="199.10000000000002" y1="619.89" x2="202.3" y2="619.89" stroke="#444" stroke-width="0.8"/>
<line x1="199.10000000000002" y1="615.70" x2="202.3" y2="615.70" stroke="#444" stroke-width="0.8"/>
<line x1="199.10000000000002" y1="612.28" x2="202.3" y2="612.28" stroke="#444" stroke-width="0.8"/>
<line x1="199.10000000000002" y1="609.39" x2="202.3" y2="609.39" stroke="#444" stroke-width="0.8"/>
<line x1="199.10000000000002" y1="606.89" x2="202.3" y2="606.89" stroke="#444" stroke-width="0.8"/>
<line x1="199.10000000000002" y1="604.68" x2="202.3" y2="604.68" stroke="#444" stroke-width="0.8"/>
<line x1="196.0" y1="602.70" x2="202.3" y2="602.70" stroke="#333" stroke-width="0.9"/>
<text x="192.5" y="606.7" font-size="10.9" text-anchor="end">10<tspan font-size="7.6" dy="-4.6">2</tspan></text>
<line x1="199.10000000000002" y1="589.70" x2="202.3" y2="589.70" stroke="#444" stroke-width="0.8"/>
<line x1="199.10000000000002" y1="582.09" x2="202.3" y2="582.09" stroke="#444" stroke-width="0.8"/>
<line x1="199.10000000000002" y1="576.69" x2="202.3" y2="576.69" stroke="#444" stroke-width="0.8"/>
<line x1="199.10000000000002" y1="572.50" x2="202.3" y2="572.50" stroke="#444" stroke-width="0.8"/>
<line x1="199.10000000000002" y1="569.08" x2="202.3" y2="569.08" stroke="#444" stroke-width="0.8"/>
<line x1="199.10000000000002" y1="566.19" x2="202.3" y2="566.19" stroke="#444" stroke-width="0.8"/>
<line x1="199.10000000000002" y1="563.69" x2="202.3" y2="563.69" stroke="#444" stroke-width="0.8"/>
<line x1="199.10000000000002" y1="561.48" x2="202.3" y2="561.48" stroke="#444" stroke-width="0.8"/>
<line x1="196.0" y1="559.50" x2="202.3" y2="559.50" stroke="#333" stroke-width="0.9"/>
<text x="192.5" y="563.5" font-size="10.9" text-anchor="end">10<tspan font-size="7.6" dy="-4.6">3</tspan></text>
<line x1="199.10000000000002" y1="546.50" x2="202.3" y2="546.50" stroke="#444" stroke-width="0.8"/>
<line x1="199.10000000000002" y1="538.89" x2="202.3" y2="538.89" stroke="#444" stroke-width="0.8"/>
<line x1="199.10000000000002" y1="533.49" x2="202.3" y2="533.49" stroke="#444" stroke-width="0.8"/>
<line x1="199.10000000000002" y1="529.30" x2="202.3" y2="529.30" stroke="#444" stroke-width="0.8"/>
<line x1="199.10000000000002" y1="525.88" x2="202.3" y2="525.88" stroke="#444" stroke-width="0.8"/>
<line x1="199.10000000000002" y1="522.99" x2="202.3" y2="522.99" stroke="#444" stroke-width="0.8"/>
<line x1="199.10000000000002" y1="520.49" x2="202.3" y2="520.49" stroke="#444" stroke-width="0.8"/>
<line x1="199.10000000000002" y1="518.28" x2="202.3" y2="518.28" stroke="#444" stroke-width="0.8"/>
<line x1="196.0" y1="516.30" x2="202.3" y2="516.30" stroke="#333" stroke-width="0.9"/>
<text x="192.5" y="520.3" font-size="10.9" text-anchor="end">10<tspan font-size="7.6" dy="-4.6">4</tspan></text>
<line x1="199.10000000000002" y1="503.30" x2="202.3" y2="503.30" stroke="#444" stroke-width="0.8"/>
<line x1="199.10000000000002" y1="495.69" x2="202.3" y2="495.69" stroke="#444" stroke-width="0.8"/>
<line x1="199.10000000000002" y1="490.29" x2="202.3" y2="490.29" stroke="#444" stroke-width="0.8"/>
<line x1="199.10000000000002" y1="486.10" x2="202.3" y2="486.10" stroke="#444" stroke-width="0.8"/>
<line x1="199.10000000000002" y1="482.68" x2="202.3" y2="482.68" stroke="#444" stroke-width="0.8"/>
<line x1="199.10000000000002" y1="479.79" x2="202.3" y2="479.79" stroke="#444" stroke-width="0.8"/>
<line x1="199.10000000000002" y1="693.29" x2="202.3" y2="693.29" stroke="#444" stroke-width="0.8"/>
<line x1="199.10000000000002" y1="691.08" x2="202.3" y2="691.08" stroke="#444" stroke-width="0.8"/>
<text x="181.4" y="477.3" font-size="14" text-anchor="start" font-weight="bold" >(c)</text>
<text x="358.7" y="474.3" font-size="12.45" text-anchor="middle" font-weight="normal" >G-R Law around epicenter (121.7, 24.1)</text>
<text transform="translate(168.4,589.3) rotate(-90)" font-size="10.85" text-anchor="middle">Number of events</text>
<text x="357.9" y="726.3" font-size="10.9" text-anchor="middle">M<tspan font-size="8" dy="2.2" font-style="italic">L</tspan></text>
<text x="212.6" y="513.3" font-size="10.6">M<tspan font-size="7.4" dy="1.8" font-style="italic">c</tspan><tspan dy="-1.8">=1.2</tspan></text>
<path d="M256.3 505.9 L264 509.7 L256.3 513.5Z" fill="#000"/>
<rect x="314.5" y="485.4" width="194.3" height="64.9" rx="2" ry="2" fill="#fff" fill-opacity="0.8" stroke="#cfcfcf" stroke-width="1"/>
<circle cx="329.2" cy="494.4" r="2.7" fill="#1f77b4"/>
<circle cx="329.2" cy="510.6" r="2.7" fill="#2ca02c" fill-opacity="0.55"/>
<line x1="318.3" y1="526.4" x2="340.1" y2="526.4" stroke="#f01a1a" stroke-width="1.1"/>
<rect x="318.3" y="538.9" width="21.8" height="7.6" fill="#ffd8b0"/>
<text x="348.8" y="498.2" font-size="10.9" text-anchor="start" font-weight="normal" >Cumulative Distribution</text>
<text x="348.8" y="514.4" font-size="10.9" text-anchor="start" font-weight="normal" >Non-cumulative Distribution</text>
<text x="348.8" y="529.6" font-size="10.9">log(N<tspan font-size="7.6" dy="2.3" font-style="italic">M≥M</tspan><tspan font-size="5.4" dy="1.6">1.2</tspan><tspan font-size="10.9" dy="-3.9">)=4.5</tspan><tspan dx="-1.2"> − </tspan><tspan dx="-1.2">0.73 M</tspan></text>
<text x="348.8" y="546.8" font-size="10.9" text-anchor="start" font-weight="normal" >Standard Deviation (0.0062)</text>
</svg>
</body></html>
